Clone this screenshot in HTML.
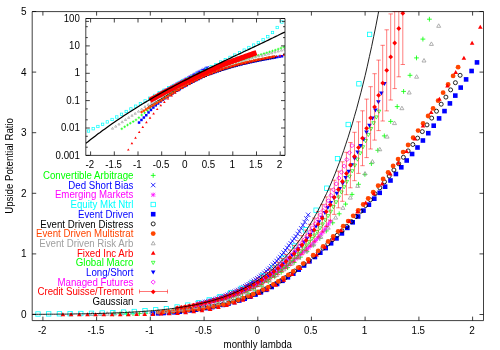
<!DOCTYPE html>
<html><head><meta charset="utf-8"><title>Upside Potential Ratio</title>
<style>
html,body{margin:0;padding:0;background:#fff;}
svg{display:block;filter:blur(0.35px);font-family:"Liberation Sans",sans-serif;font-size:10px;}
</style></head><body>
<svg width="500" height="350" viewBox="0 0 500 350">
<rect width="500" height="350" fill="#fff"/>
<clipPath id="cm"><rect x="32.2" y="11.6" width="451.3" height="309.0"/></clipPath>
<clipPath id="ci"><rect x="85.8" y="18.5" width="199.2" height="136.9"/></clipPath>
<g>
<path d="M427.0,19.2H431.8M429.4,16.8V21.6" stroke="#00ff00" stroke-width="0.8" fill="none"/>
<path d="M420.5,39.1H425.3M422.9,36.7V41.5" stroke="#00ff00" stroke-width="0.8" fill="none"/>
<path d="M414.1,57.9H418.9M416.5,55.5V60.3" stroke="#00ff00" stroke-width="0.8" fill="none"/>
<path d="M407.6,75.3H412.4M410.0,72.9V77.7" stroke="#00ff00" stroke-width="0.8" fill="none"/>
<path d="M401.2,91.4H406.0M403.6,89.0V93.8" stroke="#00ff00" stroke-width="0.8" fill="none"/>
<path d="M394.8,106.6H399.6M397.2,104.2V109.0" stroke="#00ff00" stroke-width="0.8" fill="none"/>
<path d="M388.3,121.4H393.1M390.7,119.0V123.8" stroke="#00ff00" stroke-width="0.8" fill="none"/>
<path d="M381.9,135.9H386.7M384.3,133.5V138.3" stroke="#00ff00" stroke-width="0.8" fill="none"/>
<path d="M375.4,150.3H380.2M377.8,147.9V152.7" stroke="#00ff00" stroke-width="0.8" fill="none"/>
<path d="M369.0,163.6H373.8M371.4,161.2V166.0" stroke="#00ff00" stroke-width="0.8" fill="none"/>
<path d="M362.5,174.4H367.3M364.9,172.0V176.8" stroke="#00ff00" stroke-width="0.8" fill="none"/>
<path d="M356.1,184.3H360.9M358.5,181.9V186.7" stroke="#00ff00" stroke-width="0.8" fill="none"/>
<path d="M349.6,194.4H354.4M352.0,192.0V196.8" stroke="#00ff00" stroke-width="0.8" fill="none"/>
<path d="M343.2,204.1H348.0M345.6,201.7V206.5" stroke="#00ff00" stroke-width="0.8" fill="none"/>
<path d="M336.8,213.8H341.6M339.2,211.4V216.2" stroke="#00ff00" stroke-width="0.8" fill="none"/>
<path d="M330.3,222.8H335.1M332.7,220.4V225.2" stroke="#00ff00" stroke-width="0.8" fill="none"/>
<path d="M323.9,230.9H328.7M326.3,228.5V233.3" stroke="#00ff00" stroke-width="0.8" fill="none"/>
<path d="M317.4,238.3H322.2M319.8,235.9V240.7" stroke="#00ff00" stroke-width="0.8" fill="none"/>
<path d="M311.0,245.1H315.8M313.4,242.7V247.5" stroke="#00ff00" stroke-width="0.8" fill="none"/>
<path d="M304.5,251.4H309.3M306.9,249.0V253.8" stroke="#00ff00" stroke-width="0.8" fill="none"/>
<path d="M298.1,257.1H302.9M300.5,254.7V259.5" stroke="#00ff00" stroke-width="0.8" fill="none"/>
<path d="M291.7,262.5H296.5M294.1,260.1V264.9" stroke="#00ff00" stroke-width="0.8" fill="none"/>
<path d="M285.2,267.6H290.0M287.6,265.2V270.0" stroke="#00ff00" stroke-width="0.8" fill="none"/>
<path d="M278.8,272.3H283.6M281.2,269.9V274.7" stroke="#00ff00" stroke-width="0.8" fill="none"/>
<path d="M272.3,276.8H277.1M274.7,274.4V279.2" stroke="#00ff00" stroke-width="0.8" fill="none"/>
<path d="M265.9,281.5H270.7M268.3,279.1V283.9" stroke="#00ff00" stroke-width="0.8" fill="none"/>
<path d="M259.4,286.2H264.2M261.8,283.8V288.6" stroke="#00ff00" stroke-width="0.8" fill="none"/>
<path d="M253.0,290.2H257.8M255.4,287.8V292.6" stroke="#00ff00" stroke-width="0.8" fill="none"/>
<path d="M246.5,293.7H251.3M248.9,291.3V296.1" stroke="#00ff00" stroke-width="0.8" fill="none"/>
<path d="M240.1,296.7H244.9M242.5,294.3V299.1" stroke="#00ff00" stroke-width="0.8" fill="none"/>
<path d="M233.7,299.3H238.5M236.1,296.9V301.7" stroke="#00ff00" stroke-width="0.8" fill="none"/>
<path d="M227.2,301.5H232.0M229.6,299.1V303.9" stroke="#00ff00" stroke-width="0.8" fill="none"/>
<path d="M220.8,303.4H225.6M223.2,301.0V305.8" stroke="#00ff00" stroke-width="0.8" fill="none"/>
<path d="M214.3,305.0H219.1M216.7,302.6V307.4" stroke="#00ff00" stroke-width="0.8" fill="none"/>
<path d="M207.9,306.5H212.7M210.3,304.1V308.9" stroke="#00ff00" stroke-width="0.8" fill="none"/>
<path d="M201.4,307.7H206.2M203.8,305.3V310.1" stroke="#00ff00" stroke-width="0.8" fill="none"/>
<path d="M195.0,308.8H199.8M197.4,306.4V311.2" stroke="#00ff00" stroke-width="0.8" fill="none"/>
<path d="M188.5,309.8H193.3M190.9,307.4V312.2" stroke="#00ff00" stroke-width="0.8" fill="none"/>
<path d="M182.1,310.6H186.9M184.5,308.2V313.0" stroke="#00ff00" stroke-width="0.8" fill="none"/>
<path d="M175.7,311.3H180.5M178.1,308.9V313.7" stroke="#00ff00" stroke-width="0.8" fill="none"/>
<path d="M169.2,311.9H174.0M171.6,309.5V314.3" stroke="#00ff00" stroke-width="0.8" fill="none"/>
<path d="M162.8,312.3H167.6M165.2,309.9V314.7" stroke="#00ff00" stroke-width="0.8" fill="none"/>
<path d="M156.3,312.7H161.1M158.7,310.3V315.1" stroke="#00ff00" stroke-width="0.8" fill="none"/>
<path d="M149.9,313.1H154.7M152.3,310.7V315.5" stroke="#00ff00" stroke-width="0.8" fill="none"/>
<path d="M143.4,313.3H148.2M145.8,310.9V315.7" stroke="#00ff00" stroke-width="0.8" fill="none"/>
<path d="M137.0,313.5H141.8M139.4,311.1V315.9" stroke="#00ff00" stroke-width="0.8" fill="none"/>
<path d="M130.6,313.6H135.4M133.0,311.2V316.0" stroke="#00ff00" stroke-width="0.8" fill="none"/>
<path d="M124.1,313.7H128.9M126.5,311.3V316.1" stroke="#00ff00" stroke-width="0.8" fill="none"/>
<path d="M117.7,313.8H122.5M120.1,311.4V316.2" stroke="#00ff00" stroke-width="0.8" fill="none"/>
<path d="M111.2,313.9H116.0M113.6,311.5V316.3" stroke="#00ff00" stroke-width="0.8" fill="none"/>
<path d="M306.0,212.6L310.4,217.0M306.0,217.0L310.4,212.6" stroke="#0000ff" stroke-width="0.8" fill="none"/>
<path d="M304.2,216.3L308.6,220.7M304.2,220.7L308.6,216.3" stroke="#0000ff" stroke-width="0.8" fill="none"/>
<path d="M302.5,219.8L306.9,224.2M302.5,224.2L306.9,219.8" stroke="#0000ff" stroke-width="0.8" fill="none"/>
<path d="M300.7,223.0L305.1,227.4M300.7,227.4L305.1,223.0" stroke="#0000ff" stroke-width="0.8" fill="none"/>
<path d="M299.0,226.1L303.4,230.5M299.0,230.5L303.4,226.1" stroke="#0000ff" stroke-width="0.8" fill="none"/>
<path d="M297.2,229.0L301.6,233.4M297.2,233.4L301.6,229.0" stroke="#0000ff" stroke-width="0.8" fill="none"/>
<path d="M295.5,231.7L299.9,236.1M295.5,236.1L299.9,231.7" stroke="#0000ff" stroke-width="0.8" fill="none"/>
<path d="M293.7,234.2L298.1,238.6M293.7,238.6L298.1,234.2" stroke="#0000ff" stroke-width="0.8" fill="none"/>
<path d="M292.0,236.5L296.4,240.9M292.0,240.9L296.4,236.5" stroke="#0000ff" stroke-width="0.8" fill="none"/>
<path d="M290.2,238.8L294.6,243.2M290.2,243.2L294.6,238.8" stroke="#0000ff" stroke-width="0.8" fill="none"/>
<path d="M288.5,241.1L292.9,245.5M288.5,245.5L292.9,241.1" stroke="#0000ff" stroke-width="0.8" fill="none"/>
<path d="M286.7,243.3L291.1,247.7M286.7,247.7L291.1,243.3" stroke="#0000ff" stroke-width="0.8" fill="none"/>
<path d="M285.0,245.7L289.4,250.1M285.0,250.1L289.4,245.7" stroke="#0000ff" stroke-width="0.8" fill="none"/>
<path d="M283.2,248.1L287.6,252.5M283.2,252.5L287.6,248.1" stroke="#0000ff" stroke-width="0.8" fill="none"/>
<path d="M281.5,250.4L285.9,254.8M281.5,254.8L285.9,250.4" stroke="#0000ff" stroke-width="0.8" fill="none"/>
<path d="M279.7,252.7L284.1,257.1M279.7,257.1L284.1,252.7" stroke="#0000ff" stroke-width="0.8" fill="none"/>
<path d="M278.0,254.8L282.4,259.2M278.0,259.2L282.4,254.8" stroke="#0000ff" stroke-width="0.8" fill="none"/>
<path d="M276.2,256.8L280.6,261.2M276.2,261.2L280.6,256.8" stroke="#0000ff" stroke-width="0.8" fill="none"/>
<path d="M274.5,258.8L278.9,263.2M274.5,263.2L278.9,258.8" stroke="#0000ff" stroke-width="0.8" fill="none"/>
<path d="M272.7,260.7L277.1,265.1M272.7,265.1L277.1,260.7" stroke="#0000ff" stroke-width="0.8" fill="none"/>
<path d="M271.0,262.5L275.4,266.9M271.0,266.9L275.4,262.5" stroke="#0000ff" stroke-width="0.8" fill="none"/>
<path d="M269.2,264.2L273.6,268.6M269.2,268.6L273.6,264.2" stroke="#0000ff" stroke-width="0.8" fill="none"/>
<path d="M267.5,265.9L271.9,270.3M267.5,270.3L271.9,265.9" stroke="#0000ff" stroke-width="0.8" fill="none"/>
<path d="M265.7,267.5L270.1,271.9M265.7,271.9L270.1,267.5" stroke="#0000ff" stroke-width="0.8" fill="none"/>
<path d="M264.0,269.1L268.4,273.5M264.0,273.5L268.4,269.1" stroke="#0000ff" stroke-width="0.8" fill="none"/>
<path d="M262.2,270.6L266.6,275.0M262.2,275.0L266.6,270.6" stroke="#0000ff" stroke-width="0.8" fill="none"/>
<path d="M260.5,272.1L264.9,276.5M260.5,276.5L264.9,272.1" stroke="#0000ff" stroke-width="0.8" fill="none"/>
<path d="M258.7,273.5L263.1,277.9M258.7,277.9L263.1,273.5" stroke="#0000ff" stroke-width="0.8" fill="none"/>
<path d="M257.0,274.8L261.4,279.2M257.0,279.2L261.4,274.8" stroke="#0000ff" stroke-width="0.8" fill="none"/>
<path d="M255.2,276.1L259.6,280.5M255.2,280.5L259.6,276.1" stroke="#0000ff" stroke-width="0.8" fill="none"/>
<path d="M253.5,277.4L257.9,281.8M253.5,281.8L257.9,277.4" stroke="#0000ff" stroke-width="0.8" fill="none"/>
<path d="M251.7,278.6L256.1,283.0M251.7,283.0L256.1,278.6" stroke="#0000ff" stroke-width="0.8" fill="none"/>
<path d="M250.0,279.7L254.4,284.1M250.0,284.1L254.4,279.7" stroke="#0000ff" stroke-width="0.8" fill="none"/>
<path d="M248.2,280.9L252.6,285.3M248.2,285.3L252.6,280.9" stroke="#0000ff" stroke-width="0.8" fill="none"/>
<path d="M246.5,282.0L250.9,286.4M246.5,286.4L250.9,282.0" stroke="#0000ff" stroke-width="0.8" fill="none"/>
<path d="M244.7,283.0L249.1,287.4M244.7,287.4L249.1,283.0" stroke="#0000ff" stroke-width="0.8" fill="none"/>
<path d="M243.0,284.0L247.4,288.4M243.0,288.4L247.4,284.0" stroke="#0000ff" stroke-width="0.8" fill="none"/>
<path d="M241.2,285.0L245.6,289.4M241.2,289.4L245.6,285.0" stroke="#0000ff" stroke-width="0.8" fill="none"/>
<path d="M239.5,286.0L243.9,290.4M239.5,290.4L243.9,286.0" stroke="#0000ff" stroke-width="0.8" fill="none"/>
<path d="M237.7,286.9L242.1,291.3M237.7,291.3L242.1,286.9" stroke="#0000ff" stroke-width="0.8" fill="none"/>
<path d="M236.0,287.8L240.4,292.2M236.0,292.2L240.4,287.8" stroke="#0000ff" stroke-width="0.8" fill="none"/>
<path d="M234.2,288.6L238.6,293.0M234.2,293.0L238.6,288.6" stroke="#0000ff" stroke-width="0.8" fill="none"/>
<path d="M232.5,289.5L236.9,293.9M232.5,293.9L236.9,289.5" stroke="#0000ff" stroke-width="0.8" fill="none"/>
<path d="M230.7,290.3L235.1,294.7M230.7,294.7L235.1,290.3" stroke="#0000ff" stroke-width="0.8" fill="none"/>
<path d="M229.0,291.0L233.4,295.4M229.0,295.4L233.4,291.0" stroke="#0000ff" stroke-width="0.8" fill="none"/>
<path d="M227.2,291.8L231.6,296.2M227.2,296.2L231.6,291.8" stroke="#0000ff" stroke-width="0.8" fill="none"/>
<path d="M225.5,292.5L229.9,296.9M225.5,296.9L229.9,292.5" stroke="#0000ff" stroke-width="0.8" fill="none"/>
<path d="M223.7,293.2L228.1,297.6M223.7,297.6L228.1,293.2" stroke="#0000ff" stroke-width="0.8" fill="none"/>
<path d="M222.0,293.9L226.4,298.3M222.0,298.3L226.4,293.9" stroke="#0000ff" stroke-width="0.8" fill="none"/>
<path d="M220.2,294.5L224.6,298.9M220.2,298.9L224.6,294.5" stroke="#0000ff" stroke-width="0.8" fill="none"/>
<path d="M218.5,295.2L222.9,299.6M218.5,299.6L222.9,295.2" stroke="#0000ff" stroke-width="0.8" fill="none"/>
<path d="M216.7,295.8L221.1,300.2M216.7,300.2L221.1,295.8" stroke="#0000ff" stroke-width="0.8" fill="none"/>
<path d="M215.0,296.4L219.4,300.8M215.0,300.8L219.4,296.4" stroke="#0000ff" stroke-width="0.8" fill="none"/>
<path d="M213.2,297.0L217.6,301.4M213.2,301.4L217.6,297.0" stroke="#0000ff" stroke-width="0.8" fill="none"/>
<path d="M211.5,297.5L215.9,301.9M211.5,301.9L215.9,297.5" stroke="#0000ff" stroke-width="0.8" fill="none"/>
<path d="M209.7,298.1L214.1,302.5M209.7,302.5L214.1,298.1" stroke="#0000ff" stroke-width="0.8" fill="none"/>
<path d="M208.0,298.6L212.4,303.0M208.0,303.0L212.4,298.6" stroke="#0000ff" stroke-width="0.8" fill="none"/>
<path d="M206.2,299.1L210.6,303.5M206.2,303.5L210.6,299.1" stroke="#0000ff" stroke-width="0.8" fill="none"/>
<path d="M204.5,299.6L208.9,304.0M204.5,304.0L208.9,299.6" stroke="#0000ff" stroke-width="0.8" fill="none"/>
<path d="M202.7,300.0L207.1,304.4M202.7,304.4L207.1,300.0" stroke="#0000ff" stroke-width="0.8" fill="none"/>
<path d="M201.0,300.5L205.4,304.9M201.0,304.9L205.4,300.5" stroke="#0000ff" stroke-width="0.8" fill="none"/>
<path d="M199.2,300.9L203.6,305.3M199.2,305.3L203.6,300.9" stroke="#0000ff" stroke-width="0.8" fill="none"/>
<path d="M197.5,301.3L201.9,305.7M197.5,305.7L201.9,301.3" stroke="#0000ff" stroke-width="0.8" fill="none"/>
<path d="M195.7,301.7L200.1,306.1M195.7,306.1L200.1,301.7" stroke="#0000ff" stroke-width="0.8" fill="none"/>
<path d="M328.1,221.3H332.7M330.4,219.0V223.6M328.4,219.3L332.4,223.3M328.4,223.3L332.4,219.3" stroke="#ff00ff" stroke-opacity="0.9" stroke-width="0.75" fill="none"/>
<path d="M326.2,224.1H330.8M328.5,221.8V226.4M326.5,222.1L330.5,226.1M326.5,226.1L330.5,222.1" stroke="#ff00ff" stroke-opacity="0.9" stroke-width="0.75" fill="none"/>
<path d="M324.4,226.8H329.0M326.7,224.5V229.1M324.7,224.8L328.7,228.8M324.7,228.8L328.7,224.8" stroke="#ff00ff" stroke-opacity="0.9" stroke-width="0.75" fill="none"/>
<path d="M322.6,229.3H327.2M324.9,227.0V231.6M322.9,227.3L326.9,231.3M322.9,231.3L326.9,227.3" stroke="#ff00ff" stroke-opacity="0.9" stroke-width="0.75" fill="none"/>
<path d="M320.7,231.8H325.3M323.0,229.5V234.1M321.0,229.8L325.0,233.8M321.0,233.8L325.0,229.8" stroke="#ff00ff" stroke-opacity="0.9" stroke-width="0.75" fill="none"/>
<path d="M318.9,234.1H323.5M321.2,231.8V236.4M319.2,232.1L323.2,236.1M319.2,236.1L323.2,232.1" stroke="#ff00ff" stroke-opacity="0.9" stroke-width="0.75" fill="none"/>
<path d="M317.1,236.3H321.7M319.4,234.0V238.6M317.4,234.3L321.4,238.3M317.4,238.3L321.4,234.3" stroke="#ff00ff" stroke-opacity="0.9" stroke-width="0.75" fill="none"/>
<path d="M315.3,238.4H319.9M317.6,236.1V240.7M315.6,236.4L319.6,240.4M315.6,240.4L319.6,236.4" stroke="#ff00ff" stroke-opacity="0.9" stroke-width="0.75" fill="none"/>
<path d="M313.4,240.5H318.0M315.7,238.2V242.8M313.7,238.5L317.7,242.5M313.7,242.5L317.7,238.5" stroke="#ff00ff" stroke-opacity="0.9" stroke-width="0.75" fill="none"/>
<path d="M311.6,242.4H316.2M313.9,240.1V244.7M311.9,240.4L315.9,244.4M311.9,244.4L315.9,240.4" stroke="#ff00ff" stroke-opacity="0.9" stroke-width="0.75" fill="none"/>
<path d="M309.8,244.3H314.4M312.1,242.0V246.6M310.1,242.3L314.1,246.3M310.1,246.3L314.1,242.3" stroke="#ff00ff" stroke-opacity="0.9" stroke-width="0.75" fill="none"/>
<path d="M308.0,246.1H312.6M310.3,243.8V248.4M308.3,244.1L312.3,248.1M308.3,248.1L312.3,244.1" stroke="#ff00ff" stroke-opacity="0.9" stroke-width="0.75" fill="none"/>
<path d="M306.1,247.7H310.7M308.4,245.4V250.0M306.4,245.7L310.4,249.7M306.4,249.7L310.4,245.7" stroke="#ff00ff" stroke-opacity="0.9" stroke-width="0.75" fill="none"/>
<path d="M304.3,249.2H308.9M306.6,246.9V251.5M304.6,247.2L308.6,251.2M304.6,251.2L308.6,247.2" stroke="#ff00ff" stroke-opacity="0.9" stroke-width="0.75" fill="none"/>
<path d="M302.5,250.6H307.1M304.8,248.3V252.9M302.8,248.6L306.8,252.6M302.8,252.6L306.8,248.6" stroke="#ff00ff" stroke-opacity="0.9" stroke-width="0.75" fill="none"/>
<path d="M300.7,252.1H305.3M303.0,249.8V254.4M301.0,250.1L305.0,254.1M301.0,254.1L305.0,250.1" stroke="#ff00ff" stroke-opacity="0.9" stroke-width="0.75" fill="none"/>
<path d="M298.8,253.7H303.4M301.1,251.4V256.0M299.1,251.7L303.1,255.7M299.1,255.7L303.1,251.7" stroke="#ff00ff" stroke-opacity="0.9" stroke-width="0.75" fill="none"/>
<path d="M297.0,255.4H301.6M299.3,253.1V257.7M297.3,253.4L301.3,257.4M297.3,257.4L301.3,253.4" stroke="#ff00ff" stroke-opacity="0.9" stroke-width="0.75" fill="none"/>
<path d="M295.2,257.0H299.8M297.5,254.7V259.3M295.5,255.0L299.5,259.0M295.5,259.0L299.5,255.0" stroke="#ff00ff" stroke-opacity="0.9" stroke-width="0.75" fill="none"/>
<path d="M293.4,258.6H298.0M295.7,256.3V260.9M293.7,256.6L297.7,260.6M293.7,260.6L297.7,256.6" stroke="#ff00ff" stroke-opacity="0.9" stroke-width="0.75" fill="none"/>
<path d="M291.5,260.1H296.1M293.8,257.8V262.4M291.8,258.1L295.8,262.1M291.8,262.1L295.8,258.1" stroke="#ff00ff" stroke-opacity="0.9" stroke-width="0.75" fill="none"/>
<path d="M289.7,261.6H294.3M292.0,259.3V263.9M290.0,259.6L294.0,263.6M290.0,263.6L294.0,259.6" stroke="#ff00ff" stroke-opacity="0.9" stroke-width="0.75" fill="none"/>
<path d="M287.9,263.1H292.5M290.2,260.8V265.4M288.2,261.1L292.2,265.1M288.2,265.1L292.2,261.1" stroke="#ff00ff" stroke-opacity="0.9" stroke-width="0.75" fill="none"/>
<path d="M286.1,264.5H290.7M288.4,262.2V266.8M286.4,262.5L290.4,266.5M286.4,266.5L290.4,262.5" stroke="#ff00ff" stroke-opacity="0.9" stroke-width="0.75" fill="none"/>
<path d="M284.2,265.8H288.8M286.5,263.5V268.1M284.5,263.8L288.5,267.8M284.5,267.8L288.5,263.8" stroke="#ff00ff" stroke-opacity="0.9" stroke-width="0.75" fill="none"/>
<path d="M282.4,267.1H287.0M284.7,264.8V269.4M282.7,265.1L286.7,269.1M282.7,269.1L286.7,265.1" stroke="#ff00ff" stroke-opacity="0.9" stroke-width="0.75" fill="none"/>
<path d="M280.6,268.3H285.2M282.9,266.0V270.6M280.9,266.3L284.9,270.3M280.9,270.3L284.9,266.3" stroke="#ff00ff" stroke-opacity="0.9" stroke-width="0.75" fill="none"/>
<path d="M278.8,269.6H283.4M281.1,267.3V271.9M279.1,267.6L283.1,271.6M279.1,271.6L283.1,267.6" stroke="#ff00ff" stroke-opacity="0.9" stroke-width="0.75" fill="none"/>
<path d="M276.9,270.9H281.5M279.2,268.6V273.2M277.2,268.9L281.2,272.9M277.2,272.9L281.2,268.9" stroke="#ff00ff" stroke-opacity="0.9" stroke-width="0.75" fill="none"/>
<path d="M275.1,272.3H279.7M277.4,270.0V274.6M275.4,270.3L279.4,274.3M275.4,274.3L279.4,270.3" stroke="#ff00ff" stroke-opacity="0.9" stroke-width="0.75" fill="none"/>
<path d="M273.3,273.6H277.9M275.6,271.3V275.9M273.6,271.6L277.6,275.6M273.6,275.6L277.6,271.6" stroke="#ff00ff" stroke-opacity="0.9" stroke-width="0.75" fill="none"/>
<path d="M271.5,274.9H276.1M273.8,272.6V277.2M271.8,272.9L275.8,276.9M271.8,276.9L275.8,272.9" stroke="#ff00ff" stroke-opacity="0.9" stroke-width="0.75" fill="none"/>
<path d="M269.6,276.1H274.2M271.9,273.8V278.4M269.9,274.1L273.9,278.1M269.9,278.1L273.9,274.1" stroke="#ff00ff" stroke-opacity="0.9" stroke-width="0.75" fill="none"/>
<path d="M267.8,277.3H272.4M270.1,275.0V279.6M268.1,275.3L272.1,279.3M268.1,279.3L272.1,275.3" stroke="#ff00ff" stroke-opacity="0.9" stroke-width="0.75" fill="none"/>
<path d="M266.0,278.5H270.6M268.3,276.2V280.8M266.3,276.5L270.3,280.5M266.3,280.5L270.3,276.5" stroke="#ff00ff" stroke-opacity="0.9" stroke-width="0.75" fill="none"/>
<path d="M264.1,279.7H268.7M266.4,277.4V282.0M264.4,277.7L268.4,281.7M264.4,281.7L268.4,277.7" stroke="#ff00ff" stroke-opacity="0.9" stroke-width="0.75" fill="none"/>
<path d="M262.3,280.8H266.9M264.6,278.5V283.1M262.6,278.8L266.6,282.8M262.6,282.8L266.6,278.8" stroke="#ff00ff" stroke-opacity="0.9" stroke-width="0.75" fill="none"/>
<path d="M260.5,281.9H265.1M262.8,279.6V284.2M260.8,279.9L264.8,283.9M260.8,283.9L264.8,279.9" stroke="#ff00ff" stroke-opacity="0.9" stroke-width="0.75" fill="none"/>
<path d="M258.7,283.0H263.3M261.0,280.7V285.3M259.0,281.0L263.0,285.0M259.0,285.0L263.0,281.0" stroke="#ff00ff" stroke-opacity="0.9" stroke-width="0.75" fill="none"/>
<path d="M256.8,284.0H261.4M259.1,281.7V286.3M257.1,282.0L261.1,286.0M257.1,286.0L261.1,282.0" stroke="#ff00ff" stroke-opacity="0.9" stroke-width="0.75" fill="none"/>
<path d="M255.0,285.0H259.6M257.3,282.7V287.3M255.3,283.0L259.3,287.0M255.3,287.0L259.3,283.0" stroke="#ff00ff" stroke-opacity="0.9" stroke-width="0.75" fill="none"/>
<path d="M253.2,286.0H257.8M255.5,283.7V288.3M253.5,284.0L257.5,288.0M253.5,288.0L257.5,284.0" stroke="#ff00ff" stroke-opacity="0.9" stroke-width="0.75" fill="none"/>
<path d="M251.4,286.9H256.0M253.7,284.6V289.2M251.7,284.9L255.7,288.9M251.7,288.9L255.7,284.9" stroke="#ff00ff" stroke-opacity="0.9" stroke-width="0.75" fill="none"/>
<path d="M249.5,287.8H254.1M251.8,285.5V290.1M249.8,285.8L253.8,289.8M249.8,289.8L253.8,285.8" stroke="#ff00ff" stroke-opacity="0.9" stroke-width="0.75" fill="none"/>
<path d="M247.7,288.7H252.3M250.0,286.4V291.0M248.0,286.7L252.0,290.7M248.0,290.7L252.0,286.7" stroke="#ff00ff" stroke-opacity="0.9" stroke-width="0.75" fill="none"/>
<path d="M245.9,289.5H250.5M248.2,287.2V291.8M246.2,287.5L250.2,291.5M246.2,291.5L250.2,287.5" stroke="#ff00ff" stroke-opacity="0.9" stroke-width="0.75" fill="none"/>
<path d="M244.1,290.4H248.7M246.4,288.1V292.7M244.4,288.4L248.4,292.4M244.4,292.4L248.4,288.4" stroke="#ff00ff" stroke-opacity="0.9" stroke-width="0.75" fill="none"/>
<path d="M242.2,291.2H246.8M244.5,288.9V293.5M242.5,289.2L246.5,293.2M242.5,293.2L246.5,289.2" stroke="#ff00ff" stroke-opacity="0.9" stroke-width="0.75" fill="none"/>
<path d="M240.4,291.9H245.0M242.7,289.6V294.2M240.7,289.9L244.7,293.9M240.7,293.9L244.7,289.9" stroke="#ff00ff" stroke-opacity="0.9" stroke-width="0.75" fill="none"/>
<path d="M238.6,292.7H243.2M240.9,290.4V295.0M238.9,290.7L242.9,294.7M238.9,294.7L242.9,290.7" stroke="#ff00ff" stroke-opacity="0.9" stroke-width="0.75" fill="none"/>
<path d="M236.8,293.4H241.4M239.1,291.1V295.7M237.1,291.4L241.1,295.4M237.1,295.4L241.1,291.4" stroke="#ff00ff" stroke-opacity="0.9" stroke-width="0.75" fill="none"/>
<path d="M234.9,294.1H239.5M237.2,291.8V296.4M235.2,292.1L239.2,296.1M235.2,296.1L239.2,292.1" stroke="#ff00ff" stroke-opacity="0.9" stroke-width="0.75" fill="none"/>
<path d="M233.1,294.8H237.7M235.4,292.5V297.1M233.4,292.8L237.4,296.8M233.4,296.8L237.4,292.8" stroke="#ff00ff" stroke-opacity="0.9" stroke-width="0.75" fill="none"/>
<path d="M231.3,295.5H235.9M233.6,293.2V297.8M231.6,293.5L235.6,297.5M231.6,297.5L235.6,293.5" stroke="#ff00ff" stroke-opacity="0.9" stroke-width="0.75" fill="none"/>
<path d="M229.5,296.2H234.1M231.8,293.9V298.5M229.8,294.2L233.8,298.2M229.8,298.2L233.8,294.2" stroke="#ff00ff" stroke-opacity="0.9" stroke-width="0.75" fill="none"/>
<path d="M227.6,296.8H232.2M229.9,294.5V299.1M227.9,294.8L231.9,298.8M227.9,298.8L231.9,294.8" stroke="#ff00ff" stroke-opacity="0.9" stroke-width="0.75" fill="none"/>
<path d="M225.8,297.4H230.4M228.1,295.1V299.7M226.1,295.4L230.1,299.4M226.1,299.4L230.1,295.4" stroke="#ff00ff" stroke-opacity="0.9" stroke-width="0.75" fill="none"/>
<path d="M224.0,298.0H228.6M226.3,295.7V300.3M224.3,296.0L228.3,300.0M224.3,300.0L228.3,296.0" stroke="#ff00ff" stroke-opacity="0.9" stroke-width="0.75" fill="none"/>
<path d="M222.2,298.6H226.8M224.5,296.3V300.9M222.5,296.6L226.5,300.6M222.5,300.6L226.5,296.6" stroke="#ff00ff" stroke-opacity="0.9" stroke-width="0.75" fill="none"/>
<path d="M220.3,299.1H224.9M222.6,296.8V301.4M220.6,297.1L224.6,301.1M220.6,301.1L224.6,297.1" stroke="#ff00ff" stroke-opacity="0.9" stroke-width="0.75" fill="none"/>
<path d="M218.5,299.7H223.1M220.8,297.4V302.0M218.8,297.7L222.8,301.7M218.8,301.7L222.8,297.7" stroke="#ff00ff" stroke-opacity="0.9" stroke-width="0.75" fill="none"/>
<rect x="367.4" y="32.2" width="4.4" height="4.4" stroke="#00ffff" stroke-width="0.8" fill="none"/>
<rect x="356.7" y="81.6" width="4.4" height="4.4" stroke="#00ffff" stroke-width="0.8" fill="none"/>
<rect x="346.0" y="122.3" width="4.4" height="4.4" stroke="#00ffff" stroke-width="0.8" fill="none"/>
<rect x="335.3" y="156.4" width="4.4" height="4.4" stroke="#00ffff" stroke-width="0.8" fill="none"/>
<rect x="324.6" y="186.0" width="4.4" height="4.4" stroke="#00ffff" stroke-width="0.8" fill="none"/>
<rect x="313.9" y="208.0" width="4.4" height="4.4" stroke="#00ffff" stroke-width="0.8" fill="none"/>
<rect x="303.2" y="227.6" width="4.4" height="4.4" stroke="#00ffff" stroke-width="0.8" fill="none"/>
<rect x="292.5" y="243.8" width="4.4" height="4.4" stroke="#00ffff" stroke-width="0.8" fill="none"/>
<rect x="281.8" y="255.8" width="4.4" height="4.4" stroke="#00ffff" stroke-width="0.8" fill="none"/>
<rect x="271.1" y="265.7" width="4.4" height="4.4" stroke="#00ffff" stroke-width="0.8" fill="none"/>
<rect x="260.4" y="273.8" width="4.4" height="4.4" stroke="#00ffff" stroke-width="0.8" fill="none"/>
<rect x="249.8" y="280.6" width="4.4" height="4.4" stroke="#00ffff" stroke-width="0.8" fill="none"/>
<rect x="239.1" y="286.1" width="4.4" height="4.4" stroke="#00ffff" stroke-width="0.8" fill="none"/>
<rect x="228.4" y="290.6" width="4.4" height="4.4" stroke="#00ffff" stroke-width="0.8" fill="none"/>
<rect x="217.7" y="294.4" width="4.4" height="4.4" stroke="#00ffff" stroke-width="0.8" fill="none"/>
<rect x="207.0" y="297.7" width="4.4" height="4.4" stroke="#00ffff" stroke-width="0.8" fill="none"/>
<rect x="196.3" y="300.6" width="4.4" height="4.4" stroke="#00ffff" stroke-width="0.8" fill="none"/>
<rect x="185.6" y="302.9" width="4.4" height="4.4" stroke="#00ffff" stroke-width="0.8" fill="none"/>
<rect x="174.9" y="304.8" width="4.4" height="4.4" stroke="#00ffff" stroke-width="0.8" fill="none"/>
<rect x="164.2" y="306.4" width="4.4" height="4.4" stroke="#00ffff" stroke-width="0.8" fill="none"/>
<rect x="153.5" y="307.6" width="4.4" height="4.4" stroke="#00ffff" stroke-width="0.8" fill="none"/>
<rect x="142.8" y="308.5" width="4.4" height="4.4" stroke="#00ffff" stroke-width="0.8" fill="none"/>
<rect x="132.1" y="309.3" width="4.4" height="4.4" stroke="#00ffff" stroke-width="0.8" fill="none"/>
<rect x="121.4" y="309.9" width="4.4" height="4.4" stroke="#00ffff" stroke-width="0.8" fill="none"/>
<rect x="110.7" y="310.4" width="4.4" height="4.4" stroke="#00ffff" stroke-width="0.8" fill="none"/>
<rect x="100.0" y="310.8" width="4.4" height="4.4" stroke="#00ffff" stroke-width="0.8" fill="none"/>
<rect x="89.3" y="311.1" width="4.4" height="4.4" stroke="#00ffff" stroke-width="0.8" fill="none"/>
<rect x="78.6" y="311.3" width="4.4" height="4.4" stroke="#00ffff" stroke-width="0.8" fill="none"/>
<rect x="67.9" y="311.5" width="4.4" height="4.4" stroke="#00ffff" stroke-width="0.8" fill="none"/>
<rect x="57.2" y="311.6" width="4.4" height="4.4" stroke="#00ffff" stroke-width="0.8" fill="none"/>
<rect x="46.5" y="311.7" width="4.4" height="4.4" stroke="#00ffff" stroke-width="0.8" fill="none"/>
<rect x="35.8" y="311.8" width="4.4" height="4.4" stroke="#00ffff" stroke-width="0.8" fill="none"/>
<rect x="474.7" y="60.1" width="4.6" height="4.6" fill="#0000ff"/>
<rect x="469.3" y="68.7" width="4.6" height="4.6" fill="#0000ff"/>
<rect x="463.8" y="77.1" width="4.6" height="4.6" fill="#0000ff"/>
<rect x="458.4" y="85.3" width="4.6" height="4.6" fill="#0000ff"/>
<rect x="453.0" y="93.3" width="4.6" height="4.6" fill="#0000ff"/>
<rect x="447.6" y="101.1" width="4.6" height="4.6" fill="#0000ff"/>
<rect x="442.2" y="108.8" width="4.6" height="4.6" fill="#0000ff"/>
<rect x="436.8" y="116.1" width="4.6" height="4.6" fill="#0000ff"/>
<rect x="431.4" y="123.4" width="4.6" height="4.6" fill="#0000ff"/>
<rect x="426.0" y="130.9" width="4.6" height="4.6" fill="#0000ff"/>
<rect x="420.6" y="138.2" width="4.6" height="4.6" fill="#0000ff"/>
<rect x="415.2" y="145.2" width="4.6" height="4.6" fill="#0000ff"/>
<rect x="409.8" y="151.7" width="4.6" height="4.6" fill="#0000ff"/>
<rect x="404.4" y="158.2" width="4.6" height="4.6" fill="#0000ff"/>
<rect x="399.0" y="165.0" width="4.6" height="4.6" fill="#0000ff"/>
<rect x="393.6" y="171.7" width="4.6" height="4.6" fill="#0000ff"/>
<rect x="388.2" y="178.2" width="4.6" height="4.6" fill="#0000ff"/>
<rect x="382.8" y="184.4" width="4.6" height="4.6" fill="#0000ff"/>
<rect x="377.4" y="190.5" width="4.6" height="4.6" fill="#0000ff"/>
<rect x="372.0" y="196.4" width="4.6" height="4.6" fill="#0000ff"/>
<rect x="366.6" y="202.4" width="4.6" height="4.6" fill="#0000ff"/>
<rect x="361.2" y="208.3" width="4.6" height="4.6" fill="#0000ff"/>
<rect x="355.8" y="214.2" width="4.6" height="4.6" fill="#0000ff"/>
<rect x="350.4" y="220.0" width="4.6" height="4.6" fill="#0000ff"/>
<rect x="345.0" y="225.6" width="4.6" height="4.6" fill="#0000ff"/>
<rect x="339.6" y="231.1" width="4.6" height="4.6" fill="#0000ff"/>
<rect x="334.2" y="236.1" width="4.6" height="4.6" fill="#0000ff"/>
<rect x="328.8" y="241.0" width="4.6" height="4.6" fill="#0000ff"/>
<rect x="323.4" y="245.8" width="4.6" height="4.6" fill="#0000ff"/>
<rect x="318.0" y="250.4" width="4.6" height="4.6" fill="#0000ff"/>
<rect x="312.6" y="254.7" width="4.6" height="4.6" fill="#0000ff"/>
<rect x="307.2" y="259.0" width="4.6" height="4.6" fill="#0000ff"/>
<rect x="301.8" y="263.2" width="4.6" height="4.6" fill="#0000ff"/>
<rect x="296.4" y="267.4" width="4.6" height="4.6" fill="#0000ff"/>
<rect x="291.0" y="271.4" width="4.6" height="4.6" fill="#0000ff"/>
<rect x="285.6" y="275.0" width="4.6" height="4.6" fill="#0000ff"/>
<rect x="280.2" y="278.5" width="4.6" height="4.6" fill="#0000ff"/>
<rect x="274.8" y="281.7" width="4.6" height="4.6" fill="#0000ff"/>
<rect x="269.4" y="284.7" width="4.6" height="4.6" fill="#0000ff"/>
<rect x="264.0" y="287.5" width="4.6" height="4.6" fill="#0000ff"/>
<rect x="258.6" y="290.0" width="4.6" height="4.6" fill="#0000ff"/>
<rect x="253.2" y="292.3" width="4.6" height="4.6" fill="#0000ff"/>
<rect x="247.8" y="294.4" width="4.6" height="4.6" fill="#0000ff"/>
<rect x="242.4" y="296.4" width="4.6" height="4.6" fill="#0000ff"/>
<rect x="237.0" y="298.2" width="4.6" height="4.6" fill="#0000ff"/>
<rect x="231.6" y="299.8" width="4.6" height="4.6" fill="#0000ff"/>
<rect x="226.2" y="301.3" width="4.6" height="4.6" fill="#0000ff"/>
<rect x="220.7" y="302.6" width="4.6" height="4.6" fill="#0000ff"/>
<rect x="215.3" y="303.8" width="4.6" height="4.6" fill="#0000ff"/>
<rect x="209.9" y="304.8" width="4.6" height="4.6" fill="#0000ff"/>
<rect x="204.5" y="305.8" width="4.6" height="4.6" fill="#0000ff"/>
<rect x="199.1" y="306.6" width="4.6" height="4.6" fill="#0000ff"/>
<rect x="193.7" y="307.4" width="4.6" height="4.6" fill="#0000ff"/>
<rect x="188.3" y="308.1" width="4.6" height="4.6" fill="#0000ff"/>
<rect x="182.9" y="308.8" width="4.6" height="4.6" fill="#0000ff"/>
<rect x="177.5" y="309.4" width="4.6" height="4.6" fill="#0000ff"/>
<rect x="172.1" y="310.0" width="4.6" height="4.6" fill="#0000ff"/>
<rect x="166.7" y="310.4" width="4.6" height="4.6" fill="#0000ff"/>
<rect x="161.3" y="310.7" width="4.6" height="4.6" fill="#0000ff"/>
<rect x="155.9" y="311.0" width="4.6" height="4.6" fill="#0000ff"/>
<rect x="150.5" y="311.2" width="4.6" height="4.6" fill="#0000ff"/>
<circle cx="460.1" cy="75.3" r="2.0" stroke="#000000" stroke-width="0.85" fill="none"/>
<circle cx="455.4" cy="82.7" r="2.0" stroke="#000000" stroke-width="0.85" fill="none"/>
<circle cx="450.6" cy="89.9" r="2.0" stroke="#000000" stroke-width="0.85" fill="none"/>
<circle cx="445.9" cy="97.1" r="2.0" stroke="#000000" stroke-width="0.85" fill="none"/>
<circle cx="441.2" cy="104.2" r="2.0" stroke="#000000" stroke-width="0.85" fill="none"/>
<circle cx="436.5" cy="111.2" r="2.0" stroke="#000000" stroke-width="0.85" fill="none"/>
<circle cx="431.7" cy="118.1" r="2.0" stroke="#000000" stroke-width="0.85" fill="none"/>
<circle cx="427.0" cy="124.9" r="2.0" stroke="#000000" stroke-width="0.85" fill="none"/>
<circle cx="422.3" cy="131.6" r="2.0" stroke="#000000" stroke-width="0.85" fill="none"/>
<circle cx="417.6" cy="138.1" r="2.0" stroke="#000000" stroke-width="0.85" fill="none"/>
<circle cx="412.8" cy="144.5" r="2.0" stroke="#000000" stroke-width="0.85" fill="none"/>
<circle cx="408.1" cy="150.9" r="2.0" stroke="#000000" stroke-width="0.85" fill="none"/>
<circle cx="403.4" cy="157.3" r="2.0" stroke="#000000" stroke-width="0.85" fill="none"/>
<circle cx="398.7" cy="163.7" r="2.0" stroke="#000000" stroke-width="0.85" fill="none"/>
<circle cx="393.9" cy="170.0" r="2.0" stroke="#000000" stroke-width="0.85" fill="none"/>
<circle cx="389.2" cy="176.0" r="2.0" stroke="#000000" stroke-width="0.85" fill="none"/>
<circle cx="384.5" cy="181.8" r="2.0" stroke="#000000" stroke-width="0.85" fill="none"/>
<circle cx="379.8" cy="187.8" r="2.0" stroke="#000000" stroke-width="0.85" fill="none"/>
<circle cx="375.0" cy="193.8" r="2.0" stroke="#000000" stroke-width="0.85" fill="none"/>
<circle cx="370.3" cy="199.8" r="2.0" stroke="#000000" stroke-width="0.85" fill="none"/>
<circle cx="365.6" cy="205.5" r="2.0" stroke="#000000" stroke-width="0.85" fill="none"/>
<circle cx="360.9" cy="211.2" r="2.0" stroke="#000000" stroke-width="0.85" fill="none"/>
<circle cx="356.1" cy="216.5" r="2.0" stroke="#000000" stroke-width="0.85" fill="none"/>
<circle cx="351.4" cy="221.6" r="2.0" stroke="#000000" stroke-width="0.85" fill="none"/>
<circle cx="346.7" cy="226.4" r="2.0" stroke="#000000" stroke-width="0.85" fill="none"/>
<circle cx="342.0" cy="230.9" r="2.0" stroke="#000000" stroke-width="0.85" fill="none"/>
<circle cx="337.2" cy="235.3" r="2.0" stroke="#000000" stroke-width="0.85" fill="none"/>
<circle cx="332.5" cy="239.6" r="2.0" stroke="#000000" stroke-width="0.85" fill="none"/>
<circle cx="327.8" cy="243.9" r="2.0" stroke="#000000" stroke-width="0.85" fill="none"/>
<circle cx="323.0" cy="248.2" r="2.0" stroke="#000000" stroke-width="0.85" fill="none"/>
<circle cx="318.3" cy="252.5" r="2.0" stroke="#000000" stroke-width="0.85" fill="none"/>
<circle cx="313.6" cy="256.4" r="2.0" stroke="#000000" stroke-width="0.85" fill="none"/>
<circle cx="308.9" cy="260.2" r="2.0" stroke="#000000" stroke-width="0.85" fill="none"/>
<circle cx="304.1" cy="263.9" r="2.0" stroke="#000000" stroke-width="0.85" fill="none"/>
<circle cx="299.4" cy="267.5" r="2.0" stroke="#000000" stroke-width="0.85" fill="none"/>
<circle cx="294.7" cy="271.0" r="2.0" stroke="#000000" stroke-width="0.85" fill="none"/>
<circle cx="290.0" cy="274.5" r="2.0" stroke="#000000" stroke-width="0.85" fill="none"/>
<circle cx="285.2" cy="277.8" r="2.0" stroke="#000000" stroke-width="0.85" fill="none"/>
<circle cx="280.5" cy="280.9" r="2.0" stroke="#000000" stroke-width="0.85" fill="none"/>
<circle cx="275.8" cy="283.7" r="2.0" stroke="#000000" stroke-width="0.85" fill="none"/>
<circle cx="271.1" cy="286.3" r="2.0" stroke="#000000" stroke-width="0.85" fill="none"/>
<circle cx="266.3" cy="288.7" r="2.0" stroke="#000000" stroke-width="0.85" fill="none"/>
<circle cx="261.6" cy="290.9" r="2.0" stroke="#000000" stroke-width="0.85" fill="none"/>
<circle cx="256.9" cy="293.0" r="2.0" stroke="#000000" stroke-width="0.85" fill="none"/>
<circle cx="252.2" cy="294.9" r="2.0" stroke="#000000" stroke-width="0.85" fill="none"/>
<circle cx="247.4" cy="296.8" r="2.0" stroke="#000000" stroke-width="0.85" fill="none"/>
<circle cx="242.7" cy="298.5" r="2.0" stroke="#000000" stroke-width="0.85" fill="none"/>
<circle cx="238.0" cy="300.1" r="2.0" stroke="#000000" stroke-width="0.85" fill="none"/>
<circle cx="233.3" cy="301.5" r="2.0" stroke="#000000" stroke-width="0.85" fill="none"/>
<circle cx="228.5" cy="302.8" r="2.0" stroke="#000000" stroke-width="0.85" fill="none"/>
<circle cx="223.8" cy="304.0" r="2.0" stroke="#000000" stroke-width="0.85" fill="none"/>
<circle cx="219.1" cy="305.0" r="2.0" stroke="#000000" stroke-width="0.85" fill="none"/>
<circle cx="214.4" cy="306.0" r="2.0" stroke="#000000" stroke-width="0.85" fill="none"/>
<circle cx="209.6" cy="306.8" r="2.0" stroke="#000000" stroke-width="0.85" fill="none"/>
<circle cx="204.9" cy="307.6" r="2.0" stroke="#000000" stroke-width="0.85" fill="none"/>
<circle cx="200.2" cy="308.3" r="2.0" stroke="#000000" stroke-width="0.85" fill="none"/>
<circle cx="195.5" cy="308.9" r="2.0" stroke="#000000" stroke-width="0.85" fill="none"/>
<circle cx="190.7" cy="309.5" r="2.0" stroke="#000000" stroke-width="0.85" fill="none"/>
<circle cx="186.0" cy="310.0" r="2.0" stroke="#000000" stroke-width="0.85" fill="none"/>
<circle cx="181.3" cy="310.5" r="2.0" stroke="#000000" stroke-width="0.85" fill="none"/>
<circle cx="176.6" cy="310.9" r="2.0" stroke="#000000" stroke-width="0.85" fill="none"/>
<circle cx="458.1" cy="67.2" r="2.4" fill="#ff4500"/>
<circle cx="453.1" cy="75.9" r="2.4" fill="#ff4500"/>
<circle cx="448.1" cy="84.4" r="2.4" fill="#ff4500"/>
<circle cx="443.1" cy="92.7" r="2.4" fill="#ff4500"/>
<circle cx="438.1" cy="100.7" r="2.4" fill="#ff4500"/>
<circle cx="433.1" cy="108.4" r="2.4" fill="#ff4500"/>
<circle cx="428.1" cy="116.0" r="2.4" fill="#ff4500"/>
<circle cx="423.1" cy="123.4" r="2.4" fill="#ff4500"/>
<circle cx="418.1" cy="130.6" r="2.4" fill="#ff4500"/>
<circle cx="413.1" cy="137.7" r="2.4" fill="#ff4500"/>
<circle cx="408.1" cy="145.0" r="2.4" fill="#ff4500"/>
<circle cx="403.1" cy="152.1" r="2.4" fill="#ff4500"/>
<circle cx="398.1" cy="159.1" r="2.4" fill="#ff4500"/>
<circle cx="393.1" cy="165.9" r="2.4" fill="#ff4500"/>
<circle cx="388.1" cy="172.5" r="2.4" fill="#ff4500"/>
<circle cx="383.1" cy="179.0" r="2.4" fill="#ff4500"/>
<circle cx="378.1" cy="185.7" r="2.4" fill="#ff4500"/>
<circle cx="373.2" cy="192.2" r="2.4" fill="#ff4500"/>
<circle cx="368.2" cy="198.5" r="2.4" fill="#ff4500"/>
<circle cx="363.2" cy="204.5" r="2.4" fill="#ff4500"/>
<circle cx="358.2" cy="210.3" r="2.4" fill="#ff4500"/>
<circle cx="353.2" cy="215.8" r="2.4" fill="#ff4500"/>
<circle cx="348.2" cy="221.1" r="2.4" fill="#ff4500"/>
<circle cx="343.2" cy="226.2" r="2.4" fill="#ff4500"/>
<circle cx="338.2" cy="231.3" r="2.4" fill="#ff4500"/>
<circle cx="333.2" cy="236.4" r="2.4" fill="#ff4500"/>
<circle cx="328.2" cy="241.5" r="2.4" fill="#ff4500"/>
<circle cx="323.2" cy="246.3" r="2.4" fill="#ff4500"/>
<circle cx="318.2" cy="250.8" r="2.4" fill="#ff4500"/>
<circle cx="313.2" cy="255.2" r="2.4" fill="#ff4500"/>
<circle cx="308.2" cy="259.4" r="2.4" fill="#ff4500"/>
<circle cx="303.2" cy="263.6" r="2.4" fill="#ff4500"/>
<circle cx="298.2" cy="267.6" r="2.4" fill="#ff4500"/>
<circle cx="293.2" cy="271.4" r="2.4" fill="#ff4500"/>
<circle cx="288.3" cy="274.9" r="2.4" fill="#ff4500"/>
<circle cx="283.3" cy="278.2" r="2.4" fill="#ff4500"/>
<circle cx="278.3" cy="281.4" r="2.4" fill="#ff4500"/>
<circle cx="273.3" cy="284.4" r="2.4" fill="#ff4500"/>
<circle cx="268.3" cy="287.2" r="2.4" fill="#ff4500"/>
<circle cx="263.3" cy="289.7" r="2.4" fill="#ff4500"/>
<circle cx="258.3" cy="292.0" r="2.4" fill="#ff4500"/>
<circle cx="253.3" cy="294.2" r="2.4" fill="#ff4500"/>
<circle cx="248.3" cy="296.1" r="2.4" fill="#ff4500"/>
<circle cx="243.3" cy="298.1" r="2.4" fill="#ff4500"/>
<circle cx="238.3" cy="300.0" r="2.4" fill="#ff4500"/>
<circle cx="233.3" cy="301.8" r="2.4" fill="#ff4500"/>
<circle cx="228.3" cy="303.3" r="2.4" fill="#ff4500"/>
<circle cx="223.3" cy="304.6" r="2.4" fill="#ff4500"/>
<circle cx="218.3" cy="305.7" r="2.4" fill="#ff4500"/>
<circle cx="213.3" cy="306.6" r="2.4" fill="#ff4500"/>
<circle cx="208.3" cy="307.5" r="2.4" fill="#ff4500"/>
<circle cx="203.4" cy="308.3" r="2.4" fill="#ff4500"/>
<circle cx="198.4" cy="309.0" r="2.4" fill="#ff4500"/>
<circle cx="193.4" cy="309.5" r="2.4" fill="#ff4500"/>
<circle cx="188.4" cy="310.0" r="2.4" fill="#ff4500"/>
<circle cx="183.4" cy="310.5" r="2.4" fill="#ff4500"/>
<circle cx="178.4" cy="310.9" r="2.4" fill="#ff4500"/>
<circle cx="173.4" cy="311.3" r="2.4" fill="#ff4500"/>
<circle cx="168.4" cy="311.6" r="2.4" fill="#ff4500"/>
<circle cx="163.4" cy="311.9" r="2.4" fill="#ff4500"/>
<circle cx="158.4" cy="312.2" r="2.4" fill="#ff4500"/>
<path d="M438.7,23.8L440.7,27.3H436.7Z" stroke="#a0a0a0" stroke-width="0.85" fill="none"/>
<path d="M431.4,41.9L433.4,45.4H429.4Z" stroke="#a0a0a0" stroke-width="0.85" fill="none"/>
<path d="M424.0,58.5L426.0,62.0H422.0Z" stroke="#a0a0a0" stroke-width="0.85" fill="none"/>
<path d="M416.6,74.7L418.6,78.2H414.6Z" stroke="#a0a0a0" stroke-width="0.85" fill="none"/>
<path d="M409.2,90.5L411.2,94.0H407.2Z" stroke="#a0a0a0" stroke-width="0.85" fill="none"/>
<path d="M401.9,106.2L403.9,109.7H399.9Z" stroke="#a0a0a0" stroke-width="0.85" fill="none"/>
<path d="M394.5,121.1L396.5,124.6H392.5Z" stroke="#a0a0a0" stroke-width="0.85" fill="none"/>
<path d="M387.1,134.6L389.1,138.1H385.1Z" stroke="#a0a0a0" stroke-width="0.85" fill="none"/>
<path d="M379.8,147.3L381.8,150.8H377.8Z" stroke="#a0a0a0" stroke-width="0.85" fill="none"/>
<path d="M372.4,159.5L374.4,163.0H370.4Z" stroke="#a0a0a0" stroke-width="0.85" fill="none"/>
<path d="M365.0,171.5L367.0,175.0H363.0Z" stroke="#a0a0a0" stroke-width="0.85" fill="none"/>
<path d="M357.7,183.9L359.7,187.4H355.7Z" stroke="#a0a0a0" stroke-width="0.85" fill="none"/>
<path d="M350.3,195.6L352.3,199.1H348.3Z" stroke="#a0a0a0" stroke-width="0.85" fill="none"/>
<path d="M342.9,205.8L344.9,209.3H340.9Z" stroke="#a0a0a0" stroke-width="0.85" fill="none"/>
<path d="M335.6,215.6L337.6,219.1H333.6Z" stroke="#a0a0a0" stroke-width="0.85" fill="none"/>
<path d="M328.2,225.7L330.2,229.2H326.2Z" stroke="#a0a0a0" stroke-width="0.85" fill="none"/>
<path d="M320.8,234.9L322.8,238.4H318.8Z" stroke="#a0a0a0" stroke-width="0.85" fill="none"/>
<path d="M313.5,242.5L315.5,246.0H311.5Z" stroke="#a0a0a0" stroke-width="0.85" fill="none"/>
<path d="M306.1,249.2L308.1,252.7H304.1Z" stroke="#a0a0a0" stroke-width="0.85" fill="none"/>
<path d="M298.7,255.7L300.7,259.2H296.7Z" stroke="#a0a0a0" stroke-width="0.85" fill="none"/>
<path d="M291.4,261.7L293.4,265.2H289.4Z" stroke="#a0a0a0" stroke-width="0.85" fill="none"/>
<path d="M284.0,267.3L286.0,270.8H282.0Z" stroke="#a0a0a0" stroke-width="0.85" fill="none"/>
<path d="M276.6,273.0L278.6,276.5H274.6Z" stroke="#a0a0a0" stroke-width="0.85" fill="none"/>
<path d="M269.3,278.5L271.3,282.0H267.3Z" stroke="#a0a0a0" stroke-width="0.85" fill="none"/>
<path d="M261.9,283.3L263.9,286.8H259.9Z" stroke="#a0a0a0" stroke-width="0.85" fill="none"/>
<path d="M254.5,287.7L256.5,291.2H252.5Z" stroke="#a0a0a0" stroke-width="0.85" fill="none"/>
<path d="M247.2,291.3L249.2,294.8H245.2Z" stroke="#a0a0a0" stroke-width="0.85" fill="none"/>
<path d="M239.8,294.3L241.8,297.8H237.8Z" stroke="#a0a0a0" stroke-width="0.85" fill="none"/>
<path d="M232.4,296.8L234.4,300.3H230.4Z" stroke="#a0a0a0" stroke-width="0.85" fill="none"/>
<path d="M225.1,299.0L227.1,302.5H223.1Z" stroke="#a0a0a0" stroke-width="0.85" fill="none"/>
<path d="M217.7,300.8L219.7,304.3H215.7Z" stroke="#a0a0a0" stroke-width="0.85" fill="none"/>
<path d="M210.3,302.4L212.3,305.9H208.3Z" stroke="#a0a0a0" stroke-width="0.85" fill="none"/>
<path d="M203.0,303.8L205.0,307.3H201.0Z" stroke="#a0a0a0" stroke-width="0.85" fill="none"/>
<path d="M195.6,305.0L197.6,308.5H193.6Z" stroke="#a0a0a0" stroke-width="0.85" fill="none"/>
<path d="M188.2,306.2L190.2,309.7H186.2Z" stroke="#a0a0a0" stroke-width="0.85" fill="none"/>
<path d="M180.9,307.3L182.9,310.8H178.9Z" stroke="#a0a0a0" stroke-width="0.85" fill="none"/>
<path d="M173.5,308.1L175.5,311.6H171.5Z" stroke="#a0a0a0" stroke-width="0.85" fill="none"/>
<path d="M166.1,308.9L168.1,312.4H164.1Z" stroke="#a0a0a0" stroke-width="0.85" fill="none"/>
<path d="M158.7,309.5L160.7,313.0H156.7Z" stroke="#a0a0a0" stroke-width="0.85" fill="none"/>
<path d="M151.4,310.0L153.4,313.5H149.4Z" stroke="#a0a0a0" stroke-width="0.85" fill="none"/>
<path d="M144.0,310.4L146.0,313.9H142.0Z" stroke="#a0a0a0" stroke-width="0.85" fill="none"/>
<path d="M136.6,310.8L138.6,314.3H134.6Z" stroke="#a0a0a0" stroke-width="0.85" fill="none"/>
<path d="M129.3,311.0L131.3,314.5H127.3Z" stroke="#a0a0a0" stroke-width="0.85" fill="none"/>
<path d="M121.9,311.3L123.9,314.8H119.9Z" stroke="#a0a0a0" stroke-width="0.85" fill="none"/>
<path d="M114.5,311.5L116.5,315.0H112.5Z" stroke="#a0a0a0" stroke-width="0.85" fill="none"/>
<path d="M107.2,311.7L109.2,315.2H105.2Z" stroke="#a0a0a0" stroke-width="0.85" fill="none"/>
<path d="M99.8,311.8L101.8,315.3H97.8Z" stroke="#a0a0a0" stroke-width="0.85" fill="none"/>
<path d="M92.4,311.9L94.4,315.4H90.4Z" stroke="#a0a0a0" stroke-width="0.85" fill="none"/>
<path d="M480.3,24.8L482.6,28.8H478.0Z" fill="#ff0000"/>
<path d="M472.1,40.7L474.4,44.7H469.8Z" fill="#ff0000"/>
<path d="M463.9,55.8L466.2,59.8H461.6Z" fill="#ff0000"/>
<path d="M455.7,70.1L458.0,74.1H453.4Z" fill="#ff0000"/>
<path d="M447.5,83.5L449.8,87.5H445.2Z" fill="#ff0000"/>
<path d="M439.4,96.7L441.7,100.7H437.1Z" fill="#ff0000"/>
<path d="M431.2,110.1L433.5,114.1H428.9Z" fill="#ff0000"/>
<path d="M423.0,123.4L425.3,127.4H420.7Z" fill="#ff0000"/>
<path d="M414.8,136.5L417.1,140.5H412.5Z" fill="#ff0000"/>
<path d="M406.6,149.1L408.9,153.1H404.3Z" fill="#ff0000"/>
<path d="M398.4,160.8L400.7,164.8H396.1Z" fill="#ff0000"/>
<path d="M390.3,171.4L392.6,175.4H388.0Z" fill="#ff0000"/>
<path d="M382.1,181.5L384.4,185.5H379.8Z" fill="#ff0000"/>
<path d="M373.9,191.2L376.2,195.2H371.6Z" fill="#ff0000"/>
<path d="M365.7,200.4L368.0,204.4H363.4Z" fill="#ff0000"/>
<path d="M357.5,209.6L359.8,213.6H355.2Z" fill="#ff0000"/>
<path d="M349.3,219.1L351.6,223.1H347.0Z" fill="#ff0000"/>
<path d="M341.2,228.0L343.5,232.0H338.9Z" fill="#ff0000"/>
<path d="M333.0,236.6L335.3,240.6H330.7Z" fill="#ff0000"/>
<path d="M324.8,244.8L327.1,248.8H322.5Z" fill="#ff0000"/>
<path d="M316.6,252.6L318.9,256.6H314.3Z" fill="#ff0000"/>
<path d="M308.4,259.6L310.7,263.6H306.1Z" fill="#ff0000"/>
<path d="M300.2,266.0L302.5,270.0H297.9Z" fill="#ff0000"/>
<path d="M292.1,272.1L294.4,276.1H289.8Z" fill="#ff0000"/>
<path d="M283.9,277.7L286.2,281.7H281.6Z" fill="#ff0000"/>
<path d="M275.7,282.8L278.0,286.8H273.4Z" fill="#ff0000"/>
<path d="M267.5,287.2L269.8,291.2H265.2Z" fill="#ff0000"/>
<path d="M259.3,291.1L261.6,295.1H257.0Z" fill="#ff0000"/>
<path d="M251.1,294.6L253.4,298.6H248.8Z" fill="#ff0000"/>
<path d="M243.0,297.8L245.3,301.8H240.7Z" fill="#ff0000"/>
<path d="M234.8,300.6L237.1,304.6H232.5Z" fill="#ff0000"/>
<path d="M226.6,303.0L228.9,307.0H224.3Z" fill="#ff0000"/>
<path d="M218.4,305.1L220.7,309.1H216.1Z" fill="#ff0000"/>
<path d="M210.2,306.9L212.5,310.9H207.9Z" fill="#ff0000"/>
<path d="M202.0,308.2L204.3,312.2H199.7Z" fill="#ff0000"/>
<path d="M193.8,309.3L196.1,313.3H191.5Z" fill="#ff0000"/>
<path d="M185.7,310.2L188.0,314.2H183.4Z" fill="#ff0000"/>
<path d="M177.5,310.9L179.8,314.9H175.2Z" fill="#ff0000"/>
<path d="M169.3,311.3L171.6,315.3H167.0Z" fill="#ff0000"/>
<path d="M161.1,311.6L163.4,315.6H158.8Z" fill="#ff0000"/>
<path d="M152.9,311.9L155.2,315.9H150.6Z" fill="#ff0000"/>
<path d="M144.7,312.0L147.0,316.0H142.4Z" fill="#ff0000"/>
<path d="M136.6,312.1L138.9,316.1H134.3Z" fill="#ff0000"/>
<path d="M128.4,312.2L130.7,316.2H126.1Z" fill="#ff0000"/>
<path d="M120.2,312.3L122.5,316.3H117.9Z" fill="#ff0000"/>
<path d="M112.0,312.3L114.3,316.3H109.7Z" fill="#ff0000"/>
<path d="M103.8,312.3L106.1,316.3H101.5Z" fill="#ff0000"/>
<path d="M95.6,312.3L97.9,316.3H93.3Z" fill="#ff0000"/>
<path d="M87.5,312.3L89.8,316.3H85.2Z" fill="#ff0000"/>
<path d="M79.3,312.3L81.6,316.3H77.0Z" fill="#ff0000"/>
<path d="M71.1,312.3L73.4,316.3H68.8Z" fill="#ff0000"/>
<path d="M62.9,312.3L65.2,316.3H60.6Z" fill="#ff0000"/>
<path d="M379.0,113.3L380.8,110.1H377.2Z" stroke="#00ff00" stroke-width="0.7" fill="none"/>
<path d="M376.3,119.1L378.1,115.9H374.5Z" stroke="#00ff00" stroke-width="0.7" fill="none"/>
<path d="M373.6,124.9L375.4,121.7H371.8Z" stroke="#00ff00" stroke-width="0.7" fill="none"/>
<path d="M370.9,130.7L372.7,127.5H369.1Z" stroke="#00ff00" stroke-width="0.7" fill="none"/>
<path d="M368.3,136.6L370.1,133.4H366.5Z" stroke="#00ff00" stroke-width="0.7" fill="none"/>
<path d="M365.6,142.7L367.4,139.5H363.8Z" stroke="#00ff00" stroke-width="0.7" fill="none"/>
<path d="M362.9,148.9L364.7,145.7H361.1Z" stroke="#00ff00" stroke-width="0.7" fill="none"/>
<path d="M360.2,155.1L362.0,151.9H358.4Z" stroke="#00ff00" stroke-width="0.7" fill="none"/>
<path d="M357.5,161.2L359.3,158.0H355.7Z" stroke="#00ff00" stroke-width="0.7" fill="none"/>
<path d="M354.8,167.2L356.6,164.0H353.0Z" stroke="#00ff00" stroke-width="0.7" fill="none"/>
<path d="M352.2,172.9L354.0,169.7H350.4Z" stroke="#00ff00" stroke-width="0.7" fill="none"/>
<path d="M349.5,178.3L351.3,175.1H347.7Z" stroke="#00ff00" stroke-width="0.7" fill="none"/>
<path d="M346.8,183.6L348.6,180.4H345.0Z" stroke="#00ff00" stroke-width="0.7" fill="none"/>
<path d="M344.1,188.9L345.9,185.7H342.3Z" stroke="#00ff00" stroke-width="0.7" fill="none"/>
<path d="M341.4,194.1L343.2,190.9H339.6Z" stroke="#00ff00" stroke-width="0.7" fill="none"/>
<path d="M338.7,199.1L340.5,195.9H336.9Z" stroke="#00ff00" stroke-width="0.7" fill="none"/>
<path d="M336.0,204.0L337.8,200.8H334.2Z" stroke="#00ff00" stroke-width="0.7" fill="none"/>
<path d="M333.4,208.8L335.2,205.6H331.6Z" stroke="#00ff00" stroke-width="0.7" fill="none"/>
<path d="M330.7,213.4L332.5,210.2H328.9Z" stroke="#00ff00" stroke-width="0.7" fill="none"/>
<path d="M328.0,217.8L329.8,214.6H326.2Z" stroke="#00ff00" stroke-width="0.7" fill="none"/>
<path d="M325.3,222.0L327.1,218.8H323.5Z" stroke="#00ff00" stroke-width="0.7" fill="none"/>
<path d="M322.6,226.1L324.4,222.9H320.8Z" stroke="#00ff00" stroke-width="0.7" fill="none"/>
<path d="M319.9,230.0L321.7,226.8H318.1Z" stroke="#00ff00" stroke-width="0.7" fill="none"/>
<path d="M317.2,233.7L319.0,230.5H315.4Z" stroke="#00ff00" stroke-width="0.7" fill="none"/>
<path d="M314.6,237.2L316.4,234.0H312.8Z" stroke="#00ff00" stroke-width="0.7" fill="none"/>
<path d="M311.9,240.6L313.7,237.4H310.1Z" stroke="#00ff00" stroke-width="0.7" fill="none"/>
<path d="M309.2,243.9L311.0,240.7H307.4Z" stroke="#00ff00" stroke-width="0.7" fill="none"/>
<path d="M306.5,247.1L308.3,243.9H304.7Z" stroke="#00ff00" stroke-width="0.7" fill="none"/>
<path d="M303.8,250.2L305.6,247.0H302.0Z" stroke="#00ff00" stroke-width="0.7" fill="none"/>
<path d="M301.1,253.1L302.9,249.9H299.3Z" stroke="#00ff00" stroke-width="0.7" fill="none"/>
<path d="M298.5,255.9L300.3,252.7H296.7Z" stroke="#00ff00" stroke-width="0.7" fill="none"/>
<path d="M295.8,258.7L297.6,255.5H294.0Z" stroke="#00ff00" stroke-width="0.7" fill="none"/>
<path d="M293.1,261.3L294.9,258.1H291.3Z" stroke="#00ff00" stroke-width="0.7" fill="none"/>
<path d="M290.4,263.8L292.2,260.6H288.6Z" stroke="#00ff00" stroke-width="0.7" fill="none"/>
<path d="M287.7,266.3L289.5,263.1H285.9Z" stroke="#00ff00" stroke-width="0.7" fill="none"/>
<path d="M285.0,268.6L286.8,265.4H283.2Z" stroke="#00ff00" stroke-width="0.7" fill="none"/>
<path d="M282.3,270.8L284.1,267.6H280.5Z" stroke="#00ff00" stroke-width="0.7" fill="none"/>
<path d="M279.7,272.9L281.5,269.7H277.9Z" stroke="#00ff00" stroke-width="0.7" fill="none"/>
<path d="M277.0,275.0L278.8,271.8H275.2Z" stroke="#00ff00" stroke-width="0.7" fill="none"/>
<path d="M274.3,276.9L276.1,273.7H272.5Z" stroke="#00ff00" stroke-width="0.7" fill="none"/>
<path d="M271.6,278.8L273.4,275.6H269.8Z" stroke="#00ff00" stroke-width="0.7" fill="none"/>
<path d="M268.9,280.5L270.7,277.3H267.1Z" stroke="#00ff00" stroke-width="0.7" fill="none"/>
<path d="M266.2,282.2L268.0,279.0H264.4Z" stroke="#00ff00" stroke-width="0.7" fill="none"/>
<path d="M263.5,283.9L265.3,280.7H261.7Z" stroke="#00ff00" stroke-width="0.7" fill="none"/>
<path d="M260.9,285.4L262.7,282.2H259.1Z" stroke="#00ff00" stroke-width="0.7" fill="none"/>
<path d="M258.2,286.9L260.0,283.7H256.4Z" stroke="#00ff00" stroke-width="0.7" fill="none"/>
<path d="M255.5,288.3L257.3,285.1H253.7Z" stroke="#00ff00" stroke-width="0.7" fill="none"/>
<path d="M252.8,289.7L254.6,286.5H251.0Z" stroke="#00ff00" stroke-width="0.7" fill="none"/>
<path d="M250.1,291.0L251.9,287.8H248.3Z" stroke="#00ff00" stroke-width="0.7" fill="none"/>
<path d="M247.4,292.2L249.2,289.0H245.6Z" stroke="#00ff00" stroke-width="0.7" fill="none"/>
<path d="M244.8,293.4L246.6,290.2H243.0Z" stroke="#00ff00" stroke-width="0.7" fill="none"/>
<path d="M242.1,294.5L243.9,291.3H240.3Z" stroke="#00ff00" stroke-width="0.7" fill="none"/>
<path d="M239.4,295.6L241.2,292.4H237.6Z" stroke="#00ff00" stroke-width="0.7" fill="none"/>
<path d="M236.7,296.6L238.5,293.4H234.9Z" stroke="#00ff00" stroke-width="0.7" fill="none"/>
<path d="M234.0,297.6L235.8,294.4H232.2Z" stroke="#00ff00" stroke-width="0.7" fill="none"/>
<path d="M231.3,298.5L233.1,295.3H229.5Z" stroke="#00ff00" stroke-width="0.7" fill="none"/>
<path d="M228.6,299.4L230.4,296.2H226.8Z" stroke="#00ff00" stroke-width="0.7" fill="none"/>
<path d="M226.0,300.2L227.8,297.0H224.2Z" stroke="#00ff00" stroke-width="0.7" fill="none"/>
<path d="M223.3,301.0L225.1,297.8H221.5Z" stroke="#00ff00" stroke-width="0.7" fill="none"/>
<path d="M220.6,301.8L222.4,298.6H218.8Z" stroke="#00ff00" stroke-width="0.7" fill="none"/>
<path d="M217.9,302.6L219.7,299.4H216.1Z" stroke="#00ff00" stroke-width="0.7" fill="none"/>
<path d="M384.4,85.9L386.7,81.9H382.1Z" fill="#0000ff"/>
<path d="M381.4,95.4L383.7,91.4H379.1Z" fill="#0000ff"/>
<path d="M378.4,104.3L380.7,100.3H376.1Z" fill="#0000ff"/>
<path d="M375.4,112.6L377.7,108.6H373.1Z" fill="#0000ff"/>
<path d="M372.5,120.5L374.8,116.5H370.2Z" fill="#0000ff"/>
<path d="M369.5,127.8L371.8,123.8H367.2Z" fill="#0000ff"/>
<path d="M366.5,134.6L368.8,130.6H364.2Z" fill="#0000ff"/>
<path d="M363.5,141.4L365.8,137.4H361.2Z" fill="#0000ff"/>
<path d="M360.6,148.0L362.9,144.0H358.3Z" fill="#0000ff"/>
<path d="M357.6,154.4L359.9,150.4H355.3Z" fill="#0000ff"/>
<path d="M354.6,160.8L356.9,156.8H352.3Z" fill="#0000ff"/>
<path d="M351.6,167.3L353.9,163.3H349.3Z" fill="#0000ff"/>
<path d="M348.7,173.7L351.0,169.7H346.4Z" fill="#0000ff"/>
<path d="M345.7,179.9L348.0,175.9H343.4Z" fill="#0000ff"/>
<path d="M342.7,185.7L345.0,181.7H340.4Z" fill="#0000ff"/>
<path d="M339.7,190.9L342.0,186.9H337.4Z" fill="#0000ff"/>
<path d="M336.8,195.7L339.1,191.7H334.5Z" fill="#0000ff"/>
<path d="M333.8,200.3L336.1,196.3H331.5Z" fill="#0000ff"/>
<path d="M330.8,205.1L333.1,201.1H328.5Z" fill="#0000ff"/>
<path d="M327.8,210.1L330.1,206.1H325.5Z" fill="#0000ff"/>
<path d="M324.9,215.0L327.2,211.0H322.6Z" fill="#0000ff"/>
<path d="M321.9,219.7L324.2,215.7H319.6Z" fill="#0000ff"/>
<path d="M318.9,224.3L321.2,220.3H316.6Z" fill="#0000ff"/>
<path d="M316.0,228.7L318.3,224.7H313.7Z" fill="#0000ff"/>
<path d="M313.0,232.9L315.3,228.9H310.7Z" fill="#0000ff"/>
<path d="M310.0,236.9L312.3,232.9H307.7Z" fill="#0000ff"/>
<path d="M307.0,240.7L309.3,236.7H304.7Z" fill="#0000ff"/>
<path d="M304.1,244.4L306.4,240.4H301.8Z" fill="#0000ff"/>
<path d="M301.1,247.9L303.4,243.9H298.8Z" fill="#0000ff"/>
<path d="M298.1,251.3L300.4,247.3H295.8Z" fill="#0000ff"/>
<path d="M295.1,254.5L297.4,250.5H292.8Z" fill="#0000ff"/>
<path d="M292.2,257.6L294.5,253.6H289.9Z" fill="#0000ff"/>
<path d="M289.2,260.6L291.5,256.6H286.9Z" fill="#0000ff"/>
<path d="M286.2,263.5L288.5,259.5H283.9Z" fill="#0000ff"/>
<path d="M283.2,266.2L285.5,262.2H280.9Z" fill="#0000ff"/>
<path d="M280.3,268.8L282.6,264.8H278.0Z" fill="#0000ff"/>
<path d="M277.3,271.3L279.6,267.3H275.0Z" fill="#0000ff"/>
<path d="M274.3,273.6L276.6,269.6H272.0Z" fill="#0000ff"/>
<path d="M271.3,275.9L273.6,271.9H269.0Z" fill="#0000ff"/>
<path d="M268.4,278.1L270.7,274.1H266.1Z" fill="#0000ff"/>
<path d="M265.4,280.1L267.7,276.1H263.1Z" fill="#0000ff"/>
<path d="M262.4,282.0L264.7,278.0H260.1Z" fill="#0000ff"/>
<path d="M259.4,283.9L261.7,279.9H257.1Z" fill="#0000ff"/>
<path d="M256.5,285.7L258.8,281.7H254.2Z" fill="#0000ff"/>
<path d="M253.5,287.3L255.8,283.3H251.2Z" fill="#0000ff"/>
<path d="M250.5,288.9L252.8,284.9H248.2Z" fill="#0000ff"/>
<path d="M247.5,290.4L249.8,286.4H245.2Z" fill="#0000ff"/>
<path d="M244.6,291.9L246.9,287.9H242.3Z" fill="#0000ff"/>
<path d="M241.6,293.2L243.9,289.2H239.3Z" fill="#0000ff"/>
<path d="M238.6,294.5L240.9,290.5H236.3Z" fill="#0000ff"/>
<path d="M235.6,295.8L237.9,291.8H233.3Z" fill="#0000ff"/>
<path d="M232.7,296.9L235.0,292.9H230.4Z" fill="#0000ff"/>
<path d="M229.7,298.1L232.0,294.1H227.4Z" fill="#0000ff"/>
<path d="M226.7,299.1L229.0,295.1H224.4Z" fill="#0000ff"/>
<path d="M223.7,300.1L226.0,296.1H221.4Z" fill="#0000ff"/>
<path d="M220.8,301.1L223.1,297.1H218.5Z" fill="#0000ff"/>
<path d="M217.8,302.0L220.1,298.0H215.5Z" fill="#0000ff"/>
<path d="M214.8,302.8L217.1,298.8H212.5Z" fill="#0000ff"/>
<path d="M211.8,303.6L214.1,299.6H209.5Z" fill="#0000ff"/>
<path d="M208.9,304.4L211.2,300.4H206.6Z" fill="#0000ff"/>
<path d="M205.9,305.1L208.2,301.1H203.6Z" fill="#0000ff"/>
<path d="M352.0,143.5L354.1,145.6L352.0,147.7L349.9,145.6Z" stroke="#ff00ff" stroke-width="0.85" fill="none"/>
<path d="M349.4,150.7L351.5,152.8L349.4,154.9L347.3,152.8Z" stroke="#ff00ff" stroke-width="0.85" fill="none"/>
<path d="M346.8,157.5L348.9,159.6L346.8,161.7L344.7,159.6Z" stroke="#ff00ff" stroke-width="0.85" fill="none"/>
<path d="M344.2,164.0L346.3,166.1L344.2,168.2L342.1,166.1Z" stroke="#ff00ff" stroke-width="0.85" fill="none"/>
<path d="M341.5,170.1L343.6,172.2L341.5,174.3L339.4,172.2Z" stroke="#ff00ff" stroke-width="0.85" fill="none"/>
<path d="M338.9,176.0L341.0,178.1L338.9,180.2L336.8,178.1Z" stroke="#ff00ff" stroke-width="0.85" fill="none"/>
<path d="M336.3,181.8L338.4,183.9L336.3,186.0L334.2,183.9Z" stroke="#ff00ff" stroke-width="0.85" fill="none"/>
<path d="M333.6,187.7L335.7,189.8L333.6,191.9L331.5,189.8Z" stroke="#ff00ff" stroke-width="0.85" fill="none"/>
<path d="M331.0,193.3L333.1,195.4L331.0,197.5L328.9,195.4Z" stroke="#ff00ff" stroke-width="0.85" fill="none"/>
<path d="M328.4,198.7L330.5,200.8L328.4,202.9L326.3,200.8Z" stroke="#ff00ff" stroke-width="0.85" fill="none"/>
<path d="M325.7,203.8L327.8,205.9L325.7,208.0L323.6,205.9Z" stroke="#ff00ff" stroke-width="0.85" fill="none"/>
<path d="M323.1,208.5L325.2,210.6L323.1,212.7L321.0,210.6Z" stroke="#ff00ff" stroke-width="0.85" fill="none"/>
<path d="M320.5,212.9L322.6,215.0L320.5,217.1L318.4,215.0Z" stroke="#ff00ff" stroke-width="0.85" fill="none"/>
<path d="M317.8,217.4L319.9,219.5L317.8,221.6L315.7,219.5Z" stroke="#ff00ff" stroke-width="0.85" fill="none"/>
<path d="M315.2,221.7L317.3,223.8L315.2,225.9L313.1,223.8Z" stroke="#ff00ff" stroke-width="0.85" fill="none"/>
<path d="M312.6,225.8L314.7,227.9L312.6,230.0L310.5,227.9Z" stroke="#ff00ff" stroke-width="0.85" fill="none"/>
<path d="M309.9,229.8L312.0,231.9L309.9,234.0L307.8,231.9Z" stroke="#ff00ff" stroke-width="0.85" fill="none"/>
<path d="M307.3,233.6L309.4,235.7L307.3,237.8L305.2,235.7Z" stroke="#ff00ff" stroke-width="0.85" fill="none"/>
<path d="M304.7,237.3L306.8,239.4L304.7,241.5L302.6,239.4Z" stroke="#ff00ff" stroke-width="0.85" fill="none"/>
<path d="M302.1,240.7L304.2,242.8L302.1,244.9L300.0,242.8Z" stroke="#ff00ff" stroke-width="0.85" fill="none"/>
<path d="M299.4,244.0L301.5,246.1L299.4,248.2L297.3,246.1Z" stroke="#ff00ff" stroke-width="0.85" fill="none"/>
<path d="M296.8,247.2L298.9,249.3L296.8,251.4L294.7,249.3Z" stroke="#ff00ff" stroke-width="0.85" fill="none"/>
<path d="M294.2,250.2L296.3,252.3L294.2,254.4L292.1,252.3Z" stroke="#ff00ff" stroke-width="0.85" fill="none"/>
<path d="M291.5,253.1L293.6,255.2L291.5,257.3L289.4,255.2Z" stroke="#ff00ff" stroke-width="0.85" fill="none"/>
<path d="M288.9,255.9L291.0,258.0L288.9,260.1L286.8,258.0Z" stroke="#ff00ff" stroke-width="0.85" fill="none"/>
<path d="M286.3,258.5L288.4,260.6L286.3,262.7L284.2,260.6Z" stroke="#ff00ff" stroke-width="0.85" fill="none"/>
<path d="M283.6,261.0L285.7,263.1L283.6,265.2L281.5,263.1Z" stroke="#ff00ff" stroke-width="0.85" fill="none"/>
<path d="M281.0,263.5L283.1,265.6L281.0,267.7L278.9,265.6Z" stroke="#ff00ff" stroke-width="0.85" fill="none"/>
<path d="M278.4,265.8L280.5,267.9L278.4,270.0L276.3,267.9Z" stroke="#ff00ff" stroke-width="0.85" fill="none"/>
<path d="M275.7,268.0L277.8,270.1L275.7,272.2L273.6,270.1Z" stroke="#ff00ff" stroke-width="0.85" fill="none"/>
<path d="M273.1,270.1L275.2,272.2L273.1,274.3L271.0,272.2Z" stroke="#ff00ff" stroke-width="0.85" fill="none"/>
<path d="M270.5,272.1L272.6,274.2L270.5,276.3L268.4,274.2Z" stroke="#ff00ff" stroke-width="0.85" fill="none"/>
<path d="M267.8,274.0L269.9,276.1L267.8,278.2L265.7,276.1Z" stroke="#ff00ff" stroke-width="0.85" fill="none"/>
<path d="M265.2,275.8L267.3,277.9L265.2,280.0L263.1,277.9Z" stroke="#ff00ff" stroke-width="0.85" fill="none"/>
<path d="M262.6,277.6L264.7,279.7L262.6,281.8L260.5,279.7Z" stroke="#ff00ff" stroke-width="0.85" fill="none"/>
<path d="M260.0,279.3L262.1,281.4L260.0,283.5L257.9,281.4Z" stroke="#ff00ff" stroke-width="0.85" fill="none"/>
<path d="M257.3,280.9L259.4,283.0L257.3,285.1L255.2,283.0Z" stroke="#ff00ff" stroke-width="0.85" fill="none"/>
<path d="M254.7,282.4L256.8,284.5L254.7,286.6L252.6,284.5Z" stroke="#ff00ff" stroke-width="0.85" fill="none"/>
<path d="M252.1,283.8L254.2,285.9L252.1,288.0L250.0,285.9Z" stroke="#ff00ff" stroke-width="0.85" fill="none"/>
<path d="M249.4,285.2L251.5,287.3L249.4,289.4L247.3,287.3Z" stroke="#ff00ff" stroke-width="0.85" fill="none"/>
<path d="M246.8,286.6L248.9,288.7L246.8,290.8L244.7,288.7Z" stroke="#ff00ff" stroke-width="0.85" fill="none"/>
<path d="M244.2,287.8L246.3,289.9L244.2,292.0L242.1,289.9Z" stroke="#ff00ff" stroke-width="0.85" fill="none"/>
<path d="M241.5,289.0L243.6,291.1L241.5,293.2L239.4,291.1Z" stroke="#ff00ff" stroke-width="0.85" fill="none"/>
<path d="M238.9,290.2L241.0,292.3L238.9,294.4L236.8,292.3Z" stroke="#ff00ff" stroke-width="0.85" fill="none"/>
<path d="M236.3,291.3L238.4,293.4L236.3,295.5L234.2,293.4Z" stroke="#ff00ff" stroke-width="0.85" fill="none"/>
<path d="M233.6,292.3L235.7,294.4L233.6,296.5L231.5,294.4Z" stroke="#ff00ff" stroke-width="0.85" fill="none"/>
<path d="M231.0,293.4L233.1,295.5L231.0,297.6L228.9,295.5Z" stroke="#ff00ff" stroke-width="0.85" fill="none"/>
<path d="M228.4,294.3L230.5,296.4L228.4,298.5L226.3,296.4Z" stroke="#ff00ff" stroke-width="0.85" fill="none"/>
<path d="M225.7,295.2L227.8,297.3L225.7,299.4L223.6,297.3Z" stroke="#ff00ff" stroke-width="0.85" fill="none"/>
<path d="M223.1,296.1L225.2,298.2L223.1,300.3L221.0,298.2Z" stroke="#ff00ff" stroke-width="0.85" fill="none"/>
<path d="M220.5,296.9L222.6,299.0L220.5,301.1L218.4,299.0Z" stroke="#ff00ff" stroke-width="0.85" fill="none"/>
<path d="M217.9,297.7L220.0,299.8L217.9,301.9L215.8,299.8Z" stroke="#ff00ff" stroke-width="0.85" fill="none"/>
<path d="M215.2,298.5L217.3,300.6L215.2,302.7L213.1,300.6Z" stroke="#ff00ff" stroke-width="0.85" fill="none"/>
<path d="M212.6,299.2L214.7,301.3L212.6,303.4L210.5,301.3Z" stroke="#ff00ff" stroke-width="0.85" fill="none"/>
<path d="M210.0,299.9L212.1,302.0L210.0,304.1L207.9,302.0Z" stroke="#ff00ff" stroke-width="0.85" fill="none"/>
<path d="M207.3,300.5L209.4,302.6L207.3,304.7L205.2,302.6Z" stroke="#ff00ff" stroke-width="0.85" fill="none"/>
<path d="M204.7,301.1L206.8,303.2L204.7,305.3L202.6,303.2Z" stroke="#ff00ff" stroke-width="0.85" fill="none"/>
<path d="M202.1,301.7L204.2,303.8L202.1,305.9L200.0,303.8Z" stroke="#ff00ff" stroke-width="0.85" fill="none"/>
<path d="M199.4,302.3L201.5,304.4L199.4,306.5L197.3,304.4Z" stroke="#ff00ff" stroke-width="0.85" fill="none"/>
<path d="M196.8,302.8L198.9,304.9L196.8,307.0L194.7,304.9Z" stroke="#ff00ff" stroke-width="0.85" fill="none"/>
<path d="M194.2,303.3L196.3,305.4L194.2,307.5L192.1,305.4Z" stroke="#ff00ff" stroke-width="0.85" fill="none"/>
<path d="M402.8,11.6V64.5M400.6,11.6h4.4M400.6,64.5h4.4" stroke="#ff0000" stroke-opacity="0.6" stroke-width="0.85" fill="none"/>
<path d="M402.8,10.9L405.2,13.3L402.8,15.7L400.4,13.3Z" fill="#ff0000"/>
<path d="M398.8,11.6V76.8M396.6,11.6h4.4M396.6,76.8h4.4" stroke="#ff0000" stroke-opacity="0.6" stroke-width="0.85" fill="none"/>
<path d="M398.8,26.1L401.2,28.5L398.8,30.9L396.4,28.5Z" fill="#ff0000"/>
<path d="M394.7,11.6V88.6M392.5,11.6h4.4M392.5,88.6h4.4" stroke="#ff0000" stroke-opacity="0.6" stroke-width="0.85" fill="none"/>
<path d="M394.7,40.6L397.1,43.0L394.7,45.4L392.3,43.0Z" fill="#ff0000"/>
<path d="M390.7,13.9V100.0M388.5,13.9h4.4M388.5,100.0h4.4" stroke="#ff0000" stroke-opacity="0.6" stroke-width="0.85" fill="none"/>
<path d="M390.7,54.5L393.1,56.9L390.7,59.3L388.3,56.9Z" fill="#ff0000"/>
<path d="M386.7,29.8V110.9M384.5,29.8h4.4M384.5,110.9h4.4" stroke="#ff0000" stroke-opacity="0.6" stroke-width="0.85" fill="none"/>
<path d="M386.7,67.9L389.1,70.3L386.7,72.7L384.3,70.3Z" fill="#ff0000"/>
<path d="M382.7,45.3V121.0M380.5,45.3h4.4M380.5,121.0h4.4" stroke="#ff0000" stroke-opacity="0.6" stroke-width="0.85" fill="none"/>
<path d="M382.7,80.7L385.1,83.1L382.7,85.5L380.3,83.1Z" fill="#ff0000"/>
<path d="M378.6,60.1V130.6M376.4,60.1h4.4M376.4,130.6h4.4" stroke="#ff0000" stroke-opacity="0.6" stroke-width="0.85" fill="none"/>
<path d="M378.6,92.9L381.0,95.3L378.6,97.7L376.2,95.3Z" fill="#ff0000"/>
<path d="M374.6,73.7V140.1M372.4,73.7h4.4M372.4,140.1h4.4" stroke="#ff0000" stroke-opacity="0.6" stroke-width="0.85" fill="none"/>
<path d="M374.6,104.5L377.0,106.9L374.6,109.3L372.2,106.9Z" fill="#ff0000"/>
<path d="M370.6,86.7V149.0M368.4,86.7h4.4M368.4,149.0h4.4" stroke="#ff0000" stroke-opacity="0.6" stroke-width="0.85" fill="none"/>
<path d="M370.6,115.5L373.0,117.9L370.6,120.3L368.2,117.9Z" fill="#ff0000"/>
<path d="M366.6,99.1V157.6M364.4,99.1h4.4M364.4,157.6h4.4" stroke="#ff0000" stroke-opacity="0.6" stroke-width="0.85" fill="none"/>
<path d="M366.6,125.9L369.0,128.3L366.6,130.7L364.2,128.3Z" fill="#ff0000"/>
<path d="M362.5,110.8V165.7M360.3,110.8h4.4M360.3,165.7h4.4" stroke="#ff0000" stroke-opacity="0.6" stroke-width="0.85" fill="none"/>
<path d="M362.5,135.8L364.9,138.2L362.5,140.6L360.1,138.2Z" fill="#ff0000"/>
<path d="M358.5,121.8V173.4M356.3,121.8h4.4M356.3,173.4h4.4" stroke="#ff0000" stroke-opacity="0.6" stroke-width="0.85" fill="none"/>
<path d="M358.5,145.2L360.9,147.6L358.5,150.0L356.1,147.6Z" fill="#ff0000"/>
<path d="M354.5,132.3V180.7M352.3,132.3h4.4M352.3,180.7h4.4" stroke="#ff0000" stroke-opacity="0.6" stroke-width="0.85" fill="none"/>
<path d="M354.5,154.1L356.9,156.5L354.5,158.9L352.1,156.5Z" fill="#ff0000"/>
<path d="M350.4,142.5V187.8M348.2,142.5h4.4M348.2,187.8h4.4" stroke="#ff0000" stroke-opacity="0.6" stroke-width="0.85" fill="none"/>
<path d="M350.4,162.7L352.8,165.1L350.4,167.5L348.0,165.1Z" fill="#ff0000"/>
<path d="M346.4,152.3V194.7M344.2,152.3h4.4M344.2,194.7h4.4" stroke="#ff0000" stroke-opacity="0.6" stroke-width="0.85" fill="none"/>
<path d="M346.4,171.1L348.8,173.5L346.4,175.9L344.0,173.5Z" fill="#ff0000"/>
<path d="M342.4,161.8V201.3M340.2,161.8h4.4M340.2,201.3h4.4" stroke="#ff0000" stroke-opacity="0.6" stroke-width="0.85" fill="none"/>
<path d="M342.4,179.1L344.8,181.5L342.4,183.9L340.0,181.5Z" fill="#ff0000"/>
<path d="M338.4,171.1V207.8M336.2,171.1h4.4M336.2,207.8h4.4" stroke="#ff0000" stroke-opacity="0.6" stroke-width="0.85" fill="none"/>
<path d="M338.4,187.1L340.8,189.5L338.4,191.9L336.0,189.5Z" fill="#ff0000"/>
<path d="M334.3,180.2V214.4M332.1,180.2h4.4M332.1,214.4h4.4" stroke="#ff0000" stroke-opacity="0.6" stroke-width="0.85" fill="none"/>
<path d="M334.3,194.9L336.7,197.3L334.3,199.7L331.9,197.3Z" fill="#ff0000"/>
<path d="M330.3,188.8V220.7M328.1,188.8h4.4M328.1,220.7h4.4" stroke="#ff0000" stroke-opacity="0.6" stroke-width="0.85" fill="none"/>
<path d="M330.3,202.4L332.7,204.8L330.3,207.2L327.9,204.8Z" fill="#ff0000"/>
<path d="M326.3,196.9V226.5M324.1,196.9h4.4M324.1,226.5h4.4" stroke="#ff0000" stroke-opacity="0.6" stroke-width="0.85" fill="none"/>
<path d="M326.3,209.3L328.7,211.7L326.3,214.1L323.9,211.7Z" fill="#ff0000"/>
<path d="M322.3,204.4V232.0M320.1,204.4h4.4M320.1,232.0h4.4" stroke="#ff0000" stroke-opacity="0.6" stroke-width="0.85" fill="none"/>
<path d="M322.3,215.8L324.7,218.2L322.3,220.6L319.9,218.2Z" fill="#ff0000"/>
<path d="M318.2,211.5V237.0M316.0,211.5h4.4M316.0,237.0h4.4" stroke="#ff0000" stroke-opacity="0.6" stroke-width="0.85" fill="none"/>
<path d="M318.2,221.8L320.6,224.2L318.2,226.6L315.8,224.2Z" fill="#ff0000"/>
<path d="M314.2,218.1V241.8M312.0,218.1h4.4M312.0,241.8h4.4" stroke="#ff0000" stroke-opacity="0.6" stroke-width="0.85" fill="none"/>
<path d="M314.2,227.5L316.6,229.9L314.2,232.3L311.8,229.9Z" fill="#ff0000"/>
<path d="M310.2,224.3V246.2M308.0,224.3h4.4M308.0,246.2h4.4" stroke="#ff0000" stroke-opacity="0.6" stroke-width="0.85" fill="none"/>
<path d="M310.2,232.9L312.6,235.3L310.2,237.7L307.8,235.3Z" fill="#ff0000"/>
<path d="M306.1,230.1V250.4M303.9,230.1h4.4M303.9,250.4h4.4" stroke="#ff0000" stroke-opacity="0.6" stroke-width="0.85" fill="none"/>
<path d="M306.1,237.9L308.5,240.3L306.1,242.7L303.7,240.3Z" fill="#ff0000"/>
<path d="M302.1,235.6V254.4M299.9,235.6h4.4M299.9,254.4h4.4" stroke="#ff0000" stroke-opacity="0.6" stroke-width="0.85" fill="none"/>
<path d="M302.1,242.6L304.5,245.0L302.1,247.4L299.7,245.0Z" fill="#ff0000"/>
<path d="M298.1,240.8V258.3M295.9,240.8h4.4M295.9,258.3h4.4" stroke="#ff0000" stroke-opacity="0.6" stroke-width="0.85" fill="none"/>
<path d="M298.1,247.1L300.5,249.5L298.1,251.9L295.7,249.5Z" fill="#ff0000"/>
<path d="M294.1,245.6V261.9M291.9,245.6h4.4M291.9,261.9h4.4" stroke="#ff0000" stroke-opacity="0.6" stroke-width="0.85" fill="none"/>
<path d="M294.1,251.4L296.5,253.8L294.1,256.2L291.7,253.8Z" fill="#ff0000"/>
<path d="M290.0,250.1V265.4M287.8,250.1h4.4M287.8,265.4h4.4" stroke="#ff0000" stroke-opacity="0.6" stroke-width="0.85" fill="none"/>
<path d="M290.0,255.3L292.4,257.7L290.0,260.1L287.6,257.7Z" fill="#ff0000"/>
<path d="M286.0,254.4V268.6M283.8,254.4h4.4M283.8,268.6h4.4" stroke="#ff0000" stroke-opacity="0.6" stroke-width="0.85" fill="none"/>
<path d="M286.0,259.1L288.4,261.5L286.0,263.9L283.6,261.5Z" fill="#ff0000"/>
<path d="M282.0,258.4V271.7M279.8,258.4h4.4M279.8,271.7h4.4" stroke="#ff0000" stroke-opacity="0.6" stroke-width="0.85" fill="none"/>
<path d="M282.0,262.7L284.4,265.1L282.0,267.5L279.6,265.1Z" fill="#ff0000"/>
<path d="M278.0,262.2V274.6M275.8,262.2h4.4M275.8,274.6h4.4" stroke="#ff0000" stroke-opacity="0.6" stroke-width="0.85" fill="none"/>
<path d="M278.0,266.0L280.4,268.4L278.0,270.8L275.6,268.4Z" fill="#ff0000"/>
<path d="M273.9,265.8V277.3M271.7,265.8h4.4M271.7,277.3h4.4" stroke="#ff0000" stroke-opacity="0.6" stroke-width="0.85" fill="none"/>
<path d="M273.9,269.1L276.3,271.5L273.9,273.9L271.5,271.5Z" fill="#ff0000"/>
<path d="M269.9,269.1V279.9M267.7,269.1h4.4M267.7,279.9h4.4" stroke="#ff0000" stroke-opacity="0.6" stroke-width="0.85" fill="none"/>
<path d="M269.9,272.1L272.3,274.5L269.9,276.9L267.5,274.5Z" fill="#ff0000"/>
<path d="M265.9,272.3V282.3M263.7,272.3h4.4M263.7,282.3h4.4" stroke="#ff0000" stroke-opacity="0.6" stroke-width="0.85" fill="none"/>
<path d="M265.9,274.9L268.3,277.3L265.9,279.7L263.5,277.3Z" fill="#ff0000"/>
<path d="M261.8,275.3V284.5M259.6,275.3h4.4M259.6,284.5h4.4" stroke="#ff0000" stroke-opacity="0.6" stroke-width="0.85" fill="none"/>
<path d="M261.8,277.5L264.2,279.9L261.8,282.3L259.4,279.9Z" fill="#ff0000"/>
<path d="M257.8,278.0V286.6M255.6,278.0h4.4M255.6,286.6h4.4" stroke="#ff0000" stroke-opacity="0.6" stroke-width="0.85" fill="none"/>
<path d="M257.8,279.9L260.2,282.3L257.8,284.7L255.4,282.3Z" fill="#ff0000"/>
<path d="M253.8,280.6V288.6M251.6,280.6h4.4M251.6,288.6h4.4" stroke="#ff0000" stroke-opacity="0.6" stroke-width="0.85" fill="none"/>
<path d="M253.8,282.2L256.2,284.6L253.8,287.0L251.4,284.6Z" fill="#ff0000"/>
<path d="M249.8,283.1V290.4M247.6,283.1h4.4M247.6,290.4h4.4" stroke="#ff0000" stroke-opacity="0.6" stroke-width="0.85" fill="none"/>
<path d="M249.8,284.4L252.2,286.8L249.8,289.2L247.4,286.8Z" fill="#ff0000"/>
<path d="M245.7,285.3V292.2M243.5,285.3h4.4M243.5,292.2h4.4" stroke="#ff0000" stroke-opacity="0.6" stroke-width="0.85" fill="none"/>
<path d="M245.7,286.4L248.1,288.8L245.7,291.2L243.3,288.8Z" fill="#ff0000"/>
<path d="M241.7,287.5V293.8M239.5,287.5h4.4M239.5,293.8h4.4" stroke="#ff0000" stroke-opacity="0.6" stroke-width="0.85" fill="none"/>
<path d="M241.7,288.2L244.1,290.6L241.7,293.0L239.3,290.6Z" fill="#ff0000"/>
<path d="M237.7,289.4V295.3M235.5,289.4h4.4M235.5,295.3h4.4" stroke="#ff0000" stroke-opacity="0.6" stroke-width="0.85" fill="none"/>
<path d="M237.7,290.0L240.1,292.4L237.7,294.8L235.3,292.4Z" fill="#ff0000"/>
<path d="M233.6,291.3V296.7M231.4,291.3h4.4M231.4,296.7h4.4" stroke="#ff0000" stroke-opacity="0.6" stroke-width="0.85" fill="none"/>
<path d="M233.6,291.6L236.0,294.0L233.6,296.4L231.2,294.0Z" fill="#ff0000"/>
<path d="M229.6,293.0V298.0M227.4,293.0h4.4M227.4,298.0h4.4" stroke="#ff0000" stroke-opacity="0.6" stroke-width="0.85" fill="none"/>
<path d="M229.6,293.1L232.0,295.5L229.6,297.9L227.2,295.5Z" fill="#ff0000"/>
<path d="M225.6,294.6V299.3M223.4,294.6h4.4M223.4,299.3h4.4" stroke="#ff0000" stroke-opacity="0.6" stroke-width="0.85" fill="none"/>
<path d="M225.6,294.6L228.0,297.0L225.6,299.4L223.2,297.0Z" fill="#ff0000"/>
<path d="M221.6,296.1V300.4M219.4,296.1h4.4M219.4,300.4h4.4" stroke="#ff0000" stroke-opacity="0.6" stroke-width="0.85" fill="none"/>
<path d="M221.6,295.9L224.0,298.3L221.6,300.7L219.2,298.3Z" fill="#ff0000"/>
<path d="M217.5,297.5V301.5M215.3,297.5h4.4M215.3,301.5h4.4" stroke="#ff0000" stroke-opacity="0.6" stroke-width="0.85" fill="none"/>
<path d="M217.5,297.1L219.9,299.5L217.5,301.9L215.1,299.5Z" fill="#ff0000"/>
<path d="M213.5,298.8V302.5M211.3,298.8h4.4M211.3,302.5h4.4" stroke="#ff0000" stroke-opacity="0.6" stroke-width="0.85" fill="none"/>
<path d="M213.5,298.2L215.9,300.6L213.5,303.0L211.1,300.6Z" fill="#ff0000"/>
<path d="M209.5,300.0V303.4M207.3,300.0h4.4M207.3,303.4h4.4" stroke="#ff0000" stroke-opacity="0.6" stroke-width="0.85" fill="none"/>
<path d="M209.5,299.3L211.9,301.7L209.5,304.1L207.1,301.7Z" fill="#ff0000"/>
<path d="M205.5,301.1V304.2M203.3,301.1h4.4M203.3,304.2h4.4" stroke="#ff0000" stroke-opacity="0.6" stroke-width="0.85" fill="none"/>
<path d="M205.5,300.3L207.9,302.7L205.5,305.1L203.1,302.7Z" fill="#ff0000"/>
<path d="M201.4,302.2V305.0M199.2,302.2h4.4M199.2,305.0h4.4" stroke="#ff0000" stroke-opacity="0.6" stroke-width="0.85" fill="none"/>
<path d="M201.4,301.2L203.8,303.6L201.4,306.0L199.0,303.6Z" fill="#ff0000"/>
<path d="M197.4,303.1V305.8M195.2,303.1h4.4M195.2,305.8h4.4" stroke="#ff0000" stroke-opacity="0.6" stroke-width="0.85" fill="none"/>
<path d="M197.4,302.0L199.8,304.4L197.4,306.8L195.0,304.4Z" fill="#ff0000"/>
<path d="M193.4,304.0V306.4M191.2,304.0h4.4M191.2,306.4h4.4" stroke="#ff0000" stroke-opacity="0.6" stroke-width="0.85" fill="none"/>
<path d="M193.4,302.8L195.8,305.2L193.4,307.6L191.0,305.2Z" fill="#ff0000"/>
<path d="M189.3,304.8V307.1M187.1,304.8h4.4M187.1,307.1h4.4" stroke="#ff0000" stroke-opacity="0.6" stroke-width="0.85" fill="none"/>
<path d="M189.3,303.6L191.7,306.0L189.3,308.4L186.9,306.0Z" fill="#ff0000"/>
<path d="M185.3,305.6V307.7M183.1,305.6h4.4M183.1,307.7h4.4" stroke="#ff0000" stroke-opacity="0.6" stroke-width="0.85" fill="none"/>
<path d="M185.3,304.2L187.7,306.6L185.3,309.0L182.9,306.6Z" fill="#ff0000"/>
<path d="M181.3,306.3V308.2M179.1,306.3h4.4M179.1,308.2h4.4" stroke="#ff0000" stroke-opacity="0.6" stroke-width="0.85" fill="none"/>
<path d="M181.3,304.9L183.7,307.3L181.3,309.7L178.9,307.3Z" fill="#ff0000"/>
<path d="M177.3,307.0V308.7M175.1,307.0h4.4M175.1,308.7h4.4" stroke="#ff0000" stroke-opacity="0.6" stroke-width="0.85" fill="none"/>
<path d="M177.3,305.5L179.7,307.9L177.3,310.3L174.9,307.9Z" fill="#ff0000"/>
</g>
<g clip-path="url(#cm)">
<polyline points="32.2,314.3 34.4,314.3 36.5,314.3 38.7,314.3 40.8,314.3 42.9,314.3 45.1,314.3 47.2,314.2 49.4,314.2 51.5,314.2 53.7,314.2 55.8,314.2 58.0,314.1 60.1,314.1 62.3,314.1 64.4,314.1 66.6,314.1 68.7,314.0 70.9,314.0 73.0,314.0 75.2,313.9 77.3,313.9 79.5,313.9 81.6,313.8 83.8,313.8 85.9,313.8 88.1,313.7 90.2,313.7 92.4,313.6 94.5,313.6 96.7,313.5 98.8,313.5 100.9,313.4 103.1,313.3 105.2,313.3 107.4,313.2 109.5,313.1 111.7,313.1 113.8,313.0 116.0,312.9 118.1,312.8 120.3,312.7 122.4,312.6 124.6,312.5 126.7,312.4 128.9,312.3 131.0,312.2 133.2,312.1 135.3,311.9 137.5,311.8 139.6,311.7 141.8,311.5 143.9,311.4 146.1,311.2 148.2,311.0 150.4,310.9 152.5,310.7 154.6,310.5 156.8,310.3 158.9,310.1 161.1,309.9 163.2,309.6 165.4,309.4 167.5,309.1 169.7,308.9 171.8,308.6 174.0,308.3 176.1,308.0 178.3,307.7 180.4,307.4 182.6,307.0 184.7,306.7 186.9,306.3 189.0,305.9 191.2,305.5 193.3,305.1 195.5,304.7 197.6,304.2 199.8,303.8 201.9,303.3 204.1,302.7 206.2,302.2 208.3,301.7 210.5,301.1 212.6,300.5 214.8,299.8 216.9,299.2 219.1,298.5 221.2,297.8 223.4,297.1 225.5,296.3 227.7,295.5 229.8,294.7 232.0,293.8 234.1,292.9 236.3,292.0 238.4,291.0 240.6,290.0 242.7,288.9 244.9,287.8 247.0,286.7 249.2,285.5 251.3,284.3 253.5,283.0 255.6,281.7 257.8,280.3 259.9,278.9 262.0,277.4 264.2,275.9 266.3,274.3 268.5,272.6 270.6,270.9 272.8,269.1 274.9,267.2 277.1,265.3 279.2,263.3 281.4,261.2 283.5,259.0 285.7,256.8 287.8,254.4 290.0,252.0 292.1,249.5 294.3,246.9 296.4,244.2 298.6,241.4 300.7,238.5 302.9,235.4 305.0,232.3 307.2,229.0 309.3,225.7 311.5,222.1 313.6,218.5 315.7,214.7 317.9,210.8 320.0,206.7 322.2,202.5 324.3,198.1 326.5,193.6 328.6,188.9 330.8,184.0 332.9,178.9 335.1,173.7 337.2,168.2 339.4,162.5 341.5,156.7 343.7,150.6 345.8,144.2 348.0,137.6 350.1,130.8 352.3,123.8 354.4,116.4 356.6,108.8 358.7,100.9 360.9,92.7 363.0,84.2 365.2,75.3 367.3,66.2 369.4,56.6 371.6,46.7 373.7,36.5 375.9,25.8 378.0,14.8 380.2,3.3 382.3,-8.6 384.5,-21.0" stroke="#000" stroke-opacity="0.88" fill="none" stroke-width="1"/>
</g>
<g clip-path="url(#ci)">
<path d="M282.6,47.1H285.2M283.9,45.8V48.4" stroke="#00ff00" stroke-width="0.7" fill="none"/>
<path d="M279.7,48.1H282.3M281.0,46.8V49.4" stroke="#00ff00" stroke-width="0.7" fill="none"/>
<path d="M276.9,49.1H279.5M278.2,47.8V50.4" stroke="#00ff00" stroke-width="0.7" fill="none"/>
<path d="M274.0,50.1H276.6M275.3,48.8V51.4" stroke="#00ff00" stroke-width="0.7" fill="none"/>
<path d="M271.2,51.0H273.8M272.5,49.7V52.3" stroke="#00ff00" stroke-width="0.7" fill="none"/>
<path d="M268.3,51.9H270.9M269.6,50.6V53.2" stroke="#00ff00" stroke-width="0.7" fill="none"/>
<path d="M265.5,52.8H268.1M266.8,51.5V54.1" stroke="#00ff00" stroke-width="0.7" fill="none"/>
<path d="M262.7,53.6H265.3M264.0,52.3V54.9" stroke="#00ff00" stroke-width="0.7" fill="none"/>
<path d="M259.8,54.4H262.4M261.1,53.1V55.7" stroke="#00ff00" stroke-width="0.7" fill="none"/>
<path d="M257.0,55.3H259.6M258.3,54.0V56.6" stroke="#00ff00" stroke-width="0.7" fill="none"/>
<path d="M254.1,56.1H256.7M255.4,54.8V57.4" stroke="#00ff00" stroke-width="0.7" fill="none"/>
<path d="M251.3,56.9H253.9M252.6,55.6V58.2" stroke="#00ff00" stroke-width="0.7" fill="none"/>
<path d="M248.4,57.8H251.0M249.7,56.5V59.1" stroke="#00ff00" stroke-width="0.7" fill="none"/>
<path d="M245.6,58.6H248.2M246.9,57.3V59.9" stroke="#00ff00" stroke-width="0.7" fill="none"/>
<path d="M242.8,59.5H245.4M244.1,58.2V60.8" stroke="#00ff00" stroke-width="0.7" fill="none"/>
<path d="M239.9,60.4H242.5M241.2,59.1V61.7" stroke="#00ff00" stroke-width="0.7" fill="none"/>
<path d="M237.1,61.4H239.7M238.4,60.1V62.7" stroke="#00ff00" stroke-width="0.7" fill="none"/>
<path d="M234.2,62.4H236.8M235.5,61.1V63.7" stroke="#00ff00" stroke-width="0.7" fill="none"/>
<path d="M231.4,63.3H234.0M232.7,62.0V64.6" stroke="#00ff00" stroke-width="0.7" fill="none"/>
<path d="M228.5,64.2H231.1M229.8,62.9V65.5" stroke="#00ff00" stroke-width="0.7" fill="none"/>
<path d="M225.7,65.1H228.3M227.0,63.8V66.4" stroke="#00ff00" stroke-width="0.7" fill="none"/>
<path d="M222.9,66.1H225.5M224.2,64.8V67.4" stroke="#00ff00" stroke-width="0.7" fill="none"/>
<path d="M220.0,67.2H222.6M221.3,65.9V68.5" stroke="#00ff00" stroke-width="0.7" fill="none"/>
<path d="M217.2,68.3H219.8M218.5,67.0V69.6" stroke="#00ff00" stroke-width="0.7" fill="none"/>
<path d="M214.3,69.4H216.9M215.6,68.1V70.7" stroke="#00ff00" stroke-width="0.7" fill="none"/>
<path d="M211.5,70.5H214.1M212.8,69.2V71.8" stroke="#00ff00" stroke-width="0.7" fill="none"/>
<path d="M208.6,71.7H211.2M209.9,70.4V73.0" stroke="#00ff00" stroke-width="0.7" fill="none"/>
<path d="M205.8,72.8H208.4M207.1,71.5V74.1" stroke="#00ff00" stroke-width="0.7" fill="none"/>
<path d="M203.0,73.9H205.6M204.3,72.6V75.2" stroke="#00ff00" stroke-width="0.7" fill="none"/>
<path d="M200.1,75.1H202.7M201.4,73.8V76.4" stroke="#00ff00" stroke-width="0.7" fill="none"/>
<path d="M197.3,76.3H199.9M198.6,75.0V77.6" stroke="#00ff00" stroke-width="0.7" fill="none"/>
<path d="M194.4,77.6H197.0M195.7,76.3V78.9" stroke="#00ff00" stroke-width="0.7" fill="none"/>
<path d="M191.6,78.9H194.2M192.9,77.6V80.2" stroke="#00ff00" stroke-width="0.7" fill="none"/>
<path d="M188.7,80.5H191.3M190.0,79.2V81.8" stroke="#00ff00" stroke-width="0.7" fill="none"/>
<path d="M185.9,82.3H188.5M187.2,81.0V83.6" stroke="#00ff00" stroke-width="0.7" fill="none"/>
<path d="M183.1,84.1H185.7M184.4,82.8V85.4" stroke="#00ff00" stroke-width="0.7" fill="none"/>
<path d="M180.2,86.0H182.8M181.5,84.7V87.3" stroke="#00ff00" stroke-width="0.7" fill="none"/>
<path d="M177.4,87.8H180.0M178.7,86.5V89.1" stroke="#00ff00" stroke-width="0.7" fill="none"/>
<path d="M174.5,89.7H177.1M175.8,88.4V91.0" stroke="#00ff00" stroke-width="0.7" fill="none"/>
<path d="M171.7,91.5H174.3M173.0,90.2V92.8" stroke="#00ff00" stroke-width="0.7" fill="none"/>
<path d="M168.8,93.4H171.4M170.1,92.1V94.7" stroke="#00ff00" stroke-width="0.7" fill="none"/>
<path d="M166.0,95.3H168.6M167.3,94.0V96.6" stroke="#00ff00" stroke-width="0.7" fill="none"/>
<path d="M163.2,97.3H165.8M164.5,96.0V98.6" stroke="#00ff00" stroke-width="0.7" fill="none"/>
<path d="M160.3,99.3H162.9M161.6,98.0V100.6" stroke="#00ff00" stroke-width="0.7" fill="none"/>
<path d="M157.5,101.4H160.1M158.8,100.1V102.7" stroke="#00ff00" stroke-width="0.7" fill="none"/>
<path d="M154.6,103.7H157.2M155.9,102.4V105.0" stroke="#00ff00" stroke-width="0.7" fill="none"/>
<path d="M151.8,106.0H154.4M153.1,104.7V107.3" stroke="#00ff00" stroke-width="0.7" fill="none"/>
<path d="M148.9,108.3H151.5M150.2,107.0V109.6" stroke="#00ff00" stroke-width="0.7" fill="none"/>
<path d="M146.1,110.6H148.7M147.4,109.3V111.9" stroke="#00ff00" stroke-width="0.7" fill="none"/>
<path d="M143.3,112.8H145.9M144.6,111.5V114.1" stroke="#00ff00" stroke-width="0.7" fill="none"/>
<path d="M140.4,115.0H143.0M141.7,113.7V116.3" stroke="#00ff00" stroke-width="0.7" fill="none"/>
<path d="M137.6,117.7H140.2M138.9,116.4V119.0" stroke="#00ff00" stroke-width="0.7" fill="none"/>
<path d="M134.7,119.9H137.3M136.0,118.6V121.2" stroke="#00ff00" stroke-width="0.7" fill="none"/>
<path d="M131.9,121.6H134.5M133.2,120.3V122.9" stroke="#00ff00" stroke-width="0.7" fill="none"/>
<path d="M129.0,123.2H131.6M130.3,121.9V124.5" stroke="#00ff00" stroke-width="0.7" fill="none"/>
<path d="M126.2,125.0H128.8M127.5,123.7V126.3" stroke="#00ff00" stroke-width="0.7" fill="none"/>
<path d="M123.4,126.8H126.0M124.7,125.5V128.1" stroke="#00ff00" stroke-width="0.7" fill="none"/>
<path d="M120.5,128.8H123.1M121.8,127.5V130.1" stroke="#00ff00" stroke-width="0.7" fill="none"/>
<path d="M206.5,66.1L208.9,68.5M206.5,68.5L208.9,66.1" stroke="#0000ff" stroke-width="0.7" fill="none"/>
<path d="M205.7,66.6L208.1,69.0M205.7,69.0L208.1,66.6" stroke="#0000ff" stroke-width="0.7" fill="none"/>
<path d="M204.9,67.0L207.3,69.4M204.9,69.4L207.3,67.0" stroke="#0000ff" stroke-width="0.7" fill="none"/>
<path d="M204.1,67.5L206.5,69.9M204.1,69.9L206.5,67.5" stroke="#0000ff" stroke-width="0.7" fill="none"/>
<path d="M203.4,67.9L205.8,70.3M203.4,70.3L205.8,67.9" stroke="#0000ff" stroke-width="0.7" fill="none"/>
<path d="M202.6,68.3L205.0,70.7M202.6,70.7L205.0,68.3" stroke="#0000ff" stroke-width="0.7" fill="none"/>
<path d="M201.8,68.7L204.2,71.1M201.8,71.1L204.2,68.7" stroke="#0000ff" stroke-width="0.7" fill="none"/>
<path d="M201.0,69.0L203.4,71.4M201.0,71.4L203.4,69.0" stroke="#0000ff" stroke-width="0.7" fill="none"/>
<path d="M200.3,69.4L202.7,71.8M200.3,71.8L202.7,69.4" stroke="#0000ff" stroke-width="0.7" fill="none"/>
<path d="M199.5,69.8L201.9,72.2M199.5,72.2L201.9,69.8" stroke="#0000ff" stroke-width="0.7" fill="none"/>
<path d="M198.7,70.1L201.1,72.5M198.7,72.5L201.1,70.1" stroke="#0000ff" stroke-width="0.7" fill="none"/>
<path d="M198.0,70.5L200.4,72.9M198.0,72.9L200.4,70.5" stroke="#0000ff" stroke-width="0.7" fill="none"/>
<path d="M197.2,70.9L199.6,73.3M197.2,73.3L199.6,70.9" stroke="#0000ff" stroke-width="0.7" fill="none"/>
<path d="M196.4,71.4L198.8,73.8M196.4,73.8L198.8,71.4" stroke="#0000ff" stroke-width="0.7" fill="none"/>
<path d="M195.6,71.8L198.0,74.2M195.6,74.2L198.0,71.8" stroke="#0000ff" stroke-width="0.7" fill="none"/>
<path d="M194.9,72.2L197.3,74.6M194.9,74.6L197.3,72.2" stroke="#0000ff" stroke-width="0.7" fill="none"/>
<path d="M194.1,72.7L196.5,75.1M194.1,75.1L196.5,72.7" stroke="#0000ff" stroke-width="0.7" fill="none"/>
<path d="M193.3,73.1L195.7,75.5M193.3,75.5L195.7,73.1" stroke="#0000ff" stroke-width="0.7" fill="none"/>
<path d="M192.6,73.5L195.0,75.9M192.6,75.9L195.0,73.5" stroke="#0000ff" stroke-width="0.7" fill="none"/>
<path d="M191.8,74.0L194.2,76.4M191.8,76.4L194.2,74.0" stroke="#0000ff" stroke-width="0.7" fill="none"/>
<path d="M191.0,74.4L193.4,76.8M191.0,76.8L193.4,74.4" stroke="#0000ff" stroke-width="0.7" fill="none"/>
<path d="M190.2,74.8L192.6,77.2M190.2,77.2L192.6,74.8" stroke="#0000ff" stroke-width="0.7" fill="none"/>
<path d="M189.5,75.2L191.9,77.6M189.5,77.6L191.9,75.2" stroke="#0000ff" stroke-width="0.7" fill="none"/>
<path d="M188.7,75.7L191.1,78.1M188.7,78.1L191.1,75.7" stroke="#0000ff" stroke-width="0.7" fill="none"/>
<path d="M187.9,76.1L190.3,78.5M187.9,78.5L190.3,76.1" stroke="#0000ff" stroke-width="0.7" fill="none"/>
<path d="M187.1,76.5L189.5,78.9M187.1,78.9L189.5,76.5" stroke="#0000ff" stroke-width="0.7" fill="none"/>
<path d="M186.4,76.9L188.8,79.3M186.4,79.3L188.8,76.9" stroke="#0000ff" stroke-width="0.7" fill="none"/>
<path d="M185.6,77.4L188.0,79.8M185.6,79.8L188.0,77.4" stroke="#0000ff" stroke-width="0.7" fill="none"/>
<path d="M184.8,77.8L187.2,80.2M184.8,80.2L187.2,77.8" stroke="#0000ff" stroke-width="0.7" fill="none"/>
<path d="M184.1,78.2L186.5,80.6M184.1,80.6L186.5,78.2" stroke="#0000ff" stroke-width="0.7" fill="none"/>
<path d="M183.3,78.6L185.7,81.0M183.3,81.0L185.7,78.6" stroke="#0000ff" stroke-width="0.7" fill="none"/>
<path d="M182.5,79.0L184.9,81.4M182.5,81.4L184.9,79.0" stroke="#0000ff" stroke-width="0.7" fill="none"/>
<path d="M181.7,79.4L184.1,81.8M181.7,81.8L184.1,79.4" stroke="#0000ff" stroke-width="0.7" fill="none"/>
<path d="M181.0,79.9L183.4,82.3M181.0,82.3L183.4,79.9" stroke="#0000ff" stroke-width="0.7" fill="none"/>
<path d="M180.2,80.3L182.6,82.7M180.2,82.7L182.6,80.3" stroke="#0000ff" stroke-width="0.7" fill="none"/>
<path d="M179.4,80.7L181.8,83.1M179.4,83.1L181.8,80.7" stroke="#0000ff" stroke-width="0.7" fill="none"/>
<path d="M178.7,81.1L181.1,83.5M178.7,83.5L181.1,81.1" stroke="#0000ff" stroke-width="0.7" fill="none"/>
<path d="M177.9,81.5L180.3,83.9M177.9,83.9L180.3,81.5" stroke="#0000ff" stroke-width="0.7" fill="none"/>
<path d="M177.1,82.0L179.5,84.4M177.1,84.4L179.5,82.0" stroke="#0000ff" stroke-width="0.7" fill="none"/>
<path d="M176.3,82.4L178.7,84.8M176.3,84.8L178.7,82.4" stroke="#0000ff" stroke-width="0.7" fill="none"/>
<path d="M175.6,82.8L178.0,85.2M175.6,85.2L178.0,82.8" stroke="#0000ff" stroke-width="0.7" fill="none"/>
<path d="M174.8,83.2L177.2,85.6M174.8,85.6L177.2,83.2" stroke="#0000ff" stroke-width="0.7" fill="none"/>
<path d="M174.0,83.7L176.4,86.1M174.0,86.1L176.4,83.7" stroke="#0000ff" stroke-width="0.7" fill="none"/>
<path d="M173.2,84.1L175.6,86.5M173.2,86.5L175.6,84.1" stroke="#0000ff" stroke-width="0.7" fill="none"/>
<path d="M172.5,84.5L174.9,86.9M172.5,86.9L174.9,84.5" stroke="#0000ff" stroke-width="0.7" fill="none"/>
<path d="M171.7,84.9L174.1,87.3M171.7,87.3L174.1,84.9" stroke="#0000ff" stroke-width="0.7" fill="none"/>
<path d="M170.9,85.4L173.3,87.8M170.9,87.8L173.3,85.4" stroke="#0000ff" stroke-width="0.7" fill="none"/>
<path d="M170.2,85.8L172.6,88.2M170.2,88.2L172.6,85.8" stroke="#0000ff" stroke-width="0.7" fill="none"/>
<path d="M169.4,86.2L171.8,88.6M169.4,88.6L171.8,86.2" stroke="#0000ff" stroke-width="0.7" fill="none"/>
<path d="M168.6,86.7L171.0,89.1M168.6,89.1L171.0,86.7" stroke="#0000ff" stroke-width="0.7" fill="none"/>
<path d="M167.8,87.1L170.2,89.5M167.8,89.5L170.2,87.1" stroke="#0000ff" stroke-width="0.7" fill="none"/>
<path d="M167.1,87.5L169.5,89.9M167.1,89.9L169.5,87.5" stroke="#0000ff" stroke-width="0.7" fill="none"/>
<path d="M166.3,88.0L168.7,90.4M166.3,90.4L168.7,88.0" stroke="#0000ff" stroke-width="0.7" fill="none"/>
<path d="M165.5,88.4L167.9,90.8M165.5,90.8L167.9,88.4" stroke="#0000ff" stroke-width="0.7" fill="none"/>
<path d="M164.8,88.8L167.2,91.2M164.8,91.2L167.2,88.8" stroke="#0000ff" stroke-width="0.7" fill="none"/>
<path d="M164.0,89.3L166.4,91.7M164.0,91.7L166.4,89.3" stroke="#0000ff" stroke-width="0.7" fill="none"/>
<path d="M163.2,89.7L165.6,92.1M163.2,92.1L165.6,89.7" stroke="#0000ff" stroke-width="0.7" fill="none"/>
<path d="M162.4,90.2L164.8,92.6M162.4,92.6L164.8,90.2" stroke="#0000ff" stroke-width="0.7" fill="none"/>
<path d="M161.7,90.6L164.1,93.0M161.7,93.0L164.1,90.6" stroke="#0000ff" stroke-width="0.7" fill="none"/>
<path d="M160.9,91.0L163.3,93.4M160.9,93.4L163.3,91.0" stroke="#0000ff" stroke-width="0.7" fill="none"/>
<path d="M160.1,91.5L162.5,93.9M160.1,93.9L162.5,91.5" stroke="#0000ff" stroke-width="0.7" fill="none"/>
<path d="M159.3,91.9L161.7,94.3M159.3,94.3L161.7,91.9" stroke="#0000ff" stroke-width="0.7" fill="none"/>
<path d="M158.6,92.4L161.0,94.8M158.6,94.8L161.0,92.4" stroke="#0000ff" stroke-width="0.7" fill="none"/>
<path d="M157.8,92.8L160.2,95.2M157.8,95.2L160.2,92.8" stroke="#0000ff" stroke-width="0.7" fill="none"/>
<path d="M216.1,68.1H218.7M217.4,66.8V69.4M216.3,67.0L218.5,69.2M216.3,69.2L218.5,67.0" stroke="#ff00ff" stroke-opacity="0.9" stroke-width="0.6" fill="none"/>
<path d="M215.3,68.5H217.9M216.6,67.2V69.8M215.5,67.4L217.7,69.6M215.5,69.6L217.7,67.4" stroke="#ff00ff" stroke-opacity="0.9" stroke-width="0.6" fill="none"/>
<path d="M214.5,68.9H217.1M215.8,67.6V70.2M214.7,67.8L216.9,70.0M214.7,70.0L216.9,67.8" stroke="#ff00ff" stroke-opacity="0.9" stroke-width="0.6" fill="none"/>
<path d="M213.7,69.2H216.3M215.0,67.9V70.5M213.9,68.1L216.1,70.3M213.9,70.3L216.1,68.1" stroke="#ff00ff" stroke-opacity="0.9" stroke-width="0.6" fill="none"/>
<path d="M212.9,69.6H215.5M214.2,68.3V70.9M213.1,68.5L215.3,70.7M213.1,70.7L215.3,68.5" stroke="#ff00ff" stroke-opacity="0.9" stroke-width="0.6" fill="none"/>
<path d="M212.1,69.9H214.7M213.4,68.6V71.2M212.3,68.8L214.5,71.0M212.3,71.0L214.5,68.8" stroke="#ff00ff" stroke-opacity="0.9" stroke-width="0.6" fill="none"/>
<path d="M211.3,70.2H213.9M212.6,68.9V71.5M211.5,69.1L213.7,71.3M211.5,71.3L213.7,69.1" stroke="#ff00ff" stroke-opacity="0.9" stroke-width="0.6" fill="none"/>
<path d="M210.5,70.6H213.1M211.8,69.3V71.9M210.7,69.5L212.9,71.7M210.7,71.7L212.9,69.5" stroke="#ff00ff" stroke-opacity="0.9" stroke-width="0.6" fill="none"/>
<path d="M209.7,70.9H212.3M211.0,69.6V72.2M209.9,69.8L212.1,72.0M209.9,72.0L212.1,69.8" stroke="#ff00ff" stroke-opacity="0.9" stroke-width="0.6" fill="none"/>
<path d="M208.9,71.2H211.5M210.2,69.9V72.5M209.1,70.1L211.3,72.3M209.1,72.3L211.3,70.1" stroke="#ff00ff" stroke-opacity="0.9" stroke-width="0.6" fill="none"/>
<path d="M208.1,71.5H210.7M209.4,70.2V72.8M208.3,70.4L210.5,72.6M208.3,72.6L210.5,70.4" stroke="#ff00ff" stroke-opacity="0.9" stroke-width="0.6" fill="none"/>
<path d="M207.3,71.8H209.9M208.6,70.5V73.1M207.5,70.7L209.7,72.9M207.5,72.9L209.7,70.7" stroke="#ff00ff" stroke-opacity="0.9" stroke-width="0.6" fill="none"/>
<path d="M206.5,72.1H209.1M207.8,70.8V73.4M206.7,71.0L208.9,73.2M206.7,73.2L208.9,71.0" stroke="#ff00ff" stroke-opacity="0.9" stroke-width="0.6" fill="none"/>
<path d="M205.7,72.4H208.3M207.0,71.1V73.7M205.9,71.3L208.1,73.5M205.9,73.5L208.1,71.3" stroke="#ff00ff" stroke-opacity="0.9" stroke-width="0.6" fill="none"/>
<path d="M204.9,72.6H207.5M206.2,71.3V73.9M205.1,71.5L207.3,73.7M205.1,73.7L207.3,71.5" stroke="#ff00ff" stroke-opacity="0.9" stroke-width="0.6" fill="none"/>
<path d="M204.0,72.9H206.6M205.3,71.6V74.2M204.2,71.8L206.4,74.0M204.2,74.0L206.4,71.8" stroke="#ff00ff" stroke-opacity="0.9" stroke-width="0.6" fill="none"/>
<path d="M203.2,73.2H205.8M204.5,71.9V74.5M203.4,72.1L205.6,74.3M203.4,74.3L205.6,72.1" stroke="#ff00ff" stroke-opacity="0.9" stroke-width="0.6" fill="none"/>
<path d="M202.4,73.5H205.0M203.7,72.2V74.8M202.6,72.4L204.8,74.6M202.6,74.6L204.8,72.4" stroke="#ff00ff" stroke-opacity="0.9" stroke-width="0.6" fill="none"/>
<path d="M201.6,73.9H204.2M202.9,72.6V75.2M201.8,72.8L204.0,75.0M201.8,75.0L204.0,72.8" stroke="#ff00ff" stroke-opacity="0.9" stroke-width="0.6" fill="none"/>
<path d="M200.8,74.2H203.4M202.1,72.9V75.5M201.0,73.1L203.2,75.3M201.0,75.3L203.2,73.1" stroke="#ff00ff" stroke-opacity="0.9" stroke-width="0.6" fill="none"/>
<path d="M200.0,74.5H202.6M201.3,73.2V75.8M200.2,73.4L202.4,75.6M200.2,75.6L202.4,73.4" stroke="#ff00ff" stroke-opacity="0.9" stroke-width="0.6" fill="none"/>
<path d="M199.2,74.9H201.8M200.5,73.6V76.2M199.4,73.8L201.6,76.0M199.4,76.0L201.6,73.8" stroke="#ff00ff" stroke-opacity="0.9" stroke-width="0.6" fill="none"/>
<path d="M198.4,75.2H201.0M199.7,73.9V76.5M198.6,74.1L200.8,76.3M198.6,76.3L200.8,74.1" stroke="#ff00ff" stroke-opacity="0.9" stroke-width="0.6" fill="none"/>
<path d="M197.6,75.5H200.2M198.9,74.2V76.8M197.8,74.4L200.0,76.6M197.8,76.6L200.0,74.4" stroke="#ff00ff" stroke-opacity="0.9" stroke-width="0.6" fill="none"/>
<path d="M196.8,75.9H199.4M198.1,74.6V77.2M197.0,74.8L199.2,77.0M197.0,77.0L199.2,74.8" stroke="#ff00ff" stroke-opacity="0.9" stroke-width="0.6" fill="none"/>
<path d="M196.0,76.2H198.6M197.3,74.9V77.5M196.2,75.1L198.4,77.3M196.2,77.3L198.4,75.1" stroke="#ff00ff" stroke-opacity="0.9" stroke-width="0.6" fill="none"/>
<path d="M195.2,76.5H197.8M196.5,75.2V77.8M195.4,75.4L197.6,77.6M195.4,77.6L197.6,75.4" stroke="#ff00ff" stroke-opacity="0.9" stroke-width="0.6" fill="none"/>
<path d="M194.4,76.8H197.0M195.7,75.5V78.1M194.6,75.7L196.8,77.9M194.6,77.9L196.8,75.7" stroke="#ff00ff" stroke-opacity="0.9" stroke-width="0.6" fill="none"/>
<path d="M193.6,77.2H196.2M194.9,75.9V78.5M193.8,76.1L196.0,78.3M193.8,78.3L196.0,76.1" stroke="#ff00ff" stroke-opacity="0.9" stroke-width="0.6" fill="none"/>
<path d="M192.8,77.6H195.4M194.1,76.3V78.9M193.0,76.5L195.2,78.7M193.0,78.7L195.2,76.5" stroke="#ff00ff" stroke-opacity="0.9" stroke-width="0.6" fill="none"/>
<path d="M192.0,77.9H194.6M193.3,76.6V79.2M192.2,76.8L194.4,79.0M192.2,79.0L194.4,76.8" stroke="#ff00ff" stroke-opacity="0.9" stroke-width="0.6" fill="none"/>
<path d="M191.2,78.3H193.8M192.5,77.0V79.6M191.4,77.2L193.6,79.4M191.4,79.4L193.6,77.2" stroke="#ff00ff" stroke-opacity="0.9" stroke-width="0.6" fill="none"/>
<path d="M190.4,78.7H193.0M191.7,77.4V80.0M190.6,77.6L192.8,79.8M190.6,79.8L192.8,77.6" stroke="#ff00ff" stroke-opacity="0.9" stroke-width="0.6" fill="none"/>
<path d="M189.5,79.1H192.1M190.8,77.8V80.4M189.7,78.0L191.9,80.2M189.7,80.2L191.9,78.0" stroke="#ff00ff" stroke-opacity="0.9" stroke-width="0.6" fill="none"/>
<path d="M188.7,79.5H191.3M190.0,78.2V80.8M188.9,78.4L191.1,80.6M188.9,80.6L191.1,78.4" stroke="#ff00ff" stroke-opacity="0.9" stroke-width="0.6" fill="none"/>
<path d="M187.9,79.8H190.5M189.2,78.5V81.1M188.1,78.7L190.3,80.9M188.1,80.9L190.3,78.7" stroke="#ff00ff" stroke-opacity="0.9" stroke-width="0.6" fill="none"/>
<path d="M187.1,80.2H189.7M188.4,78.9V81.5M187.3,79.1L189.5,81.3M187.3,81.3L189.5,79.1" stroke="#ff00ff" stroke-opacity="0.9" stroke-width="0.6" fill="none"/>
<path d="M186.3,80.6H188.9M187.6,79.3V81.9M186.5,79.5L188.7,81.7M186.5,81.7L188.7,79.5" stroke="#ff00ff" stroke-opacity="0.9" stroke-width="0.6" fill="none"/>
<path d="M185.5,81.0H188.1M186.8,79.7V82.3M185.7,79.9L187.9,82.1M185.7,82.1L187.9,79.9" stroke="#ff00ff" stroke-opacity="0.9" stroke-width="0.6" fill="none"/>
<path d="M184.7,81.4H187.3M186.0,80.1V82.7M184.9,80.3L187.1,82.5M184.9,82.5L187.1,80.3" stroke="#ff00ff" stroke-opacity="0.9" stroke-width="0.6" fill="none"/>
<path d="M183.9,81.8H186.5M185.2,80.5V83.1M184.1,80.7L186.3,82.9M184.1,82.9L186.3,80.7" stroke="#ff00ff" stroke-opacity="0.9" stroke-width="0.6" fill="none"/>
<path d="M183.1,82.2H185.7M184.4,80.9V83.5M183.3,81.1L185.5,83.3M183.3,83.3L185.5,81.1" stroke="#ff00ff" stroke-opacity="0.9" stroke-width="0.6" fill="none"/>
<path d="M182.3,82.6H184.9M183.6,81.3V83.9M182.5,81.5L184.7,83.7M182.5,83.7L184.7,81.5" stroke="#ff00ff" stroke-opacity="0.9" stroke-width="0.6" fill="none"/>
<path d="M181.5,83.0H184.1M182.8,81.7V84.3M181.7,81.9L183.9,84.1M181.7,84.1L183.9,81.9" stroke="#ff00ff" stroke-opacity="0.9" stroke-width="0.6" fill="none"/>
<path d="M180.7,83.4H183.3M182.0,82.1V84.7M180.9,82.3L183.1,84.5M180.9,84.5L183.1,82.3" stroke="#ff00ff" stroke-opacity="0.9" stroke-width="0.6" fill="none"/>
<path d="M179.9,83.8H182.5M181.2,82.5V85.1M180.1,82.7L182.3,84.9M180.1,84.9L182.3,82.7" stroke="#ff00ff" stroke-opacity="0.9" stroke-width="0.6" fill="none"/>
<path d="M179.1,84.2H181.7M180.4,82.9V85.5M179.3,83.1L181.5,85.3M179.3,85.3L181.5,83.1" stroke="#ff00ff" stroke-opacity="0.9" stroke-width="0.6" fill="none"/>
<path d="M178.3,84.6H180.9M179.6,83.3V85.9M178.5,83.5L180.7,85.7M178.5,85.7L180.7,83.5" stroke="#ff00ff" stroke-opacity="0.9" stroke-width="0.6" fill="none"/>
<path d="M177.5,85.0H180.1M178.8,83.7V86.3M177.7,83.9L179.9,86.1M177.7,86.1L179.9,83.9" stroke="#ff00ff" stroke-opacity="0.9" stroke-width="0.6" fill="none"/>
<path d="M176.7,85.4H179.3M178.0,84.1V86.7M176.9,84.3L179.1,86.5M176.9,86.5L179.1,84.3" stroke="#ff00ff" stroke-opacity="0.9" stroke-width="0.6" fill="none"/>
<path d="M175.9,85.8H178.5M177.2,84.5V87.1M176.1,84.7L178.3,86.9M176.1,86.9L178.3,84.7" stroke="#ff00ff" stroke-opacity="0.9" stroke-width="0.6" fill="none"/>
<path d="M175.1,86.2H177.7M176.4,84.9V87.5M175.3,85.1L177.5,87.3M175.3,87.3L177.5,85.1" stroke="#ff00ff" stroke-opacity="0.9" stroke-width="0.6" fill="none"/>
<path d="M174.2,86.6H176.8M175.5,85.3V87.9M174.4,85.5L176.6,87.7M174.4,87.7L176.6,85.5" stroke="#ff00ff" stroke-opacity="0.9" stroke-width="0.6" fill="none"/>
<path d="M173.4,87.1H176.0M174.7,85.8V88.4M173.6,86.0L175.8,88.2M173.6,88.2L175.8,86.0" stroke="#ff00ff" stroke-opacity="0.9" stroke-width="0.6" fill="none"/>
<path d="M172.6,87.5H175.2M173.9,86.2V88.8M172.8,86.4L175.0,88.6M172.8,88.6L175.0,86.4" stroke="#ff00ff" stroke-opacity="0.9" stroke-width="0.6" fill="none"/>
<path d="M171.8,87.9H174.4M173.1,86.6V89.2M172.0,86.8L174.2,89.0M172.0,89.0L174.2,86.8" stroke="#ff00ff" stroke-opacity="0.9" stroke-width="0.6" fill="none"/>
<path d="M171.0,88.3H173.6M172.3,87.0V89.6M171.2,87.2L173.4,89.4M171.2,89.4L173.4,87.2" stroke="#ff00ff" stroke-opacity="0.9" stroke-width="0.6" fill="none"/>
<path d="M170.2,88.7H172.8M171.5,87.4V90.0M170.4,87.6L172.6,89.8M170.4,89.8L172.6,87.6" stroke="#ff00ff" stroke-opacity="0.9" stroke-width="0.6" fill="none"/>
<path d="M169.4,89.1H172.0M170.7,87.8V90.4M169.6,88.0L171.8,90.2M169.6,90.2L171.8,88.0" stroke="#ff00ff" stroke-opacity="0.9" stroke-width="0.6" fill="none"/>
<path d="M168.6,89.6H171.2M169.9,88.3V90.9M168.8,88.5L171.0,90.7M168.8,90.7L171.0,88.5" stroke="#ff00ff" stroke-opacity="0.9" stroke-width="0.6" fill="none"/>
<path d="M167.8,90.0H170.4M169.1,88.7V91.3M168.0,88.9L170.2,91.1M168.0,91.1L170.2,88.9" stroke="#ff00ff" stroke-opacity="0.9" stroke-width="0.6" fill="none"/>
<rect x="280.7" y="20.8" width="2.4" height="2.4" stroke="#00ffff" stroke-width="0.7" fill="none"/>
<rect x="276.0" y="26.3" width="2.4" height="2.4" stroke="#00ffff" stroke-width="0.7" fill="none"/>
<rect x="271.3" y="31.3" width="2.4" height="2.4" stroke="#00ffff" stroke-width="0.7" fill="none"/>
<rect x="266.6" y="35.5" width="2.4" height="2.4" stroke="#00ffff" stroke-width="0.7" fill="none"/>
<rect x="261.9" y="38.6" width="2.4" height="2.4" stroke="#00ffff" stroke-width="0.7" fill="none"/>
<rect x="257.1" y="41.3" width="2.4" height="2.4" stroke="#00ffff" stroke-width="0.7" fill="none"/>
<rect x="252.4" y="43.9" width="2.4" height="2.4" stroke="#00ffff" stroke-width="0.7" fill="none"/>
<rect x="247.7" y="46.3" width="2.4" height="2.4" stroke="#00ffff" stroke-width="0.7" fill="none"/>
<rect x="243.0" y="48.9" width="2.4" height="2.4" stroke="#00ffff" stroke-width="0.7" fill="none"/>
<rect x="238.3" y="51.4" width="2.4" height="2.4" stroke="#00ffff" stroke-width="0.7" fill="none"/>
<rect x="233.6" y="53.9" width="2.4" height="2.4" stroke="#00ffff" stroke-width="0.7" fill="none"/>
<rect x="228.8" y="56.2" width="2.4" height="2.4" stroke="#00ffff" stroke-width="0.7" fill="none"/>
<rect x="224.1" y="58.5" width="2.4" height="2.4" stroke="#00ffff" stroke-width="0.7" fill="none"/>
<rect x="219.4" y="60.8" width="2.4" height="2.4" stroke="#00ffff" stroke-width="0.7" fill="none"/>
<rect x="214.7" y="63.3" width="2.4" height="2.4" stroke="#00ffff" stroke-width="0.7" fill="none"/>
<rect x="210.0" y="65.6" width="2.4" height="2.4" stroke="#00ffff" stroke-width="0.7" fill="none"/>
<rect x="205.2" y="68.1" width="2.4" height="2.4" stroke="#00ffff" stroke-width="0.7" fill="none"/>
<rect x="200.5" y="70.6" width="2.4" height="2.4" stroke="#00ffff" stroke-width="0.7" fill="none"/>
<rect x="195.8" y="72.9" width="2.4" height="2.4" stroke="#00ffff" stroke-width="0.7" fill="none"/>
<rect x="191.1" y="75.2" width="2.4" height="2.4" stroke="#00ffff" stroke-width="0.7" fill="none"/>
<rect x="186.4" y="77.5" width="2.4" height="2.4" stroke="#00ffff" stroke-width="0.7" fill="none"/>
<rect x="181.6" y="79.8" width="2.4" height="2.4" stroke="#00ffff" stroke-width="0.7" fill="none"/>
<rect x="176.9" y="82.0" width="2.4" height="2.4" stroke="#00ffff" stroke-width="0.7" fill="none"/>
<rect x="172.2" y="84.3" width="2.4" height="2.4" stroke="#00ffff" stroke-width="0.7" fill="none"/>
<rect x="167.5" y="86.6" width="2.4" height="2.4" stroke="#00ffff" stroke-width="0.7" fill="none"/>
<rect x="162.8" y="89.0" width="2.4" height="2.4" stroke="#00ffff" stroke-width="0.7" fill="none"/>
<rect x="158.0" y="91.6" width="2.4" height="2.4" stroke="#00ffff" stroke-width="0.7" fill="none"/>
<rect x="153.3" y="94.2" width="2.4" height="2.4" stroke="#00ffff" stroke-width="0.7" fill="none"/>
<rect x="148.6" y="97.0" width="2.4" height="2.4" stroke="#00ffff" stroke-width="0.7" fill="none"/>
<rect x="143.9" y="99.7" width="2.4" height="2.4" stroke="#00ffff" stroke-width="0.7" fill="none"/>
<rect x="139.2" y="102.4" width="2.4" height="2.4" stroke="#00ffff" stroke-width="0.7" fill="none"/>
<rect x="134.5" y="105.0" width="2.4" height="2.4" stroke="#00ffff" stroke-width="0.7" fill="none"/>
<rect x="129.7" y="107.7" width="2.4" height="2.4" stroke="#00ffff" stroke-width="0.7" fill="none"/>
<rect x="125.0" y="110.3" width="2.4" height="2.4" stroke="#00ffff" stroke-width="0.7" fill="none"/>
<rect x="120.3" y="113.1" width="2.4" height="2.4" stroke="#00ffff" stroke-width="0.7" fill="none"/>
<rect x="115.6" y="115.8" width="2.4" height="2.4" stroke="#00ffff" stroke-width="0.7" fill="none"/>
<rect x="110.9" y="118.3" width="2.4" height="2.4" stroke="#00ffff" stroke-width="0.7" fill="none"/>
<rect x="106.1" y="120.7" width="2.4" height="2.4" stroke="#00ffff" stroke-width="0.7" fill="none"/>
<rect x="101.4" y="123.1" width="2.4" height="2.4" stroke="#00ffff" stroke-width="0.7" fill="none"/>
<rect x="96.7" y="125.3" width="2.4" height="2.4" stroke="#00ffff" stroke-width="0.7" fill="none"/>
<rect x="92.0" y="127.5" width="2.4" height="2.4" stroke="#00ffff" stroke-width="0.7" fill="none"/>
<rect x="87.3" y="129.8" width="2.4" height="2.4" stroke="#00ffff" stroke-width="0.7" fill="none"/>
<rect x="280.8" y="55.0" width="2.5" height="2.5" fill="#0000ff"/>
<rect x="278.4" y="55.4" width="2.5" height="2.5" fill="#0000ff"/>
<rect x="276.0" y="55.8" width="2.5" height="2.5" fill="#0000ff"/>
<rect x="273.7" y="56.3" width="2.5" height="2.5" fill="#0000ff"/>
<rect x="271.3" y="56.7" width="2.5" height="2.5" fill="#0000ff"/>
<rect x="268.9" y="57.1" width="2.5" height="2.5" fill="#0000ff"/>
<rect x="266.5" y="57.6" width="2.5" height="2.5" fill="#0000ff"/>
<rect x="264.1" y="58.0" width="2.5" height="2.5" fill="#0000ff"/>
<rect x="261.7" y="58.4" width="2.5" height="2.5" fill="#0000ff"/>
<rect x="259.4" y="58.9" width="2.5" height="2.5" fill="#0000ff"/>
<rect x="257.0" y="59.4" width="2.5" height="2.5" fill="#0000ff"/>
<rect x="254.6" y="59.9" width="2.5" height="2.5" fill="#0000ff"/>
<rect x="252.2" y="60.4" width="2.5" height="2.5" fill="#0000ff"/>
<rect x="249.8" y="60.9" width="2.5" height="2.5" fill="#0000ff"/>
<rect x="247.4" y="61.4" width="2.5" height="2.5" fill="#0000ff"/>
<rect x="245.1" y="62.0" width="2.5" height="2.5" fill="#0000ff"/>
<rect x="242.7" y="62.5" width="2.5" height="2.5" fill="#0000ff"/>
<rect x="240.3" y="63.1" width="2.5" height="2.5" fill="#0000ff"/>
<rect x="237.9" y="63.7" width="2.5" height="2.5" fill="#0000ff"/>
<rect x="235.5" y="64.3" width="2.5" height="2.5" fill="#0000ff"/>
<rect x="233.1" y="64.9" width="2.5" height="2.5" fill="#0000ff"/>
<rect x="230.8" y="65.6" width="2.5" height="2.5" fill="#0000ff"/>
<rect x="228.4" y="66.2" width="2.5" height="2.5" fill="#0000ff"/>
<rect x="226.0" y="67.0" width="2.5" height="2.5" fill="#0000ff"/>
<rect x="223.6" y="67.7" width="2.5" height="2.5" fill="#0000ff"/>
<rect x="221.2" y="68.5" width="2.5" height="2.5" fill="#0000ff"/>
<rect x="218.8" y="69.3" width="2.5" height="2.5" fill="#0000ff"/>
<rect x="216.5" y="70.0" width="2.5" height="2.5" fill="#0000ff"/>
<rect x="214.1" y="70.9" width="2.5" height="2.5" fill="#0000ff"/>
<rect x="211.7" y="71.7" width="2.5" height="2.5" fill="#0000ff"/>
<rect x="209.3" y="72.6" width="2.5" height="2.5" fill="#0000ff"/>
<rect x="206.9" y="73.5" width="2.5" height="2.5" fill="#0000ff"/>
<rect x="204.5" y="74.5" width="2.5" height="2.5" fill="#0000ff"/>
<rect x="202.2" y="75.5" width="2.5" height="2.5" fill="#0000ff"/>
<rect x="199.8" y="76.7" width="2.5" height="2.5" fill="#0000ff"/>
<rect x="197.4" y="77.8" width="2.5" height="2.5" fill="#0000ff"/>
<rect x="195.0" y="78.9" width="2.5" height="2.5" fill="#0000ff"/>
<rect x="192.6" y="80.1" width="2.5" height="2.5" fill="#0000ff"/>
<rect x="190.2" y="81.3" width="2.5" height="2.5" fill="#0000ff"/>
<rect x="187.9" y="82.6" width="2.5" height="2.5" fill="#0000ff"/>
<rect x="185.5" y="83.9" width="2.5" height="2.5" fill="#0000ff"/>
<rect x="183.1" y="85.2" width="2.5" height="2.5" fill="#0000ff"/>
<rect x="180.7" y="86.6" width="2.5" height="2.5" fill="#0000ff"/>
<rect x="178.3" y="88.0" width="2.5" height="2.5" fill="#0000ff"/>
<rect x="175.9" y="89.4" width="2.5" height="2.5" fill="#0000ff"/>
<rect x="173.6" y="90.8" width="2.5" height="2.5" fill="#0000ff"/>
<rect x="171.2" y="92.3" width="2.5" height="2.5" fill="#0000ff"/>
<rect x="168.8" y="93.9" width="2.5" height="2.5" fill="#0000ff"/>
<rect x="166.4" y="95.4" width="2.5" height="2.5" fill="#0000ff"/>
<rect x="164.0" y="97.0" width="2.5" height="2.5" fill="#0000ff"/>
<rect x="161.6" y="98.6" width="2.5" height="2.5" fill="#0000ff"/>
<rect x="159.3" y="100.3" width="2.5" height="2.5" fill="#0000ff"/>
<rect x="156.9" y="102.2" width="2.5" height="2.5" fill="#0000ff"/>
<rect x="154.5" y="104.1" width="2.5" height="2.5" fill="#0000ff"/>
<rect x="152.1" y="106.3" width="2.5" height="2.5" fill="#0000ff"/>
<rect x="149.7" y="108.7" width="2.5" height="2.5" fill="#0000ff"/>
<rect x="147.3" y="111.2" width="2.5" height="2.5" fill="#0000ff"/>
<rect x="145.0" y="114.0" width="2.5" height="2.5" fill="#0000ff"/>
<rect x="142.6" y="116.3" width="2.5" height="2.5" fill="#0000ff"/>
<rect x="140.2" y="118.7" width="2.5" height="2.5" fill="#0000ff"/>
<rect x="137.8" y="121.3" width="2.5" height="2.5" fill="#0000ff"/>
<circle cx="274.7" cy="56.9" r="1.1" stroke="#000000" stroke-width="0.7" fill="none"/>
<circle cx="272.6" cy="57.3" r="1.1" stroke="#000000" stroke-width="0.7" fill="none"/>
<circle cx="270.5" cy="57.7" r="1.1" stroke="#000000" stroke-width="0.7" fill="none"/>
<circle cx="268.4" cy="58.1" r="1.1" stroke="#000000" stroke-width="0.7" fill="none"/>
<circle cx="266.3" cy="58.5" r="1.1" stroke="#000000" stroke-width="0.7" fill="none"/>
<circle cx="264.2" cy="58.9" r="1.1" stroke="#000000" stroke-width="0.7" fill="none"/>
<circle cx="262.2" cy="59.3" r="1.1" stroke="#000000" stroke-width="0.7" fill="none"/>
<circle cx="260.1" cy="59.7" r="1.1" stroke="#000000" stroke-width="0.7" fill="none"/>
<circle cx="258.0" cy="60.1" r="1.1" stroke="#000000" stroke-width="0.7" fill="none"/>
<circle cx="255.9" cy="60.6" r="1.1" stroke="#000000" stroke-width="0.7" fill="none"/>
<circle cx="253.8" cy="61.0" r="1.1" stroke="#000000" stroke-width="0.7" fill="none"/>
<circle cx="251.7" cy="61.5" r="1.1" stroke="#000000" stroke-width="0.7" fill="none"/>
<circle cx="249.6" cy="61.9" r="1.1" stroke="#000000" stroke-width="0.7" fill="none"/>
<circle cx="247.6" cy="62.4" r="1.1" stroke="#000000" stroke-width="0.7" fill="none"/>
<circle cx="245.5" cy="62.9" r="1.1" stroke="#000000" stroke-width="0.7" fill="none"/>
<circle cx="243.4" cy="63.4" r="1.1" stroke="#000000" stroke-width="0.7" fill="none"/>
<circle cx="241.3" cy="63.9" r="1.1" stroke="#000000" stroke-width="0.7" fill="none"/>
<circle cx="239.2" cy="64.5" r="1.1" stroke="#000000" stroke-width="0.7" fill="none"/>
<circle cx="237.1" cy="65.1" r="1.1" stroke="#000000" stroke-width="0.7" fill="none"/>
<circle cx="235.1" cy="65.7" r="1.1" stroke="#000000" stroke-width="0.7" fill="none"/>
<circle cx="233.0" cy="66.3" r="1.1" stroke="#000000" stroke-width="0.7" fill="none"/>
<circle cx="230.9" cy="66.9" r="1.1" stroke="#000000" stroke-width="0.7" fill="none"/>
<circle cx="228.8" cy="67.5" r="1.1" stroke="#000000" stroke-width="0.7" fill="none"/>
<circle cx="226.7" cy="68.2" r="1.1" stroke="#000000" stroke-width="0.7" fill="none"/>
<circle cx="224.6" cy="68.8" r="1.1" stroke="#000000" stroke-width="0.7" fill="none"/>
<circle cx="222.5" cy="69.4" r="1.1" stroke="#000000" stroke-width="0.7" fill="none"/>
<circle cx="220.5" cy="70.1" r="1.1" stroke="#000000" stroke-width="0.7" fill="none"/>
<circle cx="218.4" cy="70.7" r="1.1" stroke="#000000" stroke-width="0.7" fill="none"/>
<circle cx="216.3" cy="71.4" r="1.1" stroke="#000000" stroke-width="0.7" fill="none"/>
<circle cx="214.2" cy="72.2" r="1.1" stroke="#000000" stroke-width="0.7" fill="none"/>
<circle cx="212.1" cy="73.0" r="1.1" stroke="#000000" stroke-width="0.7" fill="none"/>
<circle cx="210.0" cy="73.8" r="1.1" stroke="#000000" stroke-width="0.7" fill="none"/>
<circle cx="208.0" cy="74.6" r="1.1" stroke="#000000" stroke-width="0.7" fill="none"/>
<circle cx="205.9" cy="75.4" r="1.1" stroke="#000000" stroke-width="0.7" fill="none"/>
<circle cx="203.8" cy="76.3" r="1.1" stroke="#000000" stroke-width="0.7" fill="none"/>
<circle cx="201.7" cy="77.2" r="1.1" stroke="#000000" stroke-width="0.7" fill="none"/>
<circle cx="199.6" cy="78.2" r="1.1" stroke="#000000" stroke-width="0.7" fill="none"/>
<circle cx="197.5" cy="79.2" r="1.1" stroke="#000000" stroke-width="0.7" fill="none"/>
<circle cx="195.4" cy="80.3" r="1.1" stroke="#000000" stroke-width="0.7" fill="none"/>
<circle cx="193.4" cy="81.3" r="1.1" stroke="#000000" stroke-width="0.7" fill="none"/>
<circle cx="191.3" cy="82.4" r="1.1" stroke="#000000" stroke-width="0.7" fill="none"/>
<circle cx="189.2" cy="83.4" r="1.1" stroke="#000000" stroke-width="0.7" fill="none"/>
<circle cx="187.1" cy="84.5" r="1.1" stroke="#000000" stroke-width="0.7" fill="none"/>
<circle cx="185.0" cy="85.6" r="1.1" stroke="#000000" stroke-width="0.7" fill="none"/>
<circle cx="182.9" cy="86.7" r="1.1" stroke="#000000" stroke-width="0.7" fill="none"/>
<circle cx="180.9" cy="87.9" r="1.1" stroke="#000000" stroke-width="0.7" fill="none"/>
<circle cx="178.8" cy="89.1" r="1.1" stroke="#000000" stroke-width="0.7" fill="none"/>
<circle cx="176.7" cy="90.3" r="1.1" stroke="#000000" stroke-width="0.7" fill="none"/>
<circle cx="174.6" cy="91.6" r="1.1" stroke="#000000" stroke-width="0.7" fill="none"/>
<circle cx="172.5" cy="92.8" r="1.1" stroke="#000000" stroke-width="0.7" fill="none"/>
<circle cx="170.4" cy="94.1" r="1.1" stroke="#000000" stroke-width="0.7" fill="none"/>
<circle cx="168.3" cy="95.3" r="1.1" stroke="#000000" stroke-width="0.7" fill="none"/>
<circle cx="166.3" cy="96.6" r="1.1" stroke="#000000" stroke-width="0.7" fill="none"/>
<circle cx="164.2" cy="97.8" r="1.1" stroke="#000000" stroke-width="0.7" fill="none"/>
<circle cx="162.1" cy="99.1" r="1.1" stroke="#000000" stroke-width="0.7" fill="none"/>
<circle cx="160.0" cy="100.4" r="1.1" stroke="#000000" stroke-width="0.7" fill="none"/>
<circle cx="157.9" cy="101.6" r="1.1" stroke="#000000" stroke-width="0.7" fill="none"/>
<circle cx="155.8" cy="102.9" r="1.1" stroke="#000000" stroke-width="0.7" fill="none"/>
<circle cx="153.8" cy="104.2" r="1.1" stroke="#000000" stroke-width="0.7" fill="none"/>
<circle cx="151.7" cy="105.5" r="1.1" stroke="#000000" stroke-width="0.7" fill="none"/>
<circle cx="149.6" cy="106.8" r="1.1" stroke="#000000" stroke-width="0.7" fill="none"/>
<circle cx="273.8" cy="56.5" r="1.3" fill="#ff4500"/>
<circle cx="271.6" cy="57.0" r="1.3" fill="#ff4500"/>
<circle cx="269.4" cy="57.4" r="1.3" fill="#ff4500"/>
<circle cx="267.2" cy="57.8" r="1.3" fill="#ff4500"/>
<circle cx="265.0" cy="58.3" r="1.3" fill="#ff4500"/>
<circle cx="262.7" cy="58.7" r="1.3" fill="#ff4500"/>
<circle cx="260.5" cy="59.2" r="1.3" fill="#ff4500"/>
<circle cx="258.3" cy="59.6" r="1.3" fill="#ff4500"/>
<circle cx="256.1" cy="60.1" r="1.3" fill="#ff4500"/>
<circle cx="253.9" cy="60.5" r="1.3" fill="#ff4500"/>
<circle cx="251.7" cy="61.0" r="1.3" fill="#ff4500"/>
<circle cx="249.5" cy="61.5" r="1.3" fill="#ff4500"/>
<circle cx="247.3" cy="62.1" r="1.3" fill="#ff4500"/>
<circle cx="245.1" cy="62.6" r="1.3" fill="#ff4500"/>
<circle cx="242.9" cy="63.1" r="1.3" fill="#ff4500"/>
<circle cx="240.7" cy="63.7" r="1.3" fill="#ff4500"/>
<circle cx="238.5" cy="64.3" r="1.3" fill="#ff4500"/>
<circle cx="236.3" cy="64.9" r="1.3" fill="#ff4500"/>
<circle cx="234.1" cy="65.5" r="1.3" fill="#ff4500"/>
<circle cx="231.9" cy="66.2" r="1.3" fill="#ff4500"/>
<circle cx="229.7" cy="66.8" r="1.3" fill="#ff4500"/>
<circle cx="227.5" cy="67.5" r="1.3" fill="#ff4500"/>
<circle cx="225.3" cy="68.1" r="1.3" fill="#ff4500"/>
<circle cx="223.1" cy="68.8" r="1.3" fill="#ff4500"/>
<circle cx="220.9" cy="69.5" r="1.3" fill="#ff4500"/>
<circle cx="218.7" cy="70.2" r="1.3" fill="#ff4500"/>
<circle cx="216.5" cy="71.0" r="1.3" fill="#ff4500"/>
<circle cx="214.3" cy="71.9" r="1.3" fill="#ff4500"/>
<circle cx="212.1" cy="72.7" r="1.3" fill="#ff4500"/>
<circle cx="209.9" cy="73.5" r="1.3" fill="#ff4500"/>
<circle cx="207.7" cy="74.4" r="1.3" fill="#ff4500"/>
<circle cx="205.5" cy="75.3" r="1.3" fill="#ff4500"/>
<circle cx="203.3" cy="76.3" r="1.3" fill="#ff4500"/>
<circle cx="201.1" cy="77.3" r="1.3" fill="#ff4500"/>
<circle cx="198.9" cy="78.3" r="1.3" fill="#ff4500"/>
<circle cx="196.7" cy="79.4" r="1.3" fill="#ff4500"/>
<circle cx="194.4" cy="80.4" r="1.3" fill="#ff4500"/>
<circle cx="192.2" cy="81.6" r="1.3" fill="#ff4500"/>
<circle cx="190.0" cy="82.7" r="1.3" fill="#ff4500"/>
<circle cx="187.8" cy="83.9" r="1.3" fill="#ff4500"/>
<circle cx="185.6" cy="85.1" r="1.3" fill="#ff4500"/>
<circle cx="183.4" cy="86.2" r="1.3" fill="#ff4500"/>
<circle cx="181.2" cy="87.4" r="1.3" fill="#ff4500"/>
<circle cx="179.0" cy="88.8" r="1.3" fill="#ff4500"/>
<circle cx="176.8" cy="90.3" r="1.3" fill="#ff4500"/>
<circle cx="174.6" cy="91.9" r="1.3" fill="#ff4500"/>
<circle cx="172.4" cy="93.4" r="1.3" fill="#ff4500"/>
<circle cx="170.2" cy="94.8" r="1.3" fill="#ff4500"/>
<circle cx="168.0" cy="96.2" r="1.3" fill="#ff4500"/>
<circle cx="165.8" cy="97.6" r="1.3" fill="#ff4500"/>
<circle cx="163.6" cy="98.9" r="1.3" fill="#ff4500"/>
<circle cx="161.4" cy="100.4" r="1.3" fill="#ff4500"/>
<circle cx="159.2" cy="101.7" r="1.3" fill="#ff4500"/>
<circle cx="157.0" cy="103.0" r="1.3" fill="#ff4500"/>
<circle cx="154.8" cy="104.2" r="1.3" fill="#ff4500"/>
<circle cx="152.6" cy="105.5" r="1.3" fill="#ff4500"/>
<circle cx="150.4" cy="106.8" r="1.3" fill="#ff4500"/>
<circle cx="148.2" cy="108.1" r="1.3" fill="#ff4500"/>
<circle cx="146.0" cy="109.4" r="1.3" fill="#ff4500"/>
<circle cx="143.8" cy="110.7" r="1.3" fill="#ff4500"/>
<circle cx="141.6" cy="112.1" r="1.3" fill="#ff4500"/>
<path d="M284.7,48.2L285.8,50.1H283.6Z" stroke="#a0a0a0" stroke-width="0.7" fill="none"/>
<path d="M281.5,49.2L282.6,51.1H280.4Z" stroke="#a0a0a0" stroke-width="0.7" fill="none"/>
<path d="M278.2,50.1L279.3,52.0H277.1Z" stroke="#a0a0a0" stroke-width="0.7" fill="none"/>
<path d="M275.0,51.0L276.1,52.9H273.9Z" stroke="#a0a0a0" stroke-width="0.7" fill="none"/>
<path d="M271.7,51.9L272.8,53.8H270.6Z" stroke="#a0a0a0" stroke-width="0.7" fill="none"/>
<path d="M268.5,52.8L269.6,54.7H267.4Z" stroke="#a0a0a0" stroke-width="0.7" fill="none"/>
<path d="M265.2,53.6L266.3,55.5H264.1Z" stroke="#a0a0a0" stroke-width="0.7" fill="none"/>
<path d="M262.0,54.4L263.1,56.3H260.9Z" stroke="#a0a0a0" stroke-width="0.7" fill="none"/>
<path d="M258.7,55.1L259.8,57.0H257.6Z" stroke="#a0a0a0" stroke-width="0.7" fill="none"/>
<path d="M255.5,55.9L256.6,57.8H254.4Z" stroke="#a0a0a0" stroke-width="0.7" fill="none"/>
<path d="M252.2,56.7L253.3,58.6H251.1Z" stroke="#a0a0a0" stroke-width="0.7" fill="none"/>
<path d="M249.0,57.6L250.1,59.5H247.9Z" stroke="#a0a0a0" stroke-width="0.7" fill="none"/>
<path d="M245.7,58.5L246.8,60.4H244.6Z" stroke="#a0a0a0" stroke-width="0.7" fill="none"/>
<path d="M242.5,59.4L243.6,61.3H241.4Z" stroke="#a0a0a0" stroke-width="0.7" fill="none"/>
<path d="M239.2,60.2L240.3,62.1H238.1Z" stroke="#a0a0a0" stroke-width="0.7" fill="none"/>
<path d="M236.0,61.1L237.1,63.0H234.9Z" stroke="#a0a0a0" stroke-width="0.7" fill="none"/>
<path d="M232.7,62.1L233.8,64.0H231.6Z" stroke="#a0a0a0" stroke-width="0.7" fill="none"/>
<path d="M229.5,63.2L230.6,65.1H228.4Z" stroke="#a0a0a0" stroke-width="0.7" fill="none"/>
<path d="M226.2,64.3L227.3,66.2H225.1Z" stroke="#a0a0a0" stroke-width="0.7" fill="none"/>
<path d="M223.0,65.4L224.1,67.3H221.9Z" stroke="#a0a0a0" stroke-width="0.7" fill="none"/>
<path d="M219.7,66.6L220.8,68.5H218.6Z" stroke="#a0a0a0" stroke-width="0.7" fill="none"/>
<path d="M216.5,67.9L217.6,69.8H215.4Z" stroke="#a0a0a0" stroke-width="0.7" fill="none"/>
<path d="M213.2,69.2L214.3,71.1H212.1Z" stroke="#a0a0a0" stroke-width="0.7" fill="none"/>
<path d="M210.0,70.4L211.1,72.3H208.9Z" stroke="#a0a0a0" stroke-width="0.7" fill="none"/>
<path d="M206.7,71.6L207.8,73.5H205.6Z" stroke="#a0a0a0" stroke-width="0.7" fill="none"/>
<path d="M203.5,72.9L204.6,74.8H202.4Z" stroke="#a0a0a0" stroke-width="0.7" fill="none"/>
<path d="M200.2,74.2L201.3,76.1H199.1Z" stroke="#a0a0a0" stroke-width="0.7" fill="none"/>
<path d="M197.0,75.7L198.1,77.6H195.9Z" stroke="#a0a0a0" stroke-width="0.7" fill="none"/>
<path d="M193.7,77.2L194.8,79.1H192.6Z" stroke="#a0a0a0" stroke-width="0.7" fill="none"/>
<path d="M190.5,79.0L191.6,80.9H189.4Z" stroke="#a0a0a0" stroke-width="0.7" fill="none"/>
<path d="M187.2,80.9L188.3,82.8H186.1Z" stroke="#a0a0a0" stroke-width="0.7" fill="none"/>
<path d="M184.0,82.8L185.1,84.7H182.9Z" stroke="#a0a0a0" stroke-width="0.7" fill="none"/>
<path d="M180.7,84.7L181.8,86.6H179.6Z" stroke="#a0a0a0" stroke-width="0.7" fill="none"/>
<path d="M177.5,86.4L178.6,88.3H176.4Z" stroke="#a0a0a0" stroke-width="0.7" fill="none"/>
<path d="M174.2,88.2L175.3,90.1H173.1Z" stroke="#a0a0a0" stroke-width="0.7" fill="none"/>
<path d="M171.0,90.0L172.1,91.9H169.9Z" stroke="#a0a0a0" stroke-width="0.7" fill="none"/>
<path d="M167.7,91.7L168.8,93.6H166.6Z" stroke="#a0a0a0" stroke-width="0.7" fill="none"/>
<path d="M164.5,93.5L165.6,95.4H163.4Z" stroke="#a0a0a0" stroke-width="0.7" fill="none"/>
<path d="M161.2,95.2L162.3,97.1H160.1Z" stroke="#a0a0a0" stroke-width="0.7" fill="none"/>
<path d="M158.0,97.1L159.1,99.0H156.9Z" stroke="#a0a0a0" stroke-width="0.7" fill="none"/>
<path d="M154.7,99.2L155.8,101.1H153.6Z" stroke="#a0a0a0" stroke-width="0.7" fill="none"/>
<path d="M151.5,101.4L152.6,103.3H150.4Z" stroke="#a0a0a0" stroke-width="0.7" fill="none"/>
<path d="M148.2,103.5L149.3,105.4H147.1Z" stroke="#a0a0a0" stroke-width="0.7" fill="none"/>
<path d="M145.0,105.6L146.1,107.5H143.9Z" stroke="#a0a0a0" stroke-width="0.7" fill="none"/>
<path d="M141.7,108.0L142.8,109.9H140.6Z" stroke="#a0a0a0" stroke-width="0.7" fill="none"/>
<path d="M138.5,110.3L139.6,112.2H137.4Z" stroke="#a0a0a0" stroke-width="0.7" fill="none"/>
<path d="M135.2,112.4L136.3,114.3H134.1Z" stroke="#a0a0a0" stroke-width="0.7" fill="none"/>
<path d="M132.0,114.4L133.1,116.3H130.9Z" stroke="#a0a0a0" stroke-width="0.7" fill="none"/>
<path d="M128.7,116.5L129.8,118.4H127.6Z" stroke="#a0a0a0" stroke-width="0.7" fill="none"/>
<path d="M125.5,118.6L126.6,120.5H124.4Z" stroke="#a0a0a0" stroke-width="0.7" fill="none"/>
<path d="M122.2,120.8L123.3,122.7H121.1Z" stroke="#a0a0a0" stroke-width="0.7" fill="none"/>
<path d="M119.0,123.1L120.1,125.0H117.9Z" stroke="#a0a0a0" stroke-width="0.7" fill="none"/>
<path d="M115.7,125.3L116.8,127.2H114.6Z" stroke="#a0a0a0" stroke-width="0.7" fill="none"/>
<path d="M112.5,127.3L113.6,129.2H111.4Z" stroke="#a0a0a0" stroke-width="0.7" fill="none"/>
<path d="M283.6,53.5L284.9,55.7H282.3Z" fill="#ff0000"/>
<path d="M280.0,54.2L281.3,56.4H278.7Z" fill="#ff0000"/>
<path d="M276.4,54.9L277.7,57.1H275.1Z" fill="#ff0000"/>
<path d="M272.7,55.6L274.0,57.8H271.4Z" fill="#ff0000"/>
<path d="M269.1,56.3L270.4,58.5H267.8Z" fill="#ff0000"/>
<path d="M265.5,57.0L266.8,59.2H264.2Z" fill="#ff0000"/>
<path d="M261.9,57.7L263.2,59.9H260.6Z" fill="#ff0000"/>
<path d="M258.3,58.5L259.6,60.7H257.0Z" fill="#ff0000"/>
<path d="M254.7,59.4L256.0,61.6H253.4Z" fill="#ff0000"/>
<path d="M251.1,60.3L252.4,62.5H249.8Z" fill="#ff0000"/>
<path d="M247.5,61.2L248.8,63.4H246.2Z" fill="#ff0000"/>
<path d="M243.9,62.0L245.2,64.2H242.6Z" fill="#ff0000"/>
<path d="M240.2,62.9L241.5,65.1H238.9Z" fill="#ff0000"/>
<path d="M236.6,63.8L237.9,66.0H235.3Z" fill="#ff0000"/>
<path d="M233.0,64.8L234.3,67.0H231.7Z" fill="#ff0000"/>
<path d="M229.4,65.8L230.7,68.0H228.1Z" fill="#ff0000"/>
<path d="M225.8,66.9L227.1,69.1H224.5Z" fill="#ff0000"/>
<path d="M222.2,68.1L223.5,70.3H220.9Z" fill="#ff0000"/>
<path d="M218.6,69.4L219.9,71.6H217.3Z" fill="#ff0000"/>
<path d="M215.0,70.8L216.3,73.0H213.7Z" fill="#ff0000"/>
<path d="M211.4,72.2L212.7,74.4H210.1Z" fill="#ff0000"/>
<path d="M207.8,73.7L209.1,75.9H206.5Z" fill="#ff0000"/>
<path d="M204.1,75.3L205.4,77.5H202.8Z" fill="#ff0000"/>
<path d="M200.5,76.9L201.8,79.1H199.2Z" fill="#ff0000"/>
<path d="M196.9,78.7L198.2,80.9H195.6Z" fill="#ff0000"/>
<path d="M193.3,80.6L194.6,82.8H192.0Z" fill="#ff0000"/>
<path d="M189.7,82.6L191.0,84.8H188.4Z" fill="#ff0000"/>
<path d="M186.1,84.6L187.4,86.8H184.8Z" fill="#ff0000"/>
<path d="M182.5,86.7L183.8,88.9H181.2Z" fill="#ff0000"/>
<path d="M178.9,89.1L180.2,91.3H177.6Z" fill="#ff0000"/>
<path d="M175.3,91.6L176.6,93.8H174.0Z" fill="#ff0000"/>
<path d="M171.7,94.3L173.0,96.5H170.4Z" fill="#ff0000"/>
<path d="M168.0,97.4L169.3,99.6H166.7Z" fill="#ff0000"/>
<path d="M164.4,100.7L165.7,102.9H163.1Z" fill="#ff0000"/>
<path d="M160.8,104.1L162.1,106.3H159.5Z" fill="#ff0000"/>
<path d="M157.2,107.9L158.5,110.1H155.9Z" fill="#ff0000"/>
<path d="M153.6,112.3L154.9,114.5H152.3Z" fill="#ff0000"/>
<path d="M150.0,116.5L151.3,118.7H148.7Z" fill="#ff0000"/>
<path d="M146.4,121.1L147.7,123.3H145.1Z" fill="#ff0000"/>
<path d="M142.8,125.8L144.1,128.0H141.5Z" fill="#ff0000"/>
<path d="M139.2,130.7L140.5,132.9H137.9Z" fill="#ff0000"/>
<path d="M135.5,136.5L136.8,138.7H134.2Z" fill="#ff0000"/>
<path d="M131.9,142.1L133.2,144.3H130.6Z" fill="#ff0000"/>
<path d="M128.3,148.4L129.6,150.6H127.0Z" fill="#ff0000"/>
<path d="M238.9,59.9L239.9,58.1H237.9Z" stroke="#00ff00" stroke-width="0.6" fill="none"/>
<path d="M237.7,60.2L238.7,58.4H236.7Z" stroke="#00ff00" stroke-width="0.6" fill="none"/>
<path d="M236.5,60.6L237.5,58.8H235.5Z" stroke="#00ff00" stroke-width="0.6" fill="none"/>
<path d="M235.3,61.0L236.3,59.2H234.3Z" stroke="#00ff00" stroke-width="0.6" fill="none"/>
<path d="M234.2,61.3L235.2,59.5H233.2Z" stroke="#00ff00" stroke-width="0.6" fill="none"/>
<path d="M233.0,61.7L234.0,59.9H232.0Z" stroke="#00ff00" stroke-width="0.6" fill="none"/>
<path d="M231.8,62.2L232.8,60.4H230.8Z" stroke="#00ff00" stroke-width="0.6" fill="none"/>
<path d="M230.6,62.6L231.6,60.8H229.6Z" stroke="#00ff00" stroke-width="0.6" fill="none"/>
<path d="M229.4,63.1L230.4,61.3H228.4Z" stroke="#00ff00" stroke-width="0.6" fill="none"/>
<path d="M228.2,63.6L229.2,61.8H227.2Z" stroke="#00ff00" stroke-width="0.6" fill="none"/>
<path d="M227.0,64.0L228.0,62.2H226.0Z" stroke="#00ff00" stroke-width="0.6" fill="none"/>
<path d="M225.9,64.5L226.9,62.7H224.9Z" stroke="#00ff00" stroke-width="0.6" fill="none"/>
<path d="M224.7,64.9L225.7,63.1H223.7Z" stroke="#00ff00" stroke-width="0.6" fill="none"/>
<path d="M223.5,65.4L224.5,63.6H222.5Z" stroke="#00ff00" stroke-width="0.6" fill="none"/>
<path d="M222.3,65.9L223.3,64.1H221.3Z" stroke="#00ff00" stroke-width="0.6" fill="none"/>
<path d="M221.1,66.4L222.1,64.6H220.1Z" stroke="#00ff00" stroke-width="0.6" fill="none"/>
<path d="M219.9,66.9L220.9,65.1H218.9Z" stroke="#00ff00" stroke-width="0.6" fill="none"/>
<path d="M218.8,67.4L219.8,65.6H217.8Z" stroke="#00ff00" stroke-width="0.6" fill="none"/>
<path d="M217.6,68.0L218.6,66.2H216.6Z" stroke="#00ff00" stroke-width="0.6" fill="none"/>
<path d="M216.4,68.5L217.4,66.7H215.4Z" stroke="#00ff00" stroke-width="0.6" fill="none"/>
<path d="M215.2,69.0L216.2,67.2H214.2Z" stroke="#00ff00" stroke-width="0.6" fill="none"/>
<path d="M214.0,69.5L215.0,67.7H213.0Z" stroke="#00ff00" stroke-width="0.6" fill="none"/>
<path d="M212.8,70.1L213.8,68.3H211.8Z" stroke="#00ff00" stroke-width="0.6" fill="none"/>
<path d="M211.6,70.6L212.6,68.8H210.6Z" stroke="#00ff00" stroke-width="0.6" fill="none"/>
<path d="M210.5,71.1L211.5,69.3H209.5Z" stroke="#00ff00" stroke-width="0.6" fill="none"/>
<path d="M209.3,71.6L210.3,69.8H208.3Z" stroke="#00ff00" stroke-width="0.6" fill="none"/>
<path d="M208.1,72.1L209.1,70.3H207.1Z" stroke="#00ff00" stroke-width="0.6" fill="none"/>
<path d="M206.9,72.7L207.9,70.9H205.9Z" stroke="#00ff00" stroke-width="0.6" fill="none"/>
<path d="M205.7,73.2L206.7,71.4H204.7Z" stroke="#00ff00" stroke-width="0.6" fill="none"/>
<path d="M204.5,73.8L205.5,72.0H203.5Z" stroke="#00ff00" stroke-width="0.6" fill="none"/>
<path d="M203.4,74.3L204.4,72.5H202.4Z" stroke="#00ff00" stroke-width="0.6" fill="none"/>
<path d="M202.2,74.9L203.2,73.1H201.2Z" stroke="#00ff00" stroke-width="0.6" fill="none"/>
<path d="M201.0,75.4L202.0,73.6H200.0Z" stroke="#00ff00" stroke-width="0.6" fill="none"/>
<path d="M199.8,76.0L200.8,74.2H198.8Z" stroke="#00ff00" stroke-width="0.6" fill="none"/>
<path d="M198.6,76.5L199.6,74.7H197.6Z" stroke="#00ff00" stroke-width="0.6" fill="none"/>
<path d="M197.4,77.1L198.4,75.3H196.4Z" stroke="#00ff00" stroke-width="0.6" fill="none"/>
<path d="M196.3,77.7L197.3,75.9H195.3Z" stroke="#00ff00" stroke-width="0.6" fill="none"/>
<path d="M195.1,78.2L196.1,76.4H194.1Z" stroke="#00ff00" stroke-width="0.6" fill="none"/>
<path d="M193.9,78.8L194.9,77.0H192.9Z" stroke="#00ff00" stroke-width="0.6" fill="none"/>
<path d="M192.7,79.4L193.7,77.6H191.7Z" stroke="#00ff00" stroke-width="0.6" fill="none"/>
<path d="M191.5,80.0L192.5,78.2H190.5Z" stroke="#00ff00" stroke-width="0.6" fill="none"/>
<path d="M190.3,80.5L191.3,78.7H189.3Z" stroke="#00ff00" stroke-width="0.6" fill="none"/>
<path d="M189.1,81.1L190.1,79.3H188.1Z" stroke="#00ff00" stroke-width="0.6" fill="none"/>
<path d="M188.0,81.7L189.0,79.9H187.0Z" stroke="#00ff00" stroke-width="0.6" fill="none"/>
<path d="M186.8,82.3L187.8,80.5H185.8Z" stroke="#00ff00" stroke-width="0.6" fill="none"/>
<path d="M185.6,82.9L186.6,81.1H184.6Z" stroke="#00ff00" stroke-width="0.6" fill="none"/>
<path d="M184.4,83.4L185.4,81.6H183.4Z" stroke="#00ff00" stroke-width="0.6" fill="none"/>
<path d="M183.2,84.0L184.2,82.2H182.2Z" stroke="#00ff00" stroke-width="0.6" fill="none"/>
<path d="M182.0,84.6L183.0,82.8H181.0Z" stroke="#00ff00" stroke-width="0.6" fill="none"/>
<path d="M180.9,85.2L181.9,83.4H179.9Z" stroke="#00ff00" stroke-width="0.6" fill="none"/>
<path d="M179.7,85.8L180.7,84.0H178.7Z" stroke="#00ff00" stroke-width="0.6" fill="none"/>
<path d="M178.5,86.4L179.5,84.6H177.5Z" stroke="#00ff00" stroke-width="0.6" fill="none"/>
<path d="M177.3,87.0L178.3,85.2H176.3Z" stroke="#00ff00" stroke-width="0.6" fill="none"/>
<path d="M176.1,87.6L177.1,85.8H175.1Z" stroke="#00ff00" stroke-width="0.6" fill="none"/>
<path d="M174.9,88.2L175.9,86.4H173.9Z" stroke="#00ff00" stroke-width="0.6" fill="none"/>
<path d="M173.7,88.8L174.7,87.0H172.7Z" stroke="#00ff00" stroke-width="0.6" fill="none"/>
<path d="M172.6,89.4L173.6,87.6H171.6Z" stroke="#00ff00" stroke-width="0.6" fill="none"/>
<path d="M171.4,90.1L172.4,88.3H170.4Z" stroke="#00ff00" stroke-width="0.6" fill="none"/>
<path d="M170.2,90.7L171.2,88.9H169.2Z" stroke="#00ff00" stroke-width="0.6" fill="none"/>
<path d="M169.0,91.3L170.0,89.5H168.0Z" stroke="#00ff00" stroke-width="0.6" fill="none"/>
<path d="M167.8,91.9L168.8,90.1H166.8Z" stroke="#00ff00" stroke-width="0.6" fill="none"/>
<path d="M241.3,58.6L242.6,56.4H240.0Z" fill="#0000ff"/>
<path d="M239.9,59.1L241.2,56.9H238.6Z" fill="#0000ff"/>
<path d="M238.6,59.5L239.9,57.3H237.3Z" fill="#0000ff"/>
<path d="M237.3,60.0L238.6,57.8H236.0Z" fill="#0000ff"/>
<path d="M236.0,60.5L237.3,58.3H234.7Z" fill="#0000ff"/>
<path d="M234.7,60.9L236.0,58.7H233.4Z" fill="#0000ff"/>
<path d="M233.4,61.4L234.7,59.2H232.1Z" fill="#0000ff"/>
<path d="M232.1,61.8L233.4,59.6H230.8Z" fill="#0000ff"/>
<path d="M230.8,62.3L232.1,60.1H229.5Z" fill="#0000ff"/>
<path d="M229.4,62.7L230.7,60.5H228.1Z" fill="#0000ff"/>
<path d="M228.1,63.2L229.4,61.0H226.8Z" fill="#0000ff"/>
<path d="M226.8,63.7L228.1,61.5H225.5Z" fill="#0000ff"/>
<path d="M225.5,64.3L226.8,62.1H224.2Z" fill="#0000ff"/>
<path d="M224.2,64.8L225.5,62.6H222.9Z" fill="#0000ff"/>
<path d="M222.9,65.3L224.2,63.1H221.6Z" fill="#0000ff"/>
<path d="M221.6,65.8L222.9,63.6H220.3Z" fill="#0000ff"/>
<path d="M220.3,66.2L221.6,64.0H219.0Z" fill="#0000ff"/>
<path d="M218.9,66.7L220.2,64.5H217.6Z" fill="#0000ff"/>
<path d="M217.6,67.2L218.9,65.0H216.3Z" fill="#0000ff"/>
<path d="M216.3,67.7L217.6,65.5H215.0Z" fill="#0000ff"/>
<path d="M215.0,68.3L216.3,66.1H213.7Z" fill="#0000ff"/>
<path d="M213.7,68.9L215.0,66.7H212.4Z" fill="#0000ff"/>
<path d="M212.4,69.4L213.7,67.2H211.1Z" fill="#0000ff"/>
<path d="M211.1,70.0L212.4,67.8H209.8Z" fill="#0000ff"/>
<path d="M209.8,70.6L211.1,68.4H208.5Z" fill="#0000ff"/>
<path d="M208.5,71.2L209.8,69.0H207.2Z" fill="#0000ff"/>
<path d="M207.1,71.8L208.4,69.6H205.8Z" fill="#0000ff"/>
<path d="M205.8,72.4L207.1,70.2H204.5Z" fill="#0000ff"/>
<path d="M204.5,73.0L205.8,70.8H203.2Z" fill="#0000ff"/>
<path d="M203.2,73.6L204.5,71.4H201.9Z" fill="#0000ff"/>
<path d="M201.9,74.2L203.2,72.0H200.6Z" fill="#0000ff"/>
<path d="M200.6,74.8L201.9,72.6H199.3Z" fill="#0000ff"/>
<path d="M199.3,75.4L200.6,73.2H198.0Z" fill="#0000ff"/>
<path d="M198.0,76.0L199.3,73.8H196.7Z" fill="#0000ff"/>
<path d="M196.6,76.6L197.9,74.4H195.3Z" fill="#0000ff"/>
<path d="M195.3,77.3L196.6,75.1H194.0Z" fill="#0000ff"/>
<path d="M194.0,77.9L195.3,75.7H192.7Z" fill="#0000ff"/>
<path d="M192.7,78.5L194.0,76.3H191.4Z" fill="#0000ff"/>
<path d="M191.4,79.2L192.7,77.0H190.1Z" fill="#0000ff"/>
<path d="M190.1,79.8L191.4,77.6H188.8Z" fill="#0000ff"/>
<path d="M188.8,80.5L190.1,78.3H187.5Z" fill="#0000ff"/>
<path d="M187.5,81.1L188.8,78.9H186.2Z" fill="#0000ff"/>
<path d="M186.1,81.8L187.4,79.6H184.8Z" fill="#0000ff"/>
<path d="M184.8,82.4L186.1,80.2H183.5Z" fill="#0000ff"/>
<path d="M183.5,83.1L184.8,80.9H182.2Z" fill="#0000ff"/>
<path d="M182.2,83.7L183.5,81.5H180.9Z" fill="#0000ff"/>
<path d="M180.9,84.4L182.2,82.2H179.6Z" fill="#0000ff"/>
<path d="M179.6,85.1L180.9,82.9H178.3Z" fill="#0000ff"/>
<path d="M178.3,85.7L179.6,83.5H177.0Z" fill="#0000ff"/>
<path d="M177.0,86.4L178.3,84.2H175.7Z" fill="#0000ff"/>
<path d="M175.6,87.1L176.9,84.9H174.3Z" fill="#0000ff"/>
<path d="M174.3,87.8L175.6,85.6H173.0Z" fill="#0000ff"/>
<path d="M173.0,88.5L174.3,86.3H171.7Z" fill="#0000ff"/>
<path d="M171.7,89.2L173.0,87.0H170.4Z" fill="#0000ff"/>
<path d="M170.4,89.9L171.7,87.7H169.1Z" fill="#0000ff"/>
<path d="M169.1,90.6L170.4,88.4H167.8Z" fill="#0000ff"/>
<path d="M167.8,91.3L169.1,89.1H166.5Z" fill="#0000ff"/>
<path d="M166.5,92.0L167.8,89.8H165.2Z" fill="#0000ff"/>
<path d="M165.1,92.7L166.4,90.5H163.8Z" fill="#0000ff"/>
<path d="M163.8,93.4L165.1,91.2H162.5Z" fill="#0000ff"/>
<path d="M162.5,94.1L163.8,91.9H161.2Z" fill="#0000ff"/>
<path d="M227.0,59.9L228.2,61.1L227.0,62.3L225.8,61.1Z" stroke="#ff00ff" stroke-width="0.7" fill="none"/>
<path d="M225.8,60.4L227.0,61.6L225.8,62.8L224.6,61.6Z" stroke="#ff00ff" stroke-width="0.7" fill="none"/>
<path d="M224.7,60.9L225.9,62.1L224.7,63.3L223.5,62.1Z" stroke="#ff00ff" stroke-width="0.7" fill="none"/>
<path d="M223.5,61.4L224.7,62.6L223.5,63.8L222.3,62.6Z" stroke="#ff00ff" stroke-width="0.7" fill="none"/>
<path d="M222.4,61.9L223.6,63.1L222.4,64.3L221.2,63.1Z" stroke="#ff00ff" stroke-width="0.7" fill="none"/>
<path d="M221.2,62.4L222.4,63.6L221.2,64.8L220.0,63.6Z" stroke="#ff00ff" stroke-width="0.7" fill="none"/>
<path d="M220.0,62.9L221.2,64.1L220.0,65.3L218.8,64.1Z" stroke="#ff00ff" stroke-width="0.7" fill="none"/>
<path d="M218.9,63.5L220.1,64.7L218.9,65.9L217.7,64.7Z" stroke="#ff00ff" stroke-width="0.7" fill="none"/>
<path d="M217.7,64.0L218.9,65.2L217.7,66.4L216.5,65.2Z" stroke="#ff00ff" stroke-width="0.7" fill="none"/>
<path d="M216.6,64.6L217.8,65.8L216.6,67.0L215.4,65.8Z" stroke="#ff00ff" stroke-width="0.7" fill="none"/>
<path d="M215.4,65.1L216.6,66.3L215.4,67.5L214.2,66.3Z" stroke="#ff00ff" stroke-width="0.7" fill="none"/>
<path d="M214.2,65.6L215.4,66.8L214.2,68.0L213.0,66.8Z" stroke="#ff00ff" stroke-width="0.7" fill="none"/>
<path d="M213.1,66.2L214.3,67.4L213.1,68.6L211.9,67.4Z" stroke="#ff00ff" stroke-width="0.7" fill="none"/>
<path d="M211.9,66.7L213.1,67.9L211.9,69.1L210.7,67.9Z" stroke="#ff00ff" stroke-width="0.7" fill="none"/>
<path d="M210.7,67.3L211.9,68.5L210.7,69.7L209.5,68.5Z" stroke="#ff00ff" stroke-width="0.7" fill="none"/>
<path d="M209.6,67.8L210.8,69.0L209.6,70.2L208.4,69.0Z" stroke="#ff00ff" stroke-width="0.7" fill="none"/>
<path d="M208.4,68.4L209.6,69.6L208.4,70.8L207.2,69.6Z" stroke="#ff00ff" stroke-width="0.7" fill="none"/>
<path d="M207.3,68.9L208.5,70.1L207.3,71.3L206.1,70.1Z" stroke="#ff00ff" stroke-width="0.7" fill="none"/>
<path d="M206.1,69.5L207.3,70.7L206.1,71.9L204.9,70.7Z" stroke="#ff00ff" stroke-width="0.7" fill="none"/>
<path d="M204.9,70.1L206.1,71.3L204.9,72.5L203.7,71.3Z" stroke="#ff00ff" stroke-width="0.7" fill="none"/>
<path d="M203.8,70.6L205.0,71.8L203.8,73.0L202.6,71.8Z" stroke="#ff00ff" stroke-width="0.7" fill="none"/>
<path d="M202.6,71.2L203.8,72.4L202.6,73.6L201.4,72.4Z" stroke="#ff00ff" stroke-width="0.7" fill="none"/>
<path d="M201.5,71.8L202.7,73.0L201.5,74.2L200.3,73.0Z" stroke="#ff00ff" stroke-width="0.7" fill="none"/>
<path d="M200.3,72.3L201.5,73.5L200.3,74.7L199.1,73.5Z" stroke="#ff00ff" stroke-width="0.7" fill="none"/>
<path d="M199.1,72.9L200.3,74.1L199.1,75.3L197.9,74.1Z" stroke="#ff00ff" stroke-width="0.7" fill="none"/>
<path d="M198.0,73.5L199.2,74.7L198.0,75.9L196.8,74.7Z" stroke="#ff00ff" stroke-width="0.7" fill="none"/>
<path d="M196.8,74.0L198.0,75.2L196.8,76.4L195.6,75.2Z" stroke="#ff00ff" stroke-width="0.7" fill="none"/>
<path d="M195.7,74.6L196.9,75.8L195.7,77.0L194.5,75.8Z" stroke="#ff00ff" stroke-width="0.7" fill="none"/>
<path d="M194.5,75.2L195.7,76.4L194.5,77.6L193.3,76.4Z" stroke="#ff00ff" stroke-width="0.7" fill="none"/>
<path d="M193.3,75.7L194.5,76.9L193.3,78.1L192.1,76.9Z" stroke="#ff00ff" stroke-width="0.7" fill="none"/>
<path d="M192.2,76.3L193.4,77.5L192.2,78.7L191.0,77.5Z" stroke="#ff00ff" stroke-width="0.7" fill="none"/>
<path d="M191.0,76.9L192.2,78.1L191.0,79.3L189.8,78.1Z" stroke="#ff00ff" stroke-width="0.7" fill="none"/>
<path d="M189.9,77.5L191.1,78.7L189.9,79.9L188.7,78.7Z" stroke="#ff00ff" stroke-width="0.7" fill="none"/>
<path d="M188.7,78.1L189.9,79.3L188.7,80.5L187.5,79.3Z" stroke="#ff00ff" stroke-width="0.7" fill="none"/>
<path d="M187.5,78.7L188.7,79.9L187.5,81.1L186.3,79.9Z" stroke="#ff00ff" stroke-width="0.7" fill="none"/>
<path d="M186.4,79.2L187.6,80.4L186.4,81.6L185.2,80.4Z" stroke="#ff00ff" stroke-width="0.7" fill="none"/>
<path d="M185.2,79.8L186.4,81.0L185.2,82.2L184.0,81.0Z" stroke="#ff00ff" stroke-width="0.7" fill="none"/>
<path d="M184.0,80.4L185.2,81.6L184.0,82.8L182.8,81.6Z" stroke="#ff00ff" stroke-width="0.7" fill="none"/>
<path d="M182.9,81.0L184.1,82.2L182.9,83.4L181.7,82.2Z" stroke="#ff00ff" stroke-width="0.7" fill="none"/>
<path d="M181.7,81.6L182.9,82.8L181.7,84.0L180.5,82.8Z" stroke="#ff00ff" stroke-width="0.7" fill="none"/>
<path d="M180.6,82.2L181.8,83.4L180.6,84.6L179.4,83.4Z" stroke="#ff00ff" stroke-width="0.7" fill="none"/>
<path d="M179.4,82.8L180.6,84.0L179.4,85.2L178.2,84.0Z" stroke="#ff00ff" stroke-width="0.7" fill="none"/>
<path d="M178.2,83.4L179.4,84.6L178.2,85.8L177.0,84.6Z" stroke="#ff00ff" stroke-width="0.7" fill="none"/>
<path d="M177.1,84.0L178.3,85.2L177.1,86.4L175.9,85.2Z" stroke="#ff00ff" stroke-width="0.7" fill="none"/>
<path d="M175.9,84.6L177.1,85.8L175.9,87.0L174.7,85.8Z" stroke="#ff00ff" stroke-width="0.7" fill="none"/>
<path d="M174.8,85.2L176.0,86.4L174.8,87.6L173.6,86.4Z" stroke="#ff00ff" stroke-width="0.7" fill="none"/>
<path d="M173.6,85.8L174.8,87.0L173.6,88.2L172.4,87.0Z" stroke="#ff00ff" stroke-width="0.7" fill="none"/>
<path d="M172.4,86.4L173.6,87.6L172.4,88.8L171.2,87.6Z" stroke="#ff00ff" stroke-width="0.7" fill="none"/>
<path d="M171.3,87.0L172.5,88.2L171.3,89.4L170.1,88.2Z" stroke="#ff00ff" stroke-width="0.7" fill="none"/>
<path d="M170.1,87.7L171.3,88.9L170.1,90.1L168.9,88.9Z" stroke="#ff00ff" stroke-width="0.7" fill="none"/>
<path d="M169.0,88.3L170.2,89.5L169.0,90.7L167.8,89.5Z" stroke="#ff00ff" stroke-width="0.7" fill="none"/>
<path d="M167.8,88.9L169.0,90.1L167.8,91.3L166.6,90.1Z" stroke="#ff00ff" stroke-width="0.7" fill="none"/>
<path d="M166.6,89.5L167.8,90.7L166.6,91.9L165.4,90.7Z" stroke="#ff00ff" stroke-width="0.7" fill="none"/>
<path d="M165.5,90.2L166.7,91.4L165.5,92.6L164.3,91.4Z" stroke="#ff00ff" stroke-width="0.7" fill="none"/>
<path d="M164.3,90.8L165.5,92.0L164.3,93.2L163.1,92.0Z" stroke="#ff00ff" stroke-width="0.7" fill="none"/>
<path d="M163.2,91.4L164.4,92.6L163.2,93.8L162.0,92.6Z" stroke="#ff00ff" stroke-width="0.7" fill="none"/>
<path d="M162.0,92.1L163.2,93.3L162.0,94.5L160.8,93.3Z" stroke="#ff00ff" stroke-width="0.7" fill="none"/>
<path d="M160.8,92.7L162.0,93.9L160.8,95.1L159.6,93.9Z" stroke="#ff00ff" stroke-width="0.7" fill="none"/>
<path d="M159.7,93.3L160.9,94.5L159.7,95.7L158.5,94.5Z" stroke="#ff00ff" stroke-width="0.7" fill="none"/>
<path d="M158.5,94.0L159.7,95.2L158.5,96.4L157.3,95.2Z" stroke="#ff00ff" stroke-width="0.7" fill="none"/>
<path d="M157.4,94.6L158.6,95.8L157.4,97.0L156.2,95.8Z" stroke="#ff00ff" stroke-width="0.7" fill="none"/>
<polyline points="256.5,52.7 254.7,53.3 252.9,53.9 251.2,54.5 249.4,55.1 247.6,55.7 245.8,56.3 244.1,57.0 242.3,57.6 240.5,58.2 238.7,58.9 237.0,59.5 235.2,60.2 233.4,60.8 231.6,61.5 229.8,62.1 228.1,62.8 226.3,63.4 224.5,64.1 222.7,64.8 221.0,65.5 219.2,66.3 217.4,67.1 215.6,67.9 213.9,68.7 212.1,69.4 210.3,70.2 208.5,71.0 206.7,71.7 205.0,72.5 203.2,73.3 201.4,74.1 199.6,74.9 197.9,75.8 196.1,76.6 194.3,77.4 192.5,78.3 190.8,79.1 189.0,80.0 187.2,80.8 185.4,81.7 183.7,82.6 181.9,83.4 180.1,84.3 178.3,85.2 176.5,86.1 174.8,87.1 173.0,88.0 171.2,88.9 169.4,89.8 167.7,90.8 165.9,91.7 164.1,92.6 162.3,93.6 160.6,94.6 158.8,95.5 157.0,96.5 155.2,97.5 153.4,98.4 151.7,99.4 149.9,100.4" stroke="#ff0000" stroke-width="5.4" fill="none"/>
<polyline points="85.9,143.2 88.3,141.4 90.6,139.5 93.0,137.7 95.4,135.9 97.7,134.1 100.1,132.4 102.5,130.6 104.9,128.9 107.2,127.2 109.6,125.5 112.0,123.8 114.3,122.2 116.7,120.6 119.1,119.0 121.4,117.4 123.8,115.8 126.2,114.2 128.5,112.7 130.9,111.2 133.3,109.7 135.7,108.2 138.0,106.7 140.4,105.2 142.8,103.8 145.1,102.4 147.5,101.0 149.9,99.6 152.2,98.2 154.6,96.8 157.0,95.4 159.3,94.1 161.7,92.8 164.1,91.4 166.4,90.1 168.8,88.8 171.2,87.6 173.6,86.3 175.9,85.0 178.3,83.8 180.7,82.5 183.0,81.3 185.4,80.1 187.8,78.9 190.1,77.6 192.5,76.4 194.9,75.3 197.2,74.1 199.6,72.9 202.0,71.7 204.4,70.6 206.7,69.4 209.1,68.2 211.5,67.1 213.8,66.0 216.2,64.8 218.6,63.7 220.9,62.6 223.3,61.4 225.7,60.3 228.0,59.2 230.4,58.1 232.8,56.9 235.1,55.8 237.5,54.7 239.9,53.6 242.3,52.5 244.6,51.3 247.0,50.2 249.4,49.1 251.7,48.0 254.1,46.9 256.5,45.7 258.8,44.6 261.2,43.5 263.6,42.4 265.9,41.2 268.3,40.1 270.7,38.9 273.1,37.8 275.4,36.6 277.8,35.5 280.2,34.3 282.5,33.1 284.9,32.0" stroke="#000" fill="none" stroke-width="1.25"/>
</g>
<path d="M32.2,11.6H483.5V320.6H32.2ZM42.9,320.6v-4M42.9,11.6v4M96.6,320.6v-4M96.6,11.6v4M150.3,320.6v-4M150.3,11.6v4M204.1,320.6v-4M204.1,11.6v4M257.8,320.6v-4M257.8,11.6v4M311.4,320.6v-4M311.4,11.6v4M365.1,320.6v-4M365.1,11.6v4M418.9,320.6v-4M418.9,11.6v4M472.6,320.6v-4M472.6,11.6v4M32.2,314.5h4M483.5,314.5h-4M32.2,253.9h4M483.5,253.9h-4M32.2,193.3h4M483.5,193.3h-4M32.2,132.7h4M483.5,132.7h-4M32.2,72.1h4M483.5,72.1h-4M32.2,11.5h4M483.5,11.5h-4M85.8,18.5H285.0V155.4H85.8ZM90.6,155.4v-4M90.6,18.5v4M114.3,155.4v-4M114.3,18.5v4M138.0,155.4v-4M138.0,18.5v4M161.7,155.4v-4M161.7,18.5v4M185.4,155.4v-4M185.4,18.5v4M209.1,155.4v-4M209.1,18.5v4M232.8,155.4v-4M232.8,18.5v4M256.5,155.4v-4M256.5,18.5v4M280.2,155.4v-4M280.2,18.5v4M85.8,155.4h4M285.0,155.4h-4M85.8,147.2h2M285.0,147.2h-2M85.8,136.3h2M285.0,136.3h-2M85.8,128.0h4M285.0,128.0h-4M85.8,119.8h2M285.0,119.8h-2M85.8,108.9h2M285.0,108.9h-2M85.8,100.6h4M285.0,100.6h-4M85.8,92.4h2M285.0,92.4h-2M85.8,81.5h2M285.0,81.5h-2M85.8,73.3h4M285.0,73.3h-4M85.8,65.0h2M285.0,65.0h-2M85.8,54.1h2M285.0,54.1h-2M85.8,45.9h4M285.0,45.9h-4M85.8,37.6h2M285.0,37.6h-2M85.8,26.7h2M285.0,26.7h-2M85.8,18.5h4M285.0,18.5h-4M85.8,21.4h3.2M285.0,21.4h-3.2" stroke="#000" stroke-opacity="0.75" fill="none" stroke-width="1"/>
<text x="37.9" y="334.0" fill="#000" textLength="8.6" lengthAdjust="spacingAndGlyphs" >-2</text>
<text x="85.6" y="168.4" fill="#000" textLength="8.6" lengthAdjust="spacingAndGlyphs" >-2</text>
<text x="87.6" y="334.0" fill="#000" textLength="16.7" lengthAdjust="spacingAndGlyphs" >-1.5</text>
<text x="105.3" y="168.4" fill="#000" textLength="16.7" lengthAdjust="spacingAndGlyphs" >-1.5</text>
<text x="145.3" y="334.0" fill="#000" textLength="8.6" lengthAdjust="spacingAndGlyphs" >-1</text>
<text x="133.0" y="168.4" fill="#000" textLength="8.6" lengthAdjust="spacingAndGlyphs" >-1</text>
<text x="195.1" y="334.0" fill="#000" textLength="16.7" lengthAdjust="spacingAndGlyphs" >-0.5</text>
<text x="152.7" y="168.4" fill="#000" textLength="16.7" lengthAdjust="spacingAndGlyphs" >-0.5</text>
<text x="254.4" y="334.0" fill="#000"  >0</text>
<text x="182.0" y="168.4" fill="#000"  >0</text>
<text x="304.0" y="334.0" fill="#000" textLength="13.5" lengthAdjust="spacingAndGlyphs" >0.5</text>
<text x="201.7" y="168.4" fill="#000" textLength="13.5" lengthAdjust="spacingAndGlyphs" >0.5</text>
<text x="361.7" y="334.0" fill="#000"  >1</text>
<text x="229.4" y="168.4" fill="#000"  >1</text>
<text x="411.5" y="334.0" fill="#000" textLength="13.5" lengthAdjust="spacingAndGlyphs" >1.5</text>
<text x="249.1" y="168.4" fill="#000" textLength="13.5" lengthAdjust="spacingAndGlyphs" >1.5</text>
<text x="469.2" y="334.0" fill="#000"  >2</text>
<text x="276.8" y="168.4" fill="#000"  >2</text>
<text x="20.9" y="318.0" fill="#000"  >0</text>
<text x="20.9" y="257.4" fill="#000"  >1</text>
<text x="20.9" y="196.8" fill="#000"  >2</text>
<text x="20.9" y="136.2" fill="#000"  >3</text>
<text x="20.9" y="75.6" fill="#000"  >4</text>
<text x="20.9" y="15.0" fill="#000"  >5</text>
<text x="55.6" y="158.5" fill="#000" textLength="24.2" lengthAdjust="spacingAndGlyphs" >0.001</text>
<text x="61.0" y="131.1" fill="#000" textLength="18.8" lengthAdjust="spacingAndGlyphs" >0.01</text>
<text x="66.3" y="103.69999999999999" fill="#000" textLength="13.5" lengthAdjust="spacingAndGlyphs" >0.1</text>
<text x="74.4" y="76.39999999999999" fill="#000"  >1</text>
<text x="69.0" y="49.0" fill="#000" textLength="10.8" lengthAdjust="spacingAndGlyphs" >10</text>
<text x="63.7" y="21.6" fill="#000" textLength="16.1" lengthAdjust="spacingAndGlyphs" >100</text>
<text x="223.6" y="348.4" fill="#000" textLength="68.3" lengthAdjust="spacingAndGlyphs" >monthly lambda</text>
<text transform="translate(13.0,213.8) rotate(-90)" textLength="95.8" lengthAdjust="spacingAndGlyphs">Upside Potential Ratio</text>
<text x="43.0" y="179.0" fill="#00ff00" textLength="90.4" lengthAdjust="spacingAndGlyphs" >Convertible Arbitrage</text>
<path d="M150.8,175.4H155.6M153.2,173.0V177.8" stroke="#00ff00" stroke-width="0.8" fill="none"/>
<text x="68.3" y="188.7" fill="#0000ff" textLength="65.1" lengthAdjust="spacingAndGlyphs" >Ded Short Bias</text>
<path d="M151.0,182.9L155.4,187.3M151.0,187.3L155.4,182.9" stroke="#0000ff" stroke-width="0.8" fill="none"/>
<text x="54.9" y="198.4" fill="#ff00ff" textLength="78.5" lengthAdjust="spacingAndGlyphs" >Emerging Markets</text>
<path d="M150.9,194.8H155.5M153.2,192.5V197.1M151.2,192.8L155.2,196.8M151.2,196.8L155.2,192.8" stroke="#ff00ff" stroke-opacity="0.9" stroke-width="0.75" fill="none"/>
<text x="70.5" y="208.1" fill="#00ffff" textLength="62.9" lengthAdjust="spacingAndGlyphs" >Equity Mkt Ntrl</text>
<rect x="151.0" y="202.3" width="4.4" height="4.4" stroke="#00ffff" stroke-width="0.8" fill="none"/>
<text x="78.0" y="217.8" fill="#0000ff" textLength="55.4" lengthAdjust="spacingAndGlyphs" >Event Driven</text>
<rect x="150.9" y="211.9" width="4.6" height="4.6" fill="#0000ff"/>
<text x="40.3" y="227.5" fill="#000000" textLength="93.1" lengthAdjust="spacingAndGlyphs" >Event Driven Distress</text>
<circle cx="153.2" cy="223.9" r="2.0" stroke="#000000" stroke-width="0.85" fill="none"/>
<text x="36.0" y="237.2" fill="#ff4500" textLength="97.4" lengthAdjust="spacingAndGlyphs" >Event Driven Multistrat</text>
<circle cx="153.2" cy="233.6" r="2.4" fill="#ff4500"/>
<text x="39.3" y="246.9" fill="#a0a0a0" textLength="94.1" lengthAdjust="spacingAndGlyphs" >Event Driven Risk Arb</text>
<path d="M153.2,241.3L155.2,244.8H151.2Z" stroke="#a0a0a0" stroke-width="0.85" fill="none"/>
<text x="76.9" y="256.6" fill="#ff0000" textLength="56.5" lengthAdjust="spacingAndGlyphs" >Fixed Inc Arb</text>
<path d="M153.2,250.8L155.5,254.8H150.9Z" fill="#ff0000"/>
<text x="75.8" y="266.3" fill="#00ff00" textLength="57.6" lengthAdjust="spacingAndGlyphs" >Global Macro</text>
<path d="M153.2,264.5L155.0,261.3H151.4Z" stroke="#00ff00" stroke-width="0.7" fill="none"/>
<text x="86.0" y="276.0" fill="#0000ff" textLength="47.4" lengthAdjust="spacingAndGlyphs" >Long/Short</text>
<path d="M153.2,274.6L155.5,270.6H150.9Z" fill="#0000ff"/>
<text x="57.5" y="285.7" fill="#ff00ff" textLength="75.9" lengthAdjust="spacingAndGlyphs" >Managed Futures</text>
<path d="M153.2,280.0L155.3,282.1L153.2,284.2L151.1,282.1Z" stroke="#ff00ff" stroke-width="0.85" fill="none"/>
<text x="37.5" y="295.4" fill="#ff0000" textLength="95.9" lengthAdjust="spacingAndGlyphs" >Credit Suisse/Tremont</text>
<path d="M139.5,291.5H167.5M139.5,289.5v4M167.5,289.5v4" stroke="#ff0000" stroke-opacity="0.6" stroke-width="0.9" fill="none"/>
<path d="M153.2,289.4L155.6,291.8L153.2,294.2L150.8,291.8Z" fill="#ff0000"/>
<text x="92.5" y="305.1" fill="#000000" textLength="40.9" lengthAdjust="spacingAndGlyphs" >Gaussian</text>
<path d="M139.5,301.5H167.5" stroke="#000" stroke-opacity="0.85" stroke-width="0.95" fill="none"/>
</svg>
</body></html>
